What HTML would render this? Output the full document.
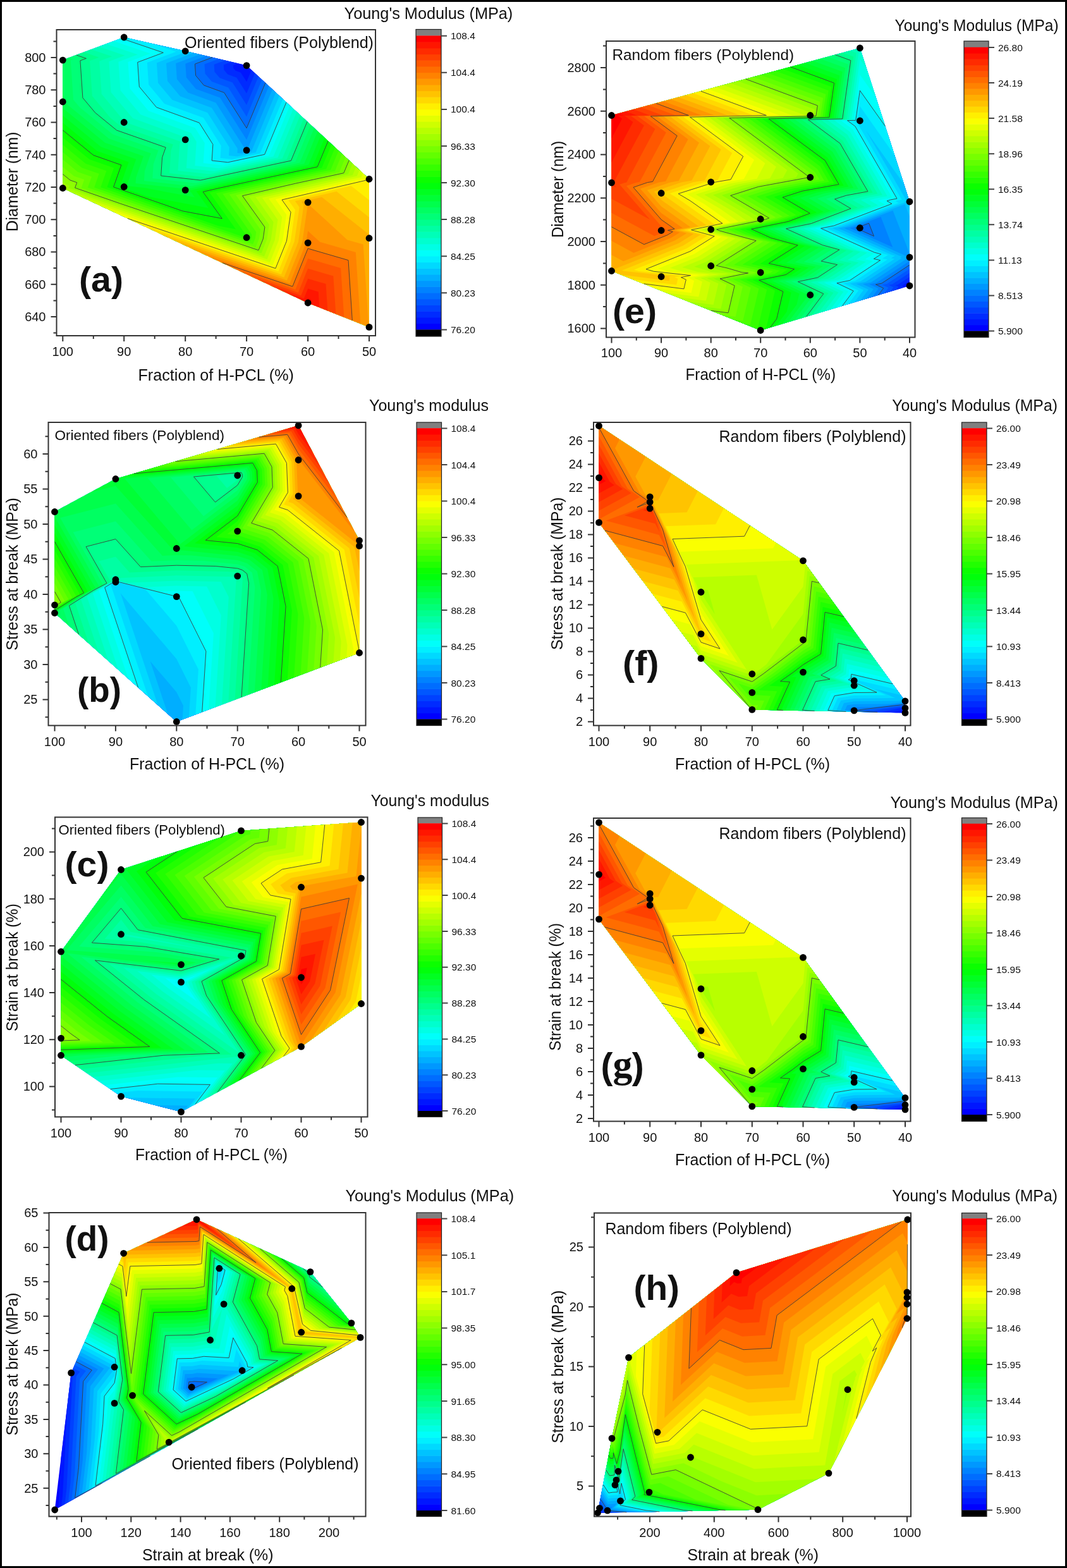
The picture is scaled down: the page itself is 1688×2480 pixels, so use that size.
<!DOCTYPE html>
<html><head><meta charset="utf-8"><title>Contour plots</title>
<style>
html,body{margin:0;padding:0;background:#fff;}
body{width:1688px;height:2480px;overflow:hidden;}
svg{display:block;}
svg text{font-family:'Liberation Sans', Arial, Helvetica, sans-serif;fill:#111;}
</style></head><body>
<svg xmlns="http://www.w3.org/2000/svg" width="1688" height="2480" viewBox="0 0 1688 2480">
<rect x="0" y="0" width="1688" height="2480" fill="#fff"/>
<g>
<path fill="#0000ff" d="M293.2,80.8L390.1,103.6L584,283.2L584,376.7L584,517.4L487.1,479L99.3,297.5L99.3,161L99.3,95.1L196.2,59L293.2,80.8Z"/>
<path fill="#0016ff" d="M386.1,102.6L384,103.4L384.1,104.7L385.1,105.9L387.5,106.8L390.1,111L392.3,105.6L584,283.2L584,376.7L584,517.4L487.1,479L99.3,297.5L99.3,161L99.3,95.1L196.2,59L293.2,80.8L386.1,102.6Z"/>
<path fill="#002bff" d="M376.1,100.3L368.9,102.9L369.2,107.7L372.6,111.7L380.9,114.7L390.1,129.3L397.9,110.7L584,283.2L584,376.7L584,517.4L487.1,479L99.3,297.5L99.3,161L99.3,95.1L196.2,59L293.2,80.8L376.1,100.3Z"/>
<path fill="#0041ff" d="M366.1,97.9L353.8,102.5L354.3,110.6L360.1,117.5L374.3,122.7L390.1,147.7L403.4,115.8L584,283.2L584,376.7L584,517.4L487.1,479L99.3,297.5L99.3,161L99.3,95.1L196.2,59L293.2,80.8L366.1,97.9Z"/>
<path fill="#0057ff" d="M356.1,95.5L338.6,102.1L339.4,113.6L347.6,123.3L367.8,130.6L390.1,166L408.9,120.9L584,283.2L584,376.7L584,517.4L487.1,479L99.3,297.5L99.3,161L99.3,95.1L196.2,59L293.2,80.8L356.1,95.5Z"/>
<path fill="#006dff" d="M346.1,93.2L323.5,101.6L324.5,116.5L335,129.1L361.2,138.6L390.1,184.4L414.4,126L584,283.2L584,376.7L584,517.4L487.1,479L99.3,297.5L99.3,161L99.3,95.1L196.2,59L293.2,80.8L346.1,93.2Z"/>
<path fill="#0082ff" d="M336.1,90.8L308.4,101.2L309.6,119.4L322.5,134.9L354.6,146.5L390.1,202.7L419.9,131.1L584,283.2L584,376.7L584,517.4L487.1,479L99.3,297.5L99.3,161L99.3,95.1L196.2,59L293.2,80.8L336.1,90.8Z"/>
<path fill="#0098ff" d="M326.1,88.5L293.3,100.7L294.8,122.4L310,140.7L348.1,154.5L390.1,221.1L425.4,136.3L584,283.2L584,376.7L584,517.4L487.1,479L99.3,297.5L99.3,161L99.3,95.1L196.2,59L293.2,80.8L326.1,88.5Z"/>
<path fill="#00aeff" d="M316,86.1L278.2,100.3L279.9,125.3L297.5,146.5L341.5,162.4L388.8,237.4L388.8,238L389.4,238L390.8,237.7L430.9,141.4L584,283.2L584,376.7L584,517.4L487.1,479L99.3,297.5L99.3,161L99.3,95.1L196.2,59L293.2,80.8L316,86.1Z"/>
<path fill="#00c3ff" d="M306,83.8L263,99.9L265,128.3L285,152.3L334.9,170.4L375.8,235.1L375.4,242L382.2,242.7L397.8,239.4L436.4,146.5L584,283.2L584,376.7L584,517.4L487.1,479L99.3,297.5L99.3,161L99.3,95.1L196.2,59L293.2,80.8L306,83.8Z"/>
<path fill="#00d9ff" d="M296,81.4L247.9,99.4L250.1,131.2L272.5,158.1L328.3,178.3L362.8,232.9L362,246L375,247.4L404.7,241L441.9,151.6L584,283.2L584,376.7L584,517.4L487.1,479L99.3,297.5L99.3,161L99.3,95.1L196.2,59L293.2,80.8L296,81.4Z"/>
<path fill="#00efff" d="M241.6,69.2L278.7,81.8L232.8,99L235.2,134.1L260,163.9L321.8,186.3L349.8,230.6L348.6,250L367.7,252.1L411.7,242.6L447.5,156.7L584,283.2L584,376.7L584,517.4L487.1,479L99.3,297.5L99.3,161L99.3,95.1L196.2,59L241.6,69.2Z"/>
<path fill="#00fffa" d="M191.8,60.6L258.3,83.3L217.7,98.5L220.3,137.1L247.5,169.7L315.2,194.2L336.8,228.4L335.2,254L360.5,256.8L418.6,244.3L453,161.8L584,283.2L584,376.7L584,517.4L487.1,479L99.3,297.5L99.3,161L99.3,95.1L191.8,60.6Z"/>
<path fill="#00ffe4" d="M180,65L238,84.8L202.5,98.1L205.4,140L235,175.5L308.6,202.2L323.8,226.2L321.7,258L353.3,261.5L425.6,245.9L458.5,166.9L584,283.2L584,376.7L584,517.4L487.1,479L99.3,297.5L99.3,161L99.3,95.1L180,65Z"/>
<path fill="#00ffce" d="M168.2,69.4L217.7,86.3L187.4,97.7L190.5,143L222.5,181.3L302.1,210.2L310.8,223.9L308.3,262L346,266.2L432.5,247.6L464,172L584,283.2L584,376.7L584,517.4L487.1,479L99.3,297.5L99.3,161L99.3,95.1L168.2,69.4Z"/>
<path fill="#00ffb8" d="M156.4,73.8L197.4,87.8L172.3,97.2L175.6,145.9L210,187.1L295.5,218.1L297.8,221.7L294.9,266L338.8,270.9L439.5,249.2L469.5,177.1L584,283.2L584,376.7L584,517.4L487.1,479L99.3,297.5L99.3,161L99.3,95.1L156.4,73.8Z"/>
<path fill="#00ffa3" d="M144.5,78.2L177.1,89.3L157.2,96.8L160.7,148.8L197.5,192.9L209.2,197.2L285.6,223.9L284.2,227.8L281.5,270L331.6,275.6L446.5,250.8L475,182.2L584,283.2L584,376.7L584,517.4L487.1,479L99.3,297.5L99.3,161L99.3,95.1L144.5,78.2Z"/>
<path fill="#00ff8d" d="M132.7,82.6L156.7,90.8L142,96.3L145.8,151.8L174.5,186.2L190.7,199.4L273.9,228.5L270.4,238.4L268.1,274L324.4,280.3L453.4,252.5L480.5,187.3L584,283.2L584,376.7L584,517.4L487.1,479L99.3,297.5L99.3,161L99.3,95.1L132.7,82.6Z"/>
<path fill="#00ff77" d="M120.9,87.1L136.4,92.4L126.9,95.9L130.9,154.7L150.5,178.1L184.6,206L262.2,233.2L256.6,249.1L254.7,278L317.1,285L460.4,254.1L486,192.4L584,283.2L584,376.7L584,517.4L487.1,479L99.3,297.5L99.3,161L99.3,95.1L120.9,87.1Z"/>
<path fill="#00ff62" d="M109.1,91.5L116.1,93.9L111.8,95.5L116,157.7L126.4,170L178.4,212.6L250.5,237.8L242.7,259.7L241.3,282L309.9,289.7L467.3,255.7L491.5,197.5L584,283.2L584,376.7L584,517.4L487.1,479L99.3,297.5L99.3,161L99.3,95.1L109.1,91.5Z"/>
<path fill="#00ff4c" d="M99.3,133.5L101.1,160.6L102.3,162L172.3,219.2L238.7,242.4L228.9,270.4L227.9,286L302.7,294.4L474.3,257.4L497.1,202.6L584,283.2L584,376.7L584,517.4L487.1,479L99.3,297.5L99.3,161L99.3,133.5Z"/>
<path fill="#00ff36" d="M99.3,171.1L166.2,225.8L227,247.1L215.1,281L214.5,290L295.5,299.1L481.2,259L502.6,207.7L584,283.2L584,376.7L584,517.4L487.1,479L99.3,297.5L99.3,171.1Z"/>
<path fill="#00ff21" d="M99.3,182.7L160,232.4L215.3,251.7L201.2,291.7L201.1,294L229.7,297.3L308,312.1L300.3,301.3L306.9,299.8L488.2,260.6L508.1,212.8L584,283.2L584,376.7L584,517.4L487.1,479L99.3,297.5L99.3,182.7Z"/>
<path fill="#00ff0b" d="M99.3,194.3L153.9,238.9L203.6,256.3L189.7,295.6L232.4,310.5L329.7,328.9L310.7,302.4L327,298.6L495.1,262.3L513.6,218L584,283.2L584,376.7L584,517.4L487.1,479L99.3,297.5L99.3,194.3Z"/>
<path fill="#0bff00" d="M99.3,205.9L147.8,245.5L191.9,261L179.6,295.8L289,333.8L351.3,345.7L321.1,303.4L347.1,297.4L502.1,263.9L519.1,223.1L584,283.2L584,376.7L584,517.4L487.1,479L99.3,297.5L99.3,205.9Z"/>
<path fill="#21ff00" d="M99.3,217.5L141.6,252.1L180.2,265.6L169.4,296.1L345.5,357.2L373,362.5L331.5,304.5L367.3,296.2L509,265.6L524.6,228.2L584,283.2L584,376.7L584,517.4L487.1,479L99.3,297.5L99.3,217.5Z"/>
<path fill="#36ff00" d="M99.3,229.1L135.5,258.7L168.4,270.2L159.3,296.3L380.1,373L391.1,376.7L391.4,375.8L391.6,374.9L341.9,305.5L387.4,295L516,267.2L530.1,233.3L584,283.2L584,376.7L584,517.4L487.1,479L99.3,297.5L99.3,229.1Z"/>
<path fill="#4cff00" d="M99.3,240.7L129.4,265.3L156.7,274.8L149.1,296.5L332.5,360.2L395.6,381.5L397.6,376.3L398.4,370.9L352.3,306.6L407.5,293.8L523,268.8L535.6,238.4L584,283.2L584,376.7L584,517.4L487.1,479L99.3,297.5L99.3,240.7Z"/>
<path fill="#62ff00" d="M99.3,252.3L123.2,271.9L145,279.5L138.9,296.7L284.9,347.4L400,386.3L403.8,376.9L405.3,367L362.7,307.6L427.6,292.6L529.9,270.5L541.1,243.5L584,283.2L584,376.7L584,517.4L487.1,479L99.3,297.5L99.3,252.3Z"/>
<path fill="#77ff00" d="M99.3,263.9L117.1,278.4L133.3,284.1L128.8,296.9L237.3,334.6L404.5,391L410,377.4L412.1,363.1L373.1,308.6L447.7,291.4L536.9,272.1L546.7,248.6L584,283.2L584,376.7L584,517.4L487.1,479L99.3,297.5L99.3,263.9Z"/>
<path fill="#8dff00" d="M99.3,275.5L111,285L121.6,288.7L118.6,297.1L189.7,321.8L409,395.8L416.2,378L418.9,359.2L383.5,309.7L467.8,290.1L543.8,273.7L552.2,253.7L584,283.2L584,376.7L584,517.4L487.1,479L99.3,297.5L99.3,275.5Z"/>
<path fill="#a3ff00" d="M99.3,287.1L104.8,291.6L109.9,293.4L108.5,297.3L142.2,309.1L413.5,400.6L422.4,378.5L425.8,355.2L393.9,310.7L487.9,288.9L550.8,275.4L557.7,258.8L584,283.2L584,376.7L584,517.4L487.1,479L99.3,297.5L99.3,287.1Z"/>
<path fill="#b8ff00" d="M101.8,298.7L418,405.4L428.6,379L432.6,351.3L404.3,311.8L508,287.7L557.7,277L563.2,263.9L584,283.2L584,376.7L584,517.4L487.1,479L101.8,298.7Z"/>
<path fill="#ceff00" d="M126.8,310.4L422.5,410.1L434.8,379.6L439.5,347.4L414.7,312.8L528.2,286.5L564.7,278.6L568.7,269L584,283.2L584,376.7L584,517.4L487.1,479L126.8,310.4Z"/>
<path fill="#e4ff00" d="M151.8,322.1L426.9,414.9L441,380.1L446.3,343.5L425.1,313.9L548.3,285.3L571.6,280.3L574.2,274.1L584,283.2L584,376.7L584,517.4L487.1,479L151.8,322.1Z"/>
<path fill="#faff00" d="M176.8,333.8L431.4,419.7L447.2,380.7L453.2,339.5L435.6,314.9L568.4,284.1L578.6,281.9L579.7,279.2L584,283.2L584,376.7L584,517.4L487.1,479L176.8,333.8Z"/>
<path fill="#ffef00" d="M201.8,345.5L435.9,424.5L453.4,381.2L460,335.6L446,316L578.8,285.2L584,289.3L584,376.7L584,517.4L487.1,479L201.8,345.5Z"/>
<path fill="#ffd900" d="M226.8,357.2L440.4,429.3L459.6,381.8L466.9,331.7L456.4,317L555.6,294L584,316.6L584,376.7L584,517.4L487.1,479L226.8,357.2Z"/>
<path fill="#ffc300" d="M251.9,368.9L444.9,434L465.7,382.3L473.7,327.7L466.8,318L532.4,302.8L584,343.8L584,376.7L584,517.4L487.1,479L251.9,368.9Z"/>
<path fill="#ffae00" d="M276.9,380.6L449.4,438.8L471.9,382.8L480.6,323.8L477.2,319.1L509.1,311.7L584,371.1L584,376.7L584,517.4L487.1,479L276.9,380.6Z"/>
<path fill="#ff9800" d="M301.9,392.3L453.9,443.6L478.1,383.4L487.1,322.2L549.5,379.4L574.6,386.6L583.4,517.1L487.1,479L301.9,392.3Z"/>
<path fill="#ff8200" d="M326.9,404L458.3,448.4L484.3,383.9L487.1,365.2L506.2,382.7L562.8,399.1L570.3,512L487.1,479L326.9,404Z"/>
<path fill="#ff6d00" d="M351.9,415.7L462.8,453.1L487.1,393L551,411.6L557.3,506.8L487.1,479L351.9,415.7Z"/>
<path fill="#ff5700" d="M376.9,427.4L467.3,457.9L487.1,408.9L539.1,424L544.3,501.7L487.1,479L376.9,427.4Z"/>
<path fill="#ff4100" d="M401.9,439.1L471.8,462.7L487.1,424.8L527.3,436.5L531.3,496.5L487.1,479L401.9,439.1Z"/>
<path fill="#ff2b00" d="M426.9,450.8L476.3,467.5L487.1,440.7L515.5,449L518.3,491.4L487.1,479L426.9,450.8Z"/>
<path fill="#ff1600" d="M452,462.5L480.8,472.3L487.1,456.6L503.7,461.5L505.3,486.2L487.1,479L452,462.5Z"/>
<path fill="#ff0000" d="M477,474.2L485.2,477L487.1,472.5L491.8,473.9L492.3,481L487.1,479L477,474.2Z"/>
<path fill="none" stroke="#3a3a3a" stroke-width="1" stroke-opacity="0.85" d="M336.1,90.8L308.4,101.2L309.6,119.4L322.5,134.9L354.6,146.5L390.1,202.7L419.9,131.1M191.8,60.6L258.3,83.3L217.7,98.5L220.3,137.1L247.5,169.7L315.2,194.2L336.8,228.4L335.2,254L360.5,256.8L418.6,244.3L453,161.8M120.9,87.1L136.4,92.4L126.9,95.9L130.9,154.7L150.5,178.1L184.6,206L262.2,233.2L256.6,249.1L254.7,278L317.1,285L460.4,254.1L486,192.4M99.3,205.9L147.8,245.5L191.9,261L179.6,295.8L289,333.8L351.3,345.7L321.1,303.4L347.1,297.4L502.1,263.9L519.1,223.1M99.3,275.5L111,285L121.6,288.7L118.6,297.1L189.7,321.8L409,395.8L416.2,378L418.9,359.2L383.5,309.7L467.8,290.1L543.8,273.7L552.2,253.7M201.8,345.5L435.9,424.5L453.4,381.2L460,335.6L446,316L578.8,285.2L584,289.3M351.9,415.7L462.8,453.1L487.1,393L551,411.6L557.3,506.8"/>
<circle cx="99.3" cy="95.1" r="5.4"/>
<circle cx="99.3" cy="161" r="5.4"/>
<circle cx="99.3" cy="297.5" r="5.4"/>
<circle cx="196.2" cy="59" r="5.4"/>
<circle cx="196.2" cy="193.5" r="5.4"/>
<circle cx="196.2" cy="295.5" r="5.4"/>
<circle cx="293.2" cy="80.8" r="5.4"/>
<circle cx="293.2" cy="220.9" r="5.4"/>
<circle cx="293.2" cy="300.6" r="5.4"/>
<circle cx="390.1" cy="103.6" r="5.4"/>
<circle cx="390.1" cy="237.6" r="5.4"/>
<circle cx="390.1" cy="375.7" r="5.4"/>
<circle cx="487.1" cy="320.1" r="5.4"/>
<circle cx="487.1" cy="384.1" r="5.4"/>
<circle cx="487.1" cy="479" r="5.4"/>
<circle cx="584" cy="283.2" r="5.4"/>
<circle cx="584" cy="376.7" r="5.4"/>
<circle cx="584" cy="517.4" r="5.4"/>
<text x="584" y="563" text-anchor="middle" font-size="20">50</text>
<text x="487.1" y="563" text-anchor="middle" font-size="20">60</text>
<text x="390.1" y="563" text-anchor="middle" font-size="20">70</text>
<text x="293.2" y="563" text-anchor="middle" font-size="20">80</text>
<text x="196.2" y="563" text-anchor="middle" font-size="20">90</text>
<text x="99.3" y="563" text-anchor="middle" font-size="20">100</text>
<text x="72.5" y="507.8" text-anchor="end" font-size="20">640</text>
<text x="72.5" y="456.6" text-anchor="end" font-size="20">660</text>
<text x="72.5" y="405.3" text-anchor="end" font-size="20">680</text>
<text x="72.5" y="354.1" text-anchor="end" font-size="20">700</text>
<text x="72.5" y="302.8" text-anchor="end" font-size="20">720</text>
<text x="72.5" y="251.6" text-anchor="end" font-size="20">740</text>
<text x="72.5" y="200.3" text-anchor="end" font-size="20">760</text>
<text x="72.5" y="149.1" text-anchor="end" font-size="20">780</text>
<text x="72.5" y="97.8" text-anchor="end" font-size="20">800</text>
<path fill="none" stroke="#333" stroke-width="2" d="M584,531V540M487.1,531V540M390.1,531V540M293.2,531V540M196.2,531V540M99.3,531V540M535.5,531V536M438.6,531V536M341.6,531V536M244.7,531V536M147.8,531V536M89.5,501H80.5M89.5,449.8H80.5M89.5,398.5H80.5M89.5,347.2H80.5M89.5,296H80.5M89.5,244.8H80.5M89.5,193.5H80.5M89.5,142.2H80.5M89.5,91H80.5M89.5,526.6H84.5M89.5,475.4H84.5M89.5,424.1H84.5M89.5,372.9H84.5M89.5,321.6H84.5M89.5,270.4H84.5M89.5,219.1H84.5M89.5,167.9H84.5M89.5,116.6H84.5M89.5,65.4H84.5"/>
<rect x="89.5" y="47" width="504.5" height="484" fill="none" stroke="#333" stroke-width="2"/>
<rect x="658" y="46.5" width="40" height="10.200000000000003" fill="#808080"/>
<rect x="658" y="511.4" width="40" height="10.3" fill="#0000ff"/>
<rect x="658" y="501.7" width="40" height="10.3" fill="#0016ff"/>
<rect x="658" y="492.1" width="40" height="10.3" fill="#002bff"/>
<rect x="658" y="482.4" width="40" height="10.3" fill="#0041ff"/>
<rect x="658" y="472.7" width="40" height="10.3" fill="#0057ff"/>
<rect x="658" y="463" width="40" height="10.3" fill="#006dff"/>
<rect x="658" y="453.3" width="40" height="10.3" fill="#0082ff"/>
<rect x="658" y="443.6" width="40" height="10.3" fill="#0098ff"/>
<rect x="658" y="434" width="40" height="10.3" fill="#00aeff"/>
<rect x="658" y="424.3" width="40" height="10.3" fill="#00c3ff"/>
<rect x="658" y="414.6" width="40" height="10.3" fill="#00d9ff"/>
<rect x="658" y="404.9" width="40" height="10.3" fill="#00efff"/>
<rect x="658" y="395.2" width="40" height="10.3" fill="#00fffa"/>
<rect x="658" y="385.6" width="40" height="10.3" fill="#00ffe4"/>
<rect x="658" y="375.9" width="40" height="10.3" fill="#00ffce"/>
<rect x="658" y="366.2" width="40" height="10.3" fill="#00ffb8"/>
<rect x="658" y="356.5" width="40" height="10.3" fill="#00ffa3"/>
<rect x="658" y="346.8" width="40" height="10.3" fill="#00ff8d"/>
<rect x="658" y="337.2" width="40" height="10.3" fill="#00ff77"/>
<rect x="658" y="327.5" width="40" height="10.3" fill="#00ff62"/>
<rect x="658" y="317.8" width="40" height="10.3" fill="#00ff4c"/>
<rect x="658" y="308.1" width="40" height="10.3" fill="#00ff36"/>
<rect x="658" y="298.4" width="40" height="10.3" fill="#00ff21"/>
<rect x="658" y="288.7" width="40" height="10.3" fill="#00ff0b"/>
<rect x="658" y="279.1" width="40" height="10.3" fill="#0bff00"/>
<rect x="658" y="269.4" width="40" height="10.3" fill="#21ff00"/>
<rect x="658" y="259.7" width="40" height="10.3" fill="#36ff00"/>
<rect x="658" y="250" width="40" height="10.3" fill="#4cff00"/>
<rect x="658" y="240.3" width="40" height="10.3" fill="#62ff00"/>
<rect x="658" y="230.7" width="40" height="10.3" fill="#77ff00"/>
<rect x="658" y="221" width="40" height="10.3" fill="#8dff00"/>
<rect x="658" y="211.3" width="40" height="10.3" fill="#a3ff00"/>
<rect x="658" y="201.6" width="40" height="10.3" fill="#b8ff00"/>
<rect x="658" y="191.9" width="40" height="10.3" fill="#ceff00"/>
<rect x="658" y="182.3" width="40" height="10.3" fill="#e4ff00"/>
<rect x="658" y="172.6" width="40" height="10.3" fill="#faff00"/>
<rect x="658" y="162.9" width="40" height="10.3" fill="#ffef00"/>
<rect x="658" y="153.2" width="40" height="10.3" fill="#ffd900"/>
<rect x="658" y="143.5" width="40" height="10.3" fill="#ffc300"/>
<rect x="658" y="133.8" width="40" height="10.3" fill="#ffae00"/>
<rect x="658" y="124.2" width="40" height="10.3" fill="#ff9800"/>
<rect x="658" y="114.5" width="40" height="10.3" fill="#ff8200"/>
<rect x="658" y="104.8" width="40" height="10.3" fill="#ff6d00"/>
<rect x="658" y="95.1" width="40" height="10.3" fill="#ff5700"/>
<rect x="658" y="85.4" width="40" height="10.3" fill="#ff4100"/>
<rect x="658" y="75.8" width="40" height="10.3" fill="#ff2b00"/>
<rect x="658" y="66.1" width="40" height="10.3" fill="#ff1600"/>
<rect x="658" y="56.4" width="40" height="10.3" fill="#ff0000"/>
<rect x="658" y="521.4" width="40" height="10.6" fill="#000"/>
<rect x="658" y="46.5" width="40" height="485.5" fill="none" stroke="#222" stroke-width="1.2"/>
<text x="713" y="62.2" font-size="15.5">108.4</text>
<text x="713" y="120.3" font-size="15.5">104.4</text>
<text x="713" y="178.4" font-size="15.5">100.4</text>
<text x="713" y="236.5" font-size="15.5">96.33</text>
<text x="713" y="294.6" font-size="15.5">92.30</text>
<text x="713" y="352.7" font-size="15.5">88.28</text>
<text x="713" y="410.8" font-size="15.5">84.25</text>
<text x="713" y="468.9" font-size="15.5">80.23</text>
<text x="713" y="526.9" font-size="15.5">76.20</text>
<path stroke="#444" stroke-width="2" d="M698,56.7H707M698,114.8H707M698,172.9H707M698,231H707M698,289.1H707M698,347.1H707M698,405.2H707M698,463.3H707M698,521.4H707"/>
<text x="544.6" y="29.5" font-size="25" textLength="266.7" lengthAdjust="spacingAndGlyphs">Young's Modulus (MPa)</text>
<text x="292" y="76" font-size="25" textLength="299" lengthAdjust="spacingAndGlyphs">Oriented fibers (Polyblend)</text>
<text x="341.75" y="601.5" font-size="25" text-anchor="middle" textLength="246.5" lengthAdjust="spacingAndGlyphs">Fraction of H-PCL (%)</text>
<text x="28.2" y="287.4" font-size="25" text-anchor="middle" transform="rotate(-90 28.2 287.4)" textLength="157.8" lengthAdjust="spacingAndGlyphs">Diameter (nm)</text>
<text x="125" y="461" font-size="56" font-weight="bold" textLength="70" lengthAdjust="spacingAndGlyphs">(a)</text>
</g>
<g>
<path fill="#0000ff" d="M568.5,1032.5L279.3,1141.5L86.5,969.5L86.5,957L86.5,809.5L182.9,757.5L472.1,673L568.5,855L568.5,863.4L568.5,1032.5Z"/>
<path fill="#0016ff" d="M568.5,1032.5L279.3,1141.5L86.5,969.5L86.5,957L86.5,809.5L182.9,757.5L472.1,673L568.5,855L568.5,863.4L568.5,1032.5Z"/>
<path fill="#002bff" d="M568.5,1032.5L279.3,1141.5L86.5,969.5L86.5,957L86.5,809.5L182.9,757.5L472.1,673L568.5,855L568.5,863.4L568.5,1032.5Z"/>
<path fill="#0041ff" d="M568.5,1032.5L279.3,1141.5L86.5,969.5L86.5,957L86.5,809.5L182.9,757.5L472.1,673L568.5,855L568.5,863.4L568.5,1032.5Z"/>
<path fill="#0057ff" d="M568.5,1032.5L279.3,1141.5L86.5,969.5L86.5,957L86.5,809.5L182.9,757.5L472.1,673L568.5,855L568.5,863.4L568.5,1032.5Z"/>
<path fill="#006dff" d="M568.5,1032.5L279.3,1141.5L86.5,969.5L86.5,957L86.5,809.5L182.9,757.5L472.1,673L568.5,855L568.5,863.4L568.5,1032.5Z"/>
<path fill="#0082ff" d="M568.5,1032.5L279.3,1141.5L86.5,969.5L86.5,957L86.5,809.5L182.9,757.5L472.1,673L568.5,855L568.5,863.4L568.5,1032.5Z"/>
<path fill="#0098ff" d="M568.5,1032.5L279.3,1141.5L86.5,969.5L86.5,957L86.5,809.5L182.9,757.5L472.1,673L568.5,855L568.5,863.4L568.5,1032.5Z"/>
<path fill="#00aeff" d="M568.5,1032.5L279.3,1141.5L86.5,969.5L86.5,957L86.5,809.5L182.9,757.5L472.1,673L568.5,855L568.5,863.4L568.5,1032.5Z"/>
<path fill="#00c3ff" d="M288.6,1138L290,1116L279.3,1094.7L237.6,1045.8L265.4,1129L86.5,969.5L86.5,957L86.5,809.5L182.9,757.5L472.1,673L568.5,855L568.5,863.4L568.5,1032.5L288.6,1138Z"/>
<path fill="#00d9ff" d="M298.9,1134.1L301.9,1087.4L279.3,1042.2L190.7,938.3L249.7,1115.1L86.5,969.5L86.5,957L86.5,809.5L182.9,757.5L472.1,673L568.5,855L568.5,863.4L568.5,1032.5L298.9,1134.1Z"/>
<path fill="#00efff" d="M309.3,1130.1L313.9,1058.8L279.3,989.8L229.8,931.7L182.9,919.9L179.2,921.9L175.1,924.4L234.1,1101.1L86.5,969.5L86.5,957L86.5,809.5L182.9,757.5L472.1,673L568.5,855L568.5,863.4L568.5,1032.5L309.3,1130.1Z"/>
<path fill="#00fffa" d="M319.7,1126.2L325.9,1030.1L282,942.6L279.3,942.6L276.3,942.7L182.9,919.2L174.7,923.6L165.7,929.2L218.5,1087.2L86.5,969.5L86.5,957L86.5,809.5L182.9,757.5L472.1,673L568.5,855L568.5,863.4L568.5,1032.5L319.7,1126.2Z"/>
<path fill="#00ffe4" d="M330.1,1122.3L337.9,1001.5L304.5,935.1L279.3,934.5L251.1,935.7L182.9,918.5L170.2,925.3L156.3,934L202.8,1073.3L86.5,969.5L86.5,957L86.5,809.5L182.9,757.5L472.1,673L568.5,855L568.5,863.4L568.5,1032.5L330.1,1122.3Z"/>
<path fill="#00ffce" d="M340.5,1118.4L349.8,972.9L327.1,927.5L279.3,926.4L226,928.7L182.9,917.9L165.7,927L146.9,938.8L187.2,1059.3L86.5,969.5L86.5,957L86.5,809.5L182.9,757.5L472.1,673L568.5,855L568.5,863.4L568.5,1032.5L340.5,1118.4Z"/>
<path fill="#00ffb8" d="M350.9,1114.5L361.8,944.3L349.6,919.9L279.3,918.4L200.8,921.7L182.9,917.2L161.2,928.7L137.5,943.6L171.5,1045.4L86.5,969.5L86.5,957L86.5,809.5L182.9,757.5L472.1,673L568.5,855L568.5,863.4L568.5,1032.5L350.9,1114.5Z"/>
<path fill="#00ffa3" d="M361.3,1110.6L373.8,915.7L372.1,912.3L279.3,910.3L187.9,914.2L182.9,908.6L177,910.1L181.2,917.4L156.7,930.4L128.1,948.3L155.9,1031.4L86.5,969.5L86.5,957L86.5,809.5L182.9,757.5L472.1,673L568.5,855L568.5,863.4L568.5,1032.5L361.3,1110.6Z"/>
<path fill="#00ff8d" d="M371.6,1106.7L383.9,916.3L382.5,909.5L379.1,906.7L375.7,905.6L359.9,904L279.3,902.2L205.1,905.4L182.9,880.6L156.5,887.4L175.1,920L152.2,932.1L118.8,953.1L140.3,1017.5L86.5,969.5L86.5,957L86.5,809.5L182.9,757.5L472.1,673L568.5,855L568.5,863.4L568.5,1032.5L371.6,1106.7ZM342.9,752.9L359,772L375.7,759.3L379.3,753.2L379.2,751.1L378.4,749.7L342.9,752.9Z"/>
<path fill="#00ff77" d="M382,1102.7L393.6,922.4L390.6,907.4L383.1,901.4L375.7,899L341.2,895.5L279.3,894.2L222.4,896.6L182.9,852.6L136.1,864.6L169,922.5L147.7,933.8L109.4,957.9L124.6,1003.5L86.5,969.5L86.5,957L86.5,809.5L182.9,757.5L472.1,673L568.5,855L568.5,863.4L568.5,1032.5L382,1102.7ZM306.5,754L340.5,794.2L375.7,767.4L383.3,754.5L383.1,750.1L381.5,747.2L306.5,754Z"/>
<path fill="#00ff62" d="M392.4,1098.8L403.4,928.6L398.7,905.4L387.1,896.2L375.7,892.5L322.4,887L279.3,886.1L239.6,887.8L182.9,824.5L115.6,841.8L163,925L143.2,935.5L100,962.7L109,989.6L86.5,969.5L86.5,957L86.5,809.5L182.9,757.5L472.1,673L568.5,855L568.5,863.4L568.5,1032.5L392.4,1098.8ZM270,755L322,816.4L375.7,775.5L387.3,755.9L387,749.1L384.6,744.7L270,755Z"/>
<path fill="#00ff4c" d="M402.8,1094.9L413.1,934.7L406.8,903.4L391.1,890.9L375.7,885.9L303.7,878.6L279.3,878L256.8,879L182.9,796.5L95.1,819.1L156.9,927.6L138.7,937.2L90.6,967.4L93.3,975.6L86.5,969.5L86.5,957L86.5,809.5L182.9,757.5L472.1,673L568.5,855L568.5,863.4L568.5,1032.5L402.8,1094.9ZM233.6,756.1L303.4,838.6L375.7,783.6L391.3,757.3L390.9,748.1L387.6,742.2L233.6,756.1Z"/>
<path fill="#00ff36" d="M413.2,1091L422.8,940.8L414.9,901.4L395.1,885.6L375.7,879.3L285,870.1L279.3,870L274.1,870.2L182.9,768.5L144,778.5L182.9,757.5L472.1,673L568.5,855L568.5,863.4L568.5,1032.5L413.2,1091ZM86.5,817.1L150.8,930.1L134.2,938.9L86.5,968.9L86.5,957L86.5,817.1ZM197.2,757.1L284.9,860.8L375.7,791.7L395.3,758.6L394.8,747.1L390.7,739.7L197.2,757.1Z"/>
<path fill="#00ff21" d="M423.6,1087.1L432.6,946.9L423,899.4L399.1,880.4L375.7,872.7L291.2,864.1L375.7,799.8L399.3,760L398.7,746.1L393.7,737.2L189.6,755.6L472.1,673L568.5,855L568.5,863.4L568.5,1032.5L423.6,1087.1ZM86.5,830.3L144.8,932.6L129.7,940.6L86.5,967.8L86.5,957L86.5,830.3Z"/>
<path fill="#00ff0b" d="M434,1083.2L442.3,953.1L431.1,897.4L403.1,875.1L375.7,866.2L308.2,859.3L375.7,807.9L403.3,761.3L402.6,745.1L396.8,734.7L200.6,752.3L472.1,673L568.5,855L568.5,863.4L568.5,1032.5L434,1083.2ZM86.5,843.5L138.7,935.2L125.2,942.3L86.5,966.6L86.5,957L86.5,843.5Z"/>
<path fill="#0bff00" d="M444.3,1079.3L452.1,959.2L439.2,895.4L407.2,869.8L375.7,859.6L325.2,854.5L375.7,816L407.3,762.7L406.5,744.2L399.8,732.2L211.6,749.1L472.1,673L568.5,855L568.5,863.4L568.5,1032.5L444.3,1079.3ZM86.5,856.7L132.6,937.7L120.7,944L86.5,965.5L86.5,957L86.5,856.7Z"/>
<path fill="#21ff00" d="M454.7,1075.3L461.8,965.3L447.3,893.4L411.2,864.6L375.7,853L342.2,849.6L375.7,824.2L411.3,764L410.4,743.2L402.9,729.7L222.6,745.9L472.1,673L568.5,855L568.5,863.4L568.5,1032.5L454.7,1075.3ZM86.5,869.9L126.6,940.2L116.2,945.7L86.5,964.4L86.5,957L86.5,869.9Z"/>
<path fill="#36ff00" d="M465.1,1071.4L471.5,971.5L455.4,891.4L415.2,859.3L375.7,846.5L359.3,844.8L375.7,832.3L415.3,765.4L414.3,742.2L405.9,727.2L233.6,742.7L472.1,673L568.5,855L568.5,863.4L568.5,1032.5L465.1,1071.4ZM86.5,883.1L120.5,942.8L111.7,947.4L86.5,963.3L86.5,957L86.5,883.1Z"/>
<path fill="#4cff00" d="M475.5,1067.5L481.3,977.6L463.6,889.4L419.2,854.1L375.9,840L419.3,766.7L418.2,741.2L409,724.7L244.6,739.5L472.1,673L568.5,855L568.5,863.4L568.5,1032.5L475.5,1067.5ZM86.5,896.3L114.4,945.3L107.2,949.1L86.5,962.2L86.5,957L86.5,896.3Z"/>
<path fill="#62ff00" d="M485.9,1063.6L491,983.7L471.7,887.4L423.2,848.8L383.2,835.8L423.3,768.1L422.1,740.2L412,722.2L255.6,736.3L472.1,673L568.5,855L568.5,863.4L568.5,1032.5L485.9,1063.6ZM86.5,909.4L108.4,947.8L102.7,950.8L86.5,961L86.5,957L86.5,909.4Z"/>
<path fill="#77ff00" d="M496.3,1059.7L500.8,989.8L479.8,885.4L427.2,843.5L390.5,831.6L427.3,769.4L426,739.2L415.1,719.7L266.6,733.1L472.1,673L568.5,855L568.5,863.4L568.5,1032.5L496.3,1059.7ZM86.5,922.6L102.3,950.4L98.2,952.5L86.5,959.9L86.5,957L86.5,922.6Z"/>
<path fill="#8dff00" d="M506.7,1055.8L510.5,996L487.9,883.4L431.2,838.3L397.8,827.4L431.3,770.8L430,738.2L418.1,717.2L277.6,729.9L472.1,673L568.5,855L568.5,863.4L568.5,1032.5L506.7,1055.8ZM86.5,935.8L96.2,952.9L93.7,954.3L86.5,958.8L86.5,957L86.5,935.8Z"/>
<path fill="#a3ff00" d="M517,1051.9L520.2,1002.1L496,881.4L435.2,833L405.1,823.2L435.3,772.2L433.9,737.2L421.2,714.7L288.6,726.6L472.1,673L568.5,855L568.5,863.4L568.5,1032.5L517,1051.9ZM86.5,949L90.2,955.5L89.2,956L86.5,957.7L86.5,957L86.5,949Z"/>
<path fill="#b8ff00" d="M527.4,1047.9L530,1008.2L504.1,879.4L439.2,827.7L412.4,819L439.3,773.5L437.8,736.2L424.2,712.2L299.6,723.4L472.1,673L568.5,855L568.5,863.4L568.5,1032.5L527.4,1047.9Z"/>
<path fill="#ceff00" d="M537.8,1044L539.7,1014.4L512.2,877.4L443.3,822.5L419.7,814.8L443.3,774.9L441.7,735.3L427.3,709.7L310.6,720.2L472.1,673L568.5,855L568.5,863.4L568.5,1032.5L537.8,1044Z"/>
<path fill="#e4ff00" d="M548.2,1040.1L549.5,1020.5L520.3,875.3L447.3,817.2L427,810.6L447.3,776.2L445.6,734.3L430.3,707.2L321.6,717L472.1,673L568.5,855L568.5,863.4L568.5,1032.5L548.2,1040.1Z"/>
<path fill="#faff00" d="M558.6,1036.2L559.2,1026.6L528.4,873.3L451.3,811.9L434.3,806.4L451.3,777.6L449.5,733.3L433.4,704.7L332.6,713.8L472.1,673L568.5,855L568.5,863.4L568.5,1032.5L558.6,1036.2Z"/>
<path fill="#ffef00" d="M568.5,1030.6L536.5,871.3L455.3,806.7L441.6,802.2L455.3,778.9L453.4,732.3L436.4,702.2L343.6,710.6L472.1,673L568.5,855L568.5,863.4L568.5,1030.6Z"/>
<path fill="#ffd900" d="M568.5,988.3L544.6,869.3L459.3,801.4L448.9,798L459.3,780.3L457.3,731.3L439.5,699.7L354.6,707.4L472.1,673L568.5,855L568.5,863.4L568.5,988.3Z"/>
<path fill="#ffc300" d="M568.5,945.9L552.7,867.3L463.3,796.1L456.1,793.8L463.3,781.6L461.2,730.3L442.5,697.2L365.6,704.2L472.1,673L568.5,855L568.5,863.4L568.5,945.9Z"/>
<path fill="#ffae00" d="M568.5,903.6L560.8,865.3L467.3,790.9L463.4,789.6L467.3,783L465.1,729.3L445.6,694.7L376.6,701L472.1,673L568.5,855L568.5,863.4L568.5,903.6Z"/>
<path fill="#ff9800" d="M568.5,862.7L548.4,847L471.3,785.6L470.7,785.4L471.3,784.3L469,728.3L448.6,692.3L387.6,697.7L472.1,673L568.5,855L568.5,862.7Z"/>
<path fill="#ff8200" d="M562.8,844.1L472.1,726L451.7,689.8L398.6,694.5L472.1,673L562.8,844.1Z"/>
<path fill="#ff6d00" d="M549.2,818.6L472.1,718L454.7,687.3L409.6,691.3L472.1,673L549.2,818.6Z"/>
<path fill="#ff5700" d="M535.6,793L472.1,710.1L457.8,684.8L420.6,688.1L472.1,673L535.6,793Z"/>
<path fill="#ff4100" d="M522.1,767.4L472.1,702.2L460.8,682.3L431.6,684.9L472.1,673L522.1,767.4Z"/>
<path fill="#ff2b00" d="M508.5,741.8L472.1,694.3L463.9,679.8L442.5,681.7L472.1,673L508.5,741.8Z"/>
<path fill="#ff1600" d="M495,716.2L472.1,686.4L467,677.3L453.5,678.5L472.1,673L495,716.2Z"/>
<path fill="#ff0000" d="M481.4,690.6L472.1,678.5L470,674.8L464.5,675.3L472.1,673L481.4,690.6Z"/>
<path fill="none" stroke="#3a3a3a" stroke-width="1" stroke-opacity="0.85" d="M319.7,1126.2L325.9,1030.1L282,942.6L279.3,942.6L276.3,942.7L182.9,919.2L174.7,923.6L165.7,929.2L218.5,1087.2M382,1102.7L393.6,922.4L390.6,907.4L383.1,901.4L375.7,899L341.2,895.5L279.3,894.2L222.4,896.6L182.9,852.6L136.1,864.6L169,922.5L147.7,933.8L109.4,957.9L124.6,1003.5M306.5,754L340.5,794.2L375.7,767.4L383.3,754.5L383.1,750.1L381.5,747.2L306.5,754M444.3,1079.3L452.1,959.2L439.2,895.4L407.2,869.8L375.7,859.6L325.2,854.5L375.7,816L407.3,762.7L406.5,744.2L399.8,732.2L211.6,749.1M86.5,856.7L132.6,937.7L120.7,944L86.5,965.5M506.7,1055.8L510.5,996L487.9,883.4L431.2,838.3L397.8,827.4L431.3,770.8L430,738.2L418.1,717.2L277.6,729.9M86.5,935.8L96.2,952.9L93.7,954.3L86.5,958.8M568.5,1030.6L536.5,871.3L455.3,806.7L441.6,802.2L455.3,778.9L453.4,732.3L436.4,702.2L343.6,710.6M549.2,818.6L472.1,718L454.7,687.3L409.6,691.3"/>
<circle cx="472.1" cy="673" r="5.4"/>
<circle cx="472.1" cy="727.5" r="5.4"/>
<circle cx="472.1" cy="784.6" r="5.4"/>
<circle cx="182.9" cy="757.5" r="5.4"/>
<circle cx="86.5" cy="809.5" r="5.4"/>
<circle cx="375.7" cy="752" r="5.4"/>
<circle cx="375.7" cy="840.1" r="5.4"/>
<circle cx="279.3" cy="867.5" r="5.4"/>
<circle cx="375.7" cy="911.1" r="5.4"/>
<circle cx="182.9" cy="916.7" r="5.4"/>
<circle cx="182.9" cy="920.5" r="5.4"/>
<circle cx="279.3" cy="943.6" r="5.4"/>
<circle cx="86.5" cy="957" r="5.4"/>
<circle cx="86.5" cy="969.5" r="5.4"/>
<circle cx="279.3" cy="1141.5" r="5.4"/>
<circle cx="568.5" cy="855" r="5.4"/>
<circle cx="568.5" cy="863.4" r="5.4"/>
<circle cx="568.5" cy="1032.5" r="5.4"/>
<text x="568.5" y="1179.5" text-anchor="middle" font-size="20">50</text>
<text x="472.1" y="1179.5" text-anchor="middle" font-size="20">60</text>
<text x="375.7" y="1179.5" text-anchor="middle" font-size="20">70</text>
<text x="279.3" y="1179.5" text-anchor="middle" font-size="20">80</text>
<text x="182.9" y="1179.5" text-anchor="middle" font-size="20">90</text>
<text x="86.5" y="1179.5" text-anchor="middle" font-size="20">100</text>
<text x="59.5" y="1113.3" text-anchor="end" font-size="20">25</text>
<text x="59.5" y="1057.8" text-anchor="end" font-size="20">30</text>
<text x="59.5" y="1002.3" text-anchor="end" font-size="20">35</text>
<text x="59.5" y="946.8" text-anchor="end" font-size="20">40</text>
<text x="59.5" y="891.3" text-anchor="end" font-size="20">45</text>
<text x="59.5" y="835.8" text-anchor="end" font-size="20">50</text>
<text x="59.5" y="780.3" text-anchor="end" font-size="20">55</text>
<text x="59.5" y="724.8" text-anchor="end" font-size="20">60</text>
<path fill="none" stroke="#333" stroke-width="2" d="M568.5,1147.5V1156.5M472.1,1147.5V1156.5M375.7,1147.5V1156.5M279.3,1147.5V1156.5M182.9,1147.5V1156.5M86.5,1147.5V1156.5M520.3,1147.5V1152.5M423.9,1147.5V1152.5M327.5,1147.5V1152.5M231.1,1147.5V1152.5M134.7,1147.5V1152.5M76.5,1106.5H67.5M76.5,1051H67.5M76.5,995.5H67.5M76.5,940H67.5M76.5,884.5H67.5M76.5,829H67.5M76.5,773.5H67.5M76.5,718H67.5M76.5,1134.2H71.5M76.5,1078.8H71.5M76.5,1023.2H71.5M76.5,967.8H71.5M76.5,912.2H71.5M76.5,856.8H71.5M76.5,801.2H71.5M76.5,745.8H71.5M76.5,690.2H71.5"/>
<rect x="76.5" y="668" width="502.0" height="479.5" fill="none" stroke="#333" stroke-width="2"/>
<rect x="659" y="668" width="39.5" height="9.5" fill="#808080"/>
<rect x="659" y="1127.6" width="39.5" height="10.2" fill="#0000ff"/>
<rect x="659" y="1118" width="39.5" height="10.2" fill="#0016ff"/>
<rect x="659" y="1108.5" width="39.5" height="10.2" fill="#002bff"/>
<rect x="659" y="1098.9" width="39.5" height="10.2" fill="#0041ff"/>
<rect x="659" y="1089.3" width="39.5" height="10.2" fill="#0057ff"/>
<rect x="659" y="1079.7" width="39.5" height="10.2" fill="#006dff"/>
<rect x="659" y="1070.1" width="39.5" height="10.2" fill="#0082ff"/>
<rect x="659" y="1060.5" width="39.5" height="10.2" fill="#0098ff"/>
<rect x="659" y="1051" width="39.5" height="10.2" fill="#00aeff"/>
<rect x="659" y="1041.4" width="39.5" height="10.2" fill="#00c3ff"/>
<rect x="659" y="1031.8" width="39.5" height="10.2" fill="#00d9ff"/>
<rect x="659" y="1022.2" width="39.5" height="10.2" fill="#00efff"/>
<rect x="659" y="1012.6" width="39.5" height="10.2" fill="#00fffa"/>
<rect x="659" y="1003" width="39.5" height="10.2" fill="#00ffe4"/>
<rect x="659" y="993.4" width="39.5" height="10.2" fill="#00ffce"/>
<rect x="659" y="983.9" width="39.5" height="10.2" fill="#00ffb8"/>
<rect x="659" y="974.3" width="39.5" height="10.2" fill="#00ffa3"/>
<rect x="659" y="964.7" width="39.5" height="10.2" fill="#00ff8d"/>
<rect x="659" y="955.1" width="39.5" height="10.2" fill="#00ff77"/>
<rect x="659" y="945.5" width="39.5" height="10.2" fill="#00ff62"/>
<rect x="659" y="935.9" width="39.5" height="10.2" fill="#00ff4c"/>
<rect x="659" y="926.4" width="39.5" height="10.2" fill="#00ff36"/>
<rect x="659" y="916.8" width="39.5" height="10.2" fill="#00ff21"/>
<rect x="659" y="907.2" width="39.5" height="10.2" fill="#00ff0b"/>
<rect x="659" y="897.6" width="39.5" height="10.2" fill="#0bff00"/>
<rect x="659" y="888" width="39.5" height="10.2" fill="#21ff00"/>
<rect x="659" y="878.4" width="39.5" height="10.2" fill="#36ff00"/>
<rect x="659" y="868.9" width="39.5" height="10.2" fill="#4cff00"/>
<rect x="659" y="859.3" width="39.5" height="10.2" fill="#62ff00"/>
<rect x="659" y="849.7" width="39.5" height="10.2" fill="#77ff00"/>
<rect x="659" y="840.1" width="39.5" height="10.2" fill="#8dff00"/>
<rect x="659" y="830.5" width="39.5" height="10.2" fill="#a3ff00"/>
<rect x="659" y="820.9" width="39.5" height="10.2" fill="#b8ff00"/>
<rect x="659" y="811.4" width="39.5" height="10.2" fill="#ceff00"/>
<rect x="659" y="801.8" width="39.5" height="10.2" fill="#e4ff00"/>
<rect x="659" y="792.2" width="39.5" height="10.2" fill="#faff00"/>
<rect x="659" y="782.6" width="39.5" height="10.2" fill="#ffef00"/>
<rect x="659" y="773" width="39.5" height="10.2" fill="#ffd900"/>
<rect x="659" y="763.4" width="39.5" height="10.2" fill="#ffc300"/>
<rect x="659" y="753.9" width="39.5" height="10.2" fill="#ffae00"/>
<rect x="659" y="744.3" width="39.5" height="10.2" fill="#ff9800"/>
<rect x="659" y="734.7" width="39.5" height="10.2" fill="#ff8200"/>
<rect x="659" y="725.1" width="39.5" height="10.2" fill="#ff6d00"/>
<rect x="659" y="715.5" width="39.5" height="10.2" fill="#ff5700"/>
<rect x="659" y="705.9" width="39.5" height="10.2" fill="#ff4100"/>
<rect x="659" y="696.4" width="39.5" height="10.2" fill="#ff2b00"/>
<rect x="659" y="686.8" width="39.5" height="10.2" fill="#ff1600"/>
<rect x="659" y="677.2" width="39.5" height="10.2" fill="#ff0000"/>
<rect x="659" y="1137.5" width="39.5" height="10" fill="#000"/>
<rect x="659" y="668" width="39.5" height="479.5" fill="none" stroke="#222" stroke-width="1.2"/>
<text x="713.5" y="683" font-size="15.5">108.4</text>
<text x="713.5" y="740.5" font-size="15.5">104.4</text>
<text x="713.5" y="798" font-size="15.5">100.4</text>
<text x="713.5" y="855.5" font-size="15.5">96.33</text>
<text x="713.5" y="913" font-size="15.5">92.30</text>
<text x="713.5" y="970.5" font-size="15.5">88.28</text>
<text x="713.5" y="1028" font-size="15.5">84.25</text>
<text x="713.5" y="1085.5" font-size="15.5">80.23</text>
<text x="713.5" y="1143" font-size="15.5">76.20</text>
<path stroke="#444" stroke-width="2" d="M698.5,677.5H707.5M698.5,735H707.5M698.5,792.5H707.5M698.5,850H707.5M698.5,907.5H707.5M698.5,965H707.5M698.5,1022.5H707.5M698.5,1080H707.5M698.5,1137.5H707.5"/>
<text x="584" y="650.4" font-size="25" textLength="189" lengthAdjust="spacingAndGlyphs">Young's modulus</text>
<text x="86.5" y="695.5" font-size="22.6" textLength="268.5" lengthAdjust="spacingAndGlyphs">Oriented fibers (Polyblend)</text>
<text x="327.5" y="1217" font-size="25" text-anchor="middle" textLength="245" lengthAdjust="spacingAndGlyphs">Fraction of H-PCL (%)</text>
<text x="27.8" y="907.9" font-size="25" text-anchor="middle" transform="rotate(-90 27.8 907.9)" textLength="241.5" lengthAdjust="spacingAndGlyphs">Stress at break (MPa)</text>
<text x="122" y="1110" font-size="56" font-weight="bold" textLength="70" lengthAdjust="spacingAndGlyphs">(b)</text>
</g>
<g>
<path fill="#0000ff" d="M381.5,1313.9L571.5,1300.5L571.5,1389.1L571.5,1587.5L476.5,1655.4L286.5,1758.6L191.5,1734.1L96.5,1669.2L96.5,1642.1L96.5,1505.2L191.5,1375.5L381.5,1313.9Z"/>
<path fill="#0016ff" d="M381.5,1313.9L571.5,1300.5L571.5,1389.1L571.5,1587.5L476.5,1655.4L286.5,1758.6L191.5,1734.1L96.5,1669.2L96.5,1642.1L96.5,1505.2L191.5,1375.5L381.5,1313.9Z"/>
<path fill="#002bff" d="M381.5,1313.9L571.5,1300.5L571.5,1389.1L571.5,1587.5L476.5,1655.4L286.5,1758.6L191.5,1734.1L96.5,1669.2L96.5,1642.1L96.5,1505.2L191.5,1375.5L381.5,1313.9Z"/>
<path fill="#0041ff" d="M381.5,1313.9L571.5,1300.5L571.5,1389.1L571.5,1587.5L476.5,1655.4L286.5,1758.6L191.5,1734.1L96.5,1669.2L96.5,1642.1L96.5,1505.2L191.5,1375.5L381.5,1313.9Z"/>
<path fill="#0057ff" d="M381.5,1313.9L571.5,1300.5L571.5,1389.1L571.5,1587.5L476.5,1655.4L286.5,1758.6L191.5,1734.1L96.5,1669.2L96.5,1642.1L96.5,1505.2L191.5,1375.5L381.5,1313.9Z"/>
<path fill="#006dff" d="M381.5,1313.9L571.5,1300.5L571.5,1389.1L571.5,1587.5L476.5,1655.4L286.5,1758.6L191.5,1734.1L96.5,1669.2L96.5,1642.1L96.5,1505.2L191.5,1375.5L381.5,1313.9Z"/>
<path fill="#0082ff" d="M381.5,1313.9L571.5,1300.5L571.5,1389.1L571.5,1587.5L476.5,1655.4L286.5,1758.6L191.5,1734.1L96.5,1669.2L96.5,1642.1L96.5,1505.2L191.5,1375.5L381.5,1313.9Z"/>
<path fill="#0098ff" d="M381.5,1313.9L571.5,1300.5L571.5,1389.1L571.5,1587.5L476.5,1655.4L286.5,1758.6L191.5,1734.1L96.5,1669.2L96.5,1642.1L96.5,1505.2L191.5,1375.5L381.5,1313.9Z"/>
<path fill="#00aeff" d="M381.5,1313.9L571.5,1300.5L571.5,1389.1L571.5,1587.5L476.5,1655.4L286.5,1758.6L191.5,1734.1L96.5,1669.2L96.5,1642.1L96.5,1505.2L191.5,1375.5L381.5,1313.9Z"/>
<path fill="#00c3ff" d="M291.7,1755.8L297,1748.7L245.4,1748L191.5,1734.1L96.5,1669.2L96.5,1642.1L96.5,1505.2L191.5,1375.5L381.5,1313.9L571.5,1300.5L571.5,1389.1L571.5,1587.5L476.5,1655.4L291.7,1755.8Z"/>
<path fill="#00d9ff" d="M297.5,1752.6L308.8,1737.6L199.2,1736.1L191.5,1734.1L96.5,1669.2L96.5,1642.1L96.5,1505.2L191.5,1375.5L381.5,1313.9L571.5,1300.5L571.5,1389.1L571.5,1587.5L476.5,1655.4L297.5,1752.6Z"/>
<path fill="#00efff" d="M303.3,1749.4L320.6,1726.5L217.9,1725.1L183.8,1728.8L96.5,1669.2L96.5,1642.1L96.5,1505.2L191.5,1375.5L381.5,1313.9L571.5,1300.5L571.5,1389.1L571.5,1587.5L476.5,1655.4L303.3,1749.4Z"/>
<path fill="#00fffa" d="M309.1,1746.3L332.4,1715.4L249.6,1714.2L174.5,1722.5L96.5,1669.2L96.5,1642.1L96.5,1505.2L191.5,1375.5L381.5,1313.9L571.5,1300.5L571.5,1389.1L571.5,1587.5L476.5,1655.4L309.1,1746.3ZM285.4,1553.9L289.1,1556.6L287.3,1553.8L287.1,1553.4L289.2,1552.2L286.5,1553.1L283.8,1552.7L285.4,1553.9Z"/>
<path fill="#00ffe4" d="M314.9,1743.1L344.2,1704.2L281.3,1703.4L165.3,1716.2L96.5,1669.2L96.5,1642.1L96.5,1505.2L191.5,1375.5L381.5,1313.9L571.5,1300.5L571.5,1389.1L571.5,1587.5L476.5,1655.4L314.9,1743.1ZM275.7,1558.4L311.4,1583.7L293.9,1557.4L292.4,1553.2L311.7,1542.4L286.5,1550.1L261.6,1547.1L275.7,1558.4Z"/>
<path fill="#00ffce" d="M320.7,1740L356,1693.1L313,1692.5L156,1709.8L96.5,1669.2L96.5,1642.1L96.5,1505.2L191.5,1375.5L381.5,1313.9L571.5,1300.5L571.5,1389.1L571.5,1587.5L476.5,1655.4L320.7,1740ZM266.1,1562.9L333.6,1610.7L300.4,1560.9L297.7,1553L334.2,1532.6L286.5,1547.1L239.4,1541.4L266.1,1562.9Z"/>
<path fill="#00ffb8" d="M326.5,1736.8L367.8,1682L344.8,1681.7L146.8,1703.5L96.5,1669.2L96.5,1642.1L96.5,1505.2L191.5,1375.5L381.5,1313.9L571.5,1300.5L571.5,1389.1L571.5,1587.5L476.5,1655.4L326.5,1736.8ZM256.4,1567.4L355.8,1637.8L307,1564.4L303.1,1552.8L356.7,1522.8L286.5,1544.2L217.1,1535.8L256.4,1567.4Z"/>
<path fill="#00ffa3" d="M332.4,1733.7L379.6,1670.9L376.5,1670.9L137.5,1697.2L96.5,1669.2L96.5,1642.1L96.5,1505.2L191.5,1375.5L381.5,1313.9L571.5,1300.5L571.5,1389.1L571.5,1587.5L476.5,1655.4L332.4,1733.7ZM185.7,1479.4L196.4,1480.2L332.8,1503.2L194.9,1476.8L191.5,1472.5L185.7,1479.4ZM246.8,1571.9L378,1664.9L313.6,1567.9L308.4,1552.6L379.3,1513L286.5,1541.2L194.9,1530.1L246.8,1571.9Z"/>
<path fill="#00ff8d" d="M338.2,1730.5L384.7,1668.7L320.1,1571.5L313.7,1552.3L384.2,1513L385.1,1507.9L206.5,1473.8L191.5,1454.5L165.5,1485.2L213.4,1488.7L365.1,1514.4L286.5,1538.3L172.6,1524.5L237.2,1576.4L366,1667.7L325.5,1669.2L128.3,1690.9L96.5,1669.2L96.5,1642.1L96.5,1505.2L191.5,1375.5L381.5,1313.9L571.5,1300.5L571.5,1389.1L571.5,1587.5L476.5,1655.4L338.2,1730.5Z"/>
<path fill="#00ff77" d="M344,1727.4L388.6,1668.1L326.7,1575L319,1552.1L387.2,1514L389,1503.4L218.1,1470.7L191.5,1436.5L145.4,1491.1L230.4,1497.3L346.8,1517L286.5,1535.3L150.4,1518.9L227.5,1580.9L347.5,1665.9L258.9,1669.2L119,1684.6L96.5,1669.2L96.5,1642.1L96.5,1505.2L191.5,1375.5L381.5,1313.9L571.5,1300.5L571.5,1389.1L571.5,1587.5L476.5,1655.4L344,1727.4Z"/>
<path fill="#00ff62" d="M349.8,1724.2L392.5,1667.6L333.3,1578.5L324.3,1551.9L390.2,1515.1L392.9,1498.9L229.8,1467.7L191.5,1418.5L125.2,1496.9L247.4,1505.9L328.5,1519.6L286.5,1532.4L128.1,1513.2L217.9,1585.4L329.1,1664.2L192.2,1669.2L109.8,1678.2L96.5,1669.2L96.5,1642.1L96.5,1505.2L191.5,1375.5L381.5,1313.9L571.5,1300.5L571.5,1389.1L571.5,1587.5L476.5,1655.4L349.8,1724.2Z"/>
<path fill="#00ff4c" d="M355.6,1721.1L396.3,1667L339.8,1582L329.6,1551.7L393.2,1516.2L396.9,1494.4L241.4,1464.7L191.5,1400.5L105,1502.7L264.4,1514.4L310.3,1522.2L286.5,1529.4L105.9,1507.6L208.3,1589.9L310.6,1662.4L125.6,1669.2L100.5,1671.9L96.5,1669.2L96.5,1642.1L96.5,1505.2L191.5,1375.5L381.5,1313.9L571.5,1300.5L571.5,1389.1L571.5,1587.5L476.5,1655.4L355.6,1721.1Z"/>
<path fill="#00ff36" d="M361.4,1717.9L400.2,1666.5L346.4,1585.6L334.9,1551.5L396.2,1517.3L400.8,1489.9L253.1,1461.6L191.5,1382.6L153.1,1427.9L191.5,1375.5L381.5,1313.9L571.5,1300.5L571.5,1389.1L571.5,1587.5L476.5,1655.4L361.4,1717.9ZM96.5,1512.2L198.6,1594.4L292.2,1660.7L96.5,1667.8L96.5,1642.1L96.5,1512.2ZM292,1524.8L286.5,1526.5L221.3,1518.6L281.4,1523L292,1524.8Z"/>
<path fill="#00ff21" d="M367.2,1714.7L404,1665.9L353,1589.1L340.2,1551.3L399.2,1518.3L404.8,1485.3L264.7,1458.6L200.7,1376.4L212.2,1368.8L381.5,1313.9L571.5,1300.5L571.5,1389.1L571.5,1587.5L476.5,1655.4L367.2,1714.7ZM96.5,1524.5L189,1598.9L273.7,1658.9L96.5,1665.4L96.5,1642.1L96.5,1524.5Z"/>
<path fill="#00ff0b" d="M373,1711.6L407.9,1665.3L359.6,1592.6L345.5,1551.1L402.3,1519.4L408.7,1480.8L276.4,1455.5L215.9,1377.9L246.3,1357.7L381.5,1313.9L571.5,1300.5L571.5,1389.1L571.5,1587.5L476.5,1655.4L373,1711.6ZM96.5,1536.7L179.4,1603.4L255.3,1657.2L96.5,1662.9L96.5,1642.1L96.5,1536.7Z"/>
<path fill="#0bff00" d="M378.9,1708.4L411.7,1664.8L366.1,1596.2L350.8,1550.9L405.3,1520.5L412.7,1476.3L288,1452.5L231.1,1379.3L280.4,1346.7L381.5,1313.9L571.5,1300.5L571.5,1389.1L571.5,1587.5L476.5,1655.4L378.9,1708.4ZM96.5,1549L169.7,1607.9L236.8,1655.4L96.5,1660.5L96.5,1642.1L96.5,1549Z"/>
<path fill="#21ff00" d="M384.7,1705.3L415.6,1664.2L372.7,1599.7L356.1,1550.7L408.3,1521.6L416.6,1471.8L299.6,1449.4L246.2,1380.8L314.5,1335.6L381.5,1313.9L571.5,1300.5L571.5,1389.1L571.5,1587.5L476.5,1655.4L384.7,1705.3ZM96.5,1561.2L160.1,1612.4L218.3,1653.7L96.5,1658.1L96.5,1642.1L96.5,1561.2Z"/>
<path fill="#36ff00" d="M390.5,1702.1L419.4,1663.7L379.3,1603.2L361.4,1550.5L411.3,1522.7L420.5,1467.3L311.3,1446.4L261.4,1382.3L348.6,1324.6L381.5,1313.9L571.5,1300.5L571.5,1389.1L571.5,1587.5L476.5,1655.4L390.5,1702.1ZM96.5,1573.5L150.5,1616.9L199.9,1651.9L96.5,1655.7L96.5,1642.1L96.5,1573.5Z"/>
<path fill="#4cff00" d="M396.3,1699L423.3,1663.1L385.8,1606.7L366.7,1550.3L414.3,1523.7L424.5,1462.7L322.9,1443.3L276.5,1383.8L381.7,1314.2L382,1314.1L382,1313.9L571.5,1300.5L571.5,1389.1L571.5,1587.5L476.5,1655.4L396.3,1699ZM96.5,1585.7L140.8,1621.4L181.4,1650.1L96.5,1653.2L96.5,1642.1L96.5,1585.7Z"/>
<path fill="#62ff00" d="M402.1,1695.8L427.2,1662.6L392.4,1610.3L372,1550.1L417.3,1524.8L428.4,1458.2L334.6,1440.3L291.7,1385.2L388.9,1320.9L395.9,1319.6L396.6,1312.9L571.5,1300.5L571.5,1389.1L571.5,1587.5L476.5,1655.4L402.1,1695.8ZM96.5,1598L131.2,1625.9L163,1648.4L96.5,1650.8L96.5,1642.1L96.5,1598Z"/>
<path fill="#77ff00" d="M407.9,1692.7L431,1662L399,1613.8L377.3,1549.9L420.3,1525.9L432.4,1453.7L346.2,1437.2L306.9,1386.7L396.1,1327.6L409.9,1325.1L411.3,1311.8L571.5,1300.5L571.5,1389.1L571.5,1587.5L476.5,1655.4L407.9,1692.7ZM96.5,1610.2L121.6,1630.4L144.5,1646.6L96.5,1648.4L96.5,1642.1L96.5,1610.2Z"/>
<path fill="#8dff00" d="M413.7,1689.5L434.9,1661.4L405.5,1617.3L382.6,1549.7L423.3,1527L436.3,1449.2L357.9,1434.2L322,1388.2L403.3,1334.4L423.8,1330.7L425.9,1310.8L571.5,1300.5L571.5,1389.1L571.5,1587.5L476.5,1655.4L413.7,1689.5ZM96.5,1622.5L111.9,1634.9L126.1,1644.9L96.5,1646L96.5,1642.1L96.5,1622.5Z"/>
<path fill="#a3ff00" d="M419.5,1686.3L438.7,1660.9L412.1,1620.9L388,1549.4L426.3,1528L440.3,1444.7L369.5,1431.1L337.2,1389.6L410.5,1341.1L437.8,1336.2L440.5,1309.8L571.5,1300.5L571.5,1389.1L571.5,1587.5L476.5,1655.4L419.5,1686.3ZM96.5,1634.7L102.3,1639.4L107.6,1643.1L96.5,1643.5L96.5,1642.1L96.5,1634.7Z"/>
<path fill="#b8ff00" d="M425.4,1683.2L442.6,1660.3L418.7,1624.4L393.3,1549.2L429.3,1529.1L444.2,1440.2L381.2,1428.1L352.3,1391.1L417.7,1347.9L451.8,1341.7L455.2,1308.7L571.5,1300.5L571.5,1389.1L571.5,1587.5L476.5,1655.4L425.4,1683.2Z"/>
<path fill="#ceff00" d="M431.2,1680L446.4,1659.8L425.3,1627.9L398.6,1549L432.3,1530.2L448.1,1435.6L392.8,1425.1L367.5,1392.6L424.8,1354.6L465.7,1347.2L469.8,1307.7L571.5,1300.5L571.5,1389.1L571.5,1587.5L476.5,1655.4L431.2,1680Z"/>
<path fill="#e4ff00" d="M437,1676.9L450.3,1659.2L431.8,1631.4L403.9,1548.8L435.3,1531.3L452.1,1431.1L404.4,1422L382.7,1394.1L432,1361.4L479.7,1352.7L484.4,1306.6L571.5,1300.5L571.5,1389.1L571.5,1587.5L476.5,1655.4L437,1676.9Z"/>
<path fill="#faff00" d="M442.8,1673.7L454.1,1658.7L438.4,1635L409.2,1548.6L438.3,1532.3L456,1426.6L416.1,1419L397.8,1395.5L439.2,1368.1L493.7,1358.3L499.1,1305.6L571.5,1300.5L571.5,1389.1L571.5,1587.5L476.5,1655.4L442.8,1673.7Z"/>
<path fill="#ffef00" d="M571.5,1585.6L571.1,1587.4L570.6,1588.2L476.5,1655.4L448.6,1670.6L458,1658.1L445,1638.5L414.5,1548.4L441.4,1533.4L460,1422.1L427.7,1415.9L413,1397L446.4,1374.9L507.6,1363.8L513.7,1304.6L571.5,1300.5L571.5,1389.1L571.5,1585.6Z"/>
<path fill="#ffd900" d="M571.5,1542.7L563,1583.8L551,1602.2L476.5,1655.4L454.4,1667.4L461.8,1657.5L451.5,1642L419.8,1548.2L444.4,1534.5L463.9,1417.6L439.4,1412.9L428.2,1398.5L453.6,1381.6L521.6,1369.3L528.3,1303.5L571.5,1300.5L571.5,1389.1L571.5,1542.7Z"/>
<path fill="#ffc300" d="M571.5,1499.7L554.9,1580.3L531.4,1616.2L476.5,1655.4L460.2,1664.3L465.7,1657L458.1,1645.6L425.1,1548L447.4,1535.6L467.9,1413L451,1409.8L443.3,1399.9L460.8,1388.4L535.5,1374.8L543,1302.5L571.5,1300.5L571.5,1389.1L571.5,1499.7Z"/>
<path fill="#ffae00" d="M571.5,1456.8L546.8,1576.8L511.8,1630.2L476.5,1655.4L466,1661.1L469.6,1656.4L464.7,1649.1L430.4,1547.8L450.4,1536.6L471.8,1408.5L462.7,1406.8L458.5,1401.4L468,1395.1L549.5,1380.4L557.6,1301.5L571.5,1300.5L571.5,1389.1L571.5,1456.8Z"/>
<path fill="#ff9800" d="M571.5,1413.8L538.7,1573.2L492.2,1644.2L476.5,1655.4L471.9,1658L473.4,1655.9L471.2,1652.6L435.7,1547.6L453.4,1537.7L475.8,1404L474.3,1403.7L473.6,1402.9L475.1,1401.9L563.5,1385.9L571.5,1307.5L571.5,1389.1L571.5,1413.8Z"/>
<path fill="#ff8200" d="M456.4,1538.8L476.5,1418.6L565.8,1398.4L530.6,1569.7L476.5,1652.3L441,1547.4L456.4,1538.8Z"/>
<path fill="#ff6d00" d="M459.4,1539.9L476.5,1437.7L552.5,1420.5L522.6,1566.1L476.5,1636.4L446.3,1547.2L459.4,1539.9Z"/>
<path fill="#ff5700" d="M462.4,1540.9L476.5,1456.7L539.1,1442.5L514.5,1562.6L476.5,1620.5L451.6,1547L462.4,1540.9Z"/>
<path fill="#ff4100" d="M465.4,1542L476.5,1475.8L525.8,1464.6L506.4,1559L476.5,1604.6L456.9,1546.7L465.4,1542Z"/>
<path fill="#ff2b00" d="M468.4,1543.1L476.5,1494.8L512.4,1486.7L498.3,1555.5L476.5,1588.7L462.2,1546.5L468.4,1543.1Z"/>
<path fill="#ff1600" d="M471.4,1544.2L476.5,1513.8L499,1508.8L490.2,1552L476.5,1572.8L467.5,1546.3L471.4,1544.2Z"/>
<path fill="#ff0000" d="M474.4,1545.2L476.5,1532.9L485.7,1530.8L482.1,1548.4L476.5,1556.9L472.9,1546.1L474.4,1545.2Z"/>
<path fill="none" stroke="#3a3a3a" stroke-width="1" stroke-opacity="0.85" d="M309.1,1746.3L332.4,1715.4L249.6,1714.2L174.5,1722.5M285.4,1553.9L289.1,1556.6L287.3,1553.8L287.1,1553.4L289.2,1552.2L286.5,1553.1L283.8,1552.7L285.4,1553.9M344,1727.4L388.6,1668.1L326.7,1575L319,1552.1L387.2,1514L389,1503.4L218.1,1470.7L191.5,1436.5L145.4,1491.1L230.4,1497.3L346.8,1517L286.5,1535.3L150.4,1518.9L227.5,1580.9L347.5,1665.9L258.9,1669.2L119,1684.6M378.9,1708.4L411.7,1664.8L366.1,1596.2L350.8,1550.9L405.3,1520.5L412.7,1476.3L288,1452.5L231.1,1379.3L280.4,1346.7M96.5,1549L169.7,1607.9L236.8,1655.4L96.5,1660.5M413.7,1689.5L434.9,1661.4L405.5,1617.3L382.6,1549.7L423.3,1527L436.3,1449.2L357.9,1434.2L322,1388.2L403.3,1334.4L423.8,1330.7L425.9,1310.8M96.5,1622.5L111.9,1634.9L126.1,1644.9L96.5,1646M571.5,1585.6L571.1,1587.4L570.6,1588.2M448.6,1670.6L458,1658.1L445,1638.5L414.5,1548.4L441.4,1533.4L460,1422.1L427.7,1415.9L413,1397L446.4,1374.9L507.6,1363.8L513.7,1304.6M459.4,1539.9L476.5,1437.7L552.5,1420.5L522.6,1566.1L476.5,1636.4L446.3,1547.2L459.4,1539.9"/>
<circle cx="476.5" cy="1546" r="5.4"/>
<circle cx="476.5" cy="1655.4" r="5.4"/>
<circle cx="476.5" cy="1403.2" r="5.4"/>
<circle cx="191.5" cy="1375.5" r="5.4"/>
<circle cx="96.5" cy="1505.2" r="5.4"/>
<circle cx="381.5" cy="1512" r="5.4"/>
<circle cx="381.5" cy="1313.9" r="5.4"/>
<circle cx="286.5" cy="1525.6" r="5.4"/>
<circle cx="381.5" cy="1669.2" r="5.4"/>
<circle cx="191.5" cy="1477.7" r="5.4"/>
<circle cx="191.5" cy="1734.1" r="5.4"/>
<circle cx="286.5" cy="1553.4" r="5.4"/>
<circle cx="96.5" cy="1642.1" r="5.4"/>
<circle cx="96.5" cy="1669.2" r="5.4"/>
<circle cx="286.5" cy="1758.6" r="5.4"/>
<circle cx="571.5" cy="1389.1" r="5.4"/>
<circle cx="571.5" cy="1300.5" r="5.4"/>
<circle cx="571.5" cy="1587.5" r="5.4"/>
<text x="571.5" y="1798.5" text-anchor="middle" font-size="20">50</text>
<text x="476.5" y="1798.5" text-anchor="middle" font-size="20">60</text>
<text x="381.5" y="1798.5" text-anchor="middle" font-size="20">70</text>
<text x="286.5" y="1798.5" text-anchor="middle" font-size="20">80</text>
<text x="191.5" y="1798.5" text-anchor="middle" font-size="20">90</text>
<text x="96.5" y="1798.5" text-anchor="middle" font-size="20">100</text>
<text x="70" y="1725.3" text-anchor="end" font-size="20">100</text>
<text x="70" y="1651.1" text-anchor="end" font-size="20">120</text>
<text x="70" y="1576.9" text-anchor="end" font-size="20">140</text>
<text x="70" y="1502.7" text-anchor="end" font-size="20">160</text>
<text x="70" y="1428.5" text-anchor="end" font-size="20">180</text>
<text x="70" y="1354.3" text-anchor="end" font-size="20">200</text>
<path fill="none" stroke="#333" stroke-width="2" d="M571.5,1766.5V1775.5M476.5,1766.5V1775.5M381.5,1766.5V1775.5M286.5,1766.5V1775.5M191.5,1766.5V1775.5M96.5,1766.5V1775.5M524,1766.5V1771.5M429,1766.5V1771.5M334,1766.5V1771.5M239,1766.5V1771.5M144,1766.5V1771.5M87,1718.5H78M87,1644.3H78M87,1570.1H78M87,1495.9H78M87,1421.7H78M87,1347.5H78M87,1755.6H82M87,1681.4H82M87,1607.2H82M87,1533H82M87,1458.8H82M87,1384.6H82M87,1310.4H82"/>
<rect x="87" y="1292.5" width="494.5" height="474.0" fill="none" stroke="#333" stroke-width="2"/>
<rect x="661" y="1293" width="38.5" height="9.5" fill="#808080"/>
<rect x="661" y="1747.2" width="38.5" height="10.1" fill="#0000ff"/>
<rect x="661" y="1737.8" width="38.5" height="10.1" fill="#0016ff"/>
<rect x="661" y="1728.3" width="38.5" height="10.1" fill="#002bff"/>
<rect x="661" y="1718.8" width="38.5" height="10.1" fill="#0041ff"/>
<rect x="661" y="1709.4" width="38.5" height="10.1" fill="#0057ff"/>
<rect x="661" y="1699.9" width="38.5" height="10.1" fill="#006dff"/>
<rect x="661" y="1690.4" width="38.5" height="10.1" fill="#0082ff"/>
<rect x="661" y="1681" width="38.5" height="10.1" fill="#0098ff"/>
<rect x="661" y="1671.5" width="38.5" height="10.1" fill="#00aeff"/>
<rect x="661" y="1662" width="38.5" height="10.1" fill="#00c3ff"/>
<rect x="661" y="1652.5" width="38.5" height="10.1" fill="#00d9ff"/>
<rect x="661" y="1643.1" width="38.5" height="10.1" fill="#00efff"/>
<rect x="661" y="1633.6" width="38.5" height="10.1" fill="#00fffa"/>
<rect x="661" y="1624.1" width="38.5" height="10.1" fill="#00ffe4"/>
<rect x="661" y="1614.7" width="38.5" height="10.1" fill="#00ffce"/>
<rect x="661" y="1605.2" width="38.5" height="10.1" fill="#00ffb8"/>
<rect x="661" y="1595.7" width="38.5" height="10.1" fill="#00ffa3"/>
<rect x="661" y="1586.3" width="38.5" height="10.1" fill="#00ff8d"/>
<rect x="661" y="1576.8" width="38.5" height="10.1" fill="#00ff77"/>
<rect x="661" y="1567.3" width="38.5" height="10.1" fill="#00ff62"/>
<rect x="661" y="1557.9" width="38.5" height="10.1" fill="#00ff4c"/>
<rect x="661" y="1548.4" width="38.5" height="10.1" fill="#00ff36"/>
<rect x="661" y="1538.9" width="38.5" height="10.1" fill="#00ff21"/>
<rect x="661" y="1529.5" width="38.5" height="10.1" fill="#00ff0b"/>
<rect x="661" y="1520" width="38.5" height="10.1" fill="#0bff00"/>
<rect x="661" y="1510.5" width="38.5" height="10.1" fill="#21ff00"/>
<rect x="661" y="1501" width="38.5" height="10.1" fill="#36ff00"/>
<rect x="661" y="1491.6" width="38.5" height="10.1" fill="#4cff00"/>
<rect x="661" y="1482.1" width="38.5" height="10.1" fill="#62ff00"/>
<rect x="661" y="1472.6" width="38.5" height="10.1" fill="#77ff00"/>
<rect x="661" y="1463.2" width="38.5" height="10.1" fill="#8dff00"/>
<rect x="661" y="1453.7" width="38.5" height="10.1" fill="#a3ff00"/>
<rect x="661" y="1444.2" width="38.5" height="10.1" fill="#b8ff00"/>
<rect x="661" y="1434.8" width="38.5" height="10.1" fill="#ceff00"/>
<rect x="661" y="1425.3" width="38.5" height="10.1" fill="#e4ff00"/>
<rect x="661" y="1415.8" width="38.5" height="10.1" fill="#faff00"/>
<rect x="661" y="1406.4" width="38.5" height="10.1" fill="#ffef00"/>
<rect x="661" y="1396.9" width="38.5" height="10.1" fill="#ffd900"/>
<rect x="661" y="1387.4" width="38.5" height="10.1" fill="#ffc300"/>
<rect x="661" y="1378" width="38.5" height="10.1" fill="#ffae00"/>
<rect x="661" y="1368.5" width="38.5" height="10.1" fill="#ff9800"/>
<rect x="661" y="1359" width="38.5" height="10.1" fill="#ff8200"/>
<rect x="661" y="1349.5" width="38.5" height="10.1" fill="#ff6d00"/>
<rect x="661" y="1340.1" width="38.5" height="10.1" fill="#ff5700"/>
<rect x="661" y="1330.6" width="38.5" height="10.1" fill="#ff4100"/>
<rect x="661" y="1321.1" width="38.5" height="10.1" fill="#ff2b00"/>
<rect x="661" y="1311.7" width="38.5" height="10.1" fill="#ff1600"/>
<rect x="661" y="1302.2" width="38.5" height="10.1" fill="#ff0000"/>
<rect x="661" y="1757" width="38.5" height="9.5" fill="#000"/>
<rect x="661" y="1293" width="38.5" height="473.5" fill="none" stroke="#222" stroke-width="1.2"/>
<text x="714.5" y="1308" font-size="15.5">108.4</text>
<text x="714.5" y="1364.9" font-size="15.5">104.4</text>
<text x="714.5" y="1421.7" font-size="15.5">100.4</text>
<text x="714.5" y="1478.5" font-size="15.5">96.33</text>
<text x="714.5" y="1535.3" font-size="15.5">92.30</text>
<text x="714.5" y="1592.1" font-size="15.5">88.28</text>
<text x="714.5" y="1648.9" font-size="15.5">84.25</text>
<text x="714.5" y="1705.7" font-size="15.5">80.23</text>
<text x="714.5" y="1762.5" font-size="15.5">76.20</text>
<path stroke="#444" stroke-width="2" d="M699.5,1302.5H708.5M699.5,1359.3H708.5M699.5,1416.1H708.5M699.5,1472.9H708.5M699.5,1529.8H708.5M699.5,1586.6H708.5M699.5,1643.4H708.5M699.5,1700.2H708.5M699.5,1757H708.5"/>
<text x="586.5" y="1275.4" font-size="25" textLength="187.5" lengthAdjust="spacingAndGlyphs">Young's modulus</text>
<text x="92.5" y="1320" font-size="22.2" textLength="263.5" lengthAdjust="spacingAndGlyphs">Oriented fibers (Polyblend)</text>
<text x="334.5" y="1835.4" font-size="25" text-anchor="middle" textLength="241" lengthAdjust="spacingAndGlyphs">Fraction of H-PCL (%)</text>
<text x="27.9" y="1530.3" font-size="25" text-anchor="middle" transform="rotate(-90 27.9 1530.3)" textLength="202" lengthAdjust="spacingAndGlyphs">Strain at break (%)</text>
<text x="102.5" y="1385.7" font-size="56" font-weight="bold" textLength="70" lengthAdjust="spacingAndGlyphs">(c)</text>
</g>
<g>
<path fill="#0000ff" d="M570.1,2115.4L86.7,2388L112.6,2171.4L195.6,1982.3L311,1928.8L490.9,2011.6L555.9,2092.6L570.1,2115.4Z"/>
<path fill="#0016ff" d="M98.4,2381.4L91.7,2385L92.6,2377.4L96.4,2306.6L112.6,2171.4L195.6,1982.3L311,1928.8L490.9,2011.6L555.9,2092.6L570.1,2115.4L98.4,2381.4Z"/>
<path fill="#002bff" d="M111.1,2374.2L97.1,2381.8L99,2366L106.9,2219L112.6,2171.4L195.6,1982.3L311,1928.8L490.9,2011.6L555.9,2092.6L570.1,2115.4L111.1,2374.2Z"/>
<path fill="#0041ff" d="M123.7,2367.1L102.5,2378.6L105.4,2354.7L115.1,2173.1L116.9,2170.8L113.6,2169L195.6,1982.3L311,1928.8L490.9,2011.6L555.9,2092.6L570.1,2115.4L123.7,2367.1Z"/>
<path fill="#0057ff" d="M136.4,2360L107.9,2375.4L111.7,2343.3L120.6,2177L126.4,2169.5L115.8,2163.9L195.6,1982.3L311,1928.8L490.9,2011.6L555.9,2092.6L570.1,2115.4L136.4,2360Z"/>
<path fill="#006dff" d="M149,2352.9L113.3,2372.2L118.1,2331.9L126.2,2180.9L135.9,2168.2L118.1,2158.7L195.6,1982.3L311,1928.8L490.9,2011.6L555.9,2092.6L570.1,2115.4L149,2352.9ZM310.1,2191.7L304.2,2191.4L303.3,2191.5L302,2191.6L301.6,2194.2L302.7,2195.2L310.1,2191.7Z"/>
<path fill="#0082ff" d="M161.6,2345.7L118.7,2369L124.5,2320.5L131.7,2184.8L145.4,2167L120.4,2153.6L195.6,1982.3L311,1928.8L490.9,2011.6L555.9,2092.6L570.1,2115.4L161.6,2345.7ZM327.5,2186L306.8,2184.8L303.5,2185.4L298.9,2185.5L297.7,2194.8L301.5,2198.2L327.5,2186Z"/>
<path fill="#0098ff" d="M174.3,2338.6L124.1,2365.8L130.9,2309.1L137.3,2188.7L155,2165.7L122.6,2148.5L195.6,1982.3L311,1928.8L490.9,2011.6L555.9,2092.6L570.1,2115.4L174.3,2338.6ZM344.8,2180.3L309.4,2178.2L303.7,2179.2L295.8,2179.4L293.8,2195.3L300.2,2201.2L344.8,2180.3Z"/>
<path fill="#00aeff" d="M186.9,2331.5L129.5,2362.7L137.2,2297.8L142.9,2192.6L164.5,2164.4L124.9,2143.3L195.6,1982.3L311,1928.8L490.9,2011.6L555.9,2092.6L570.1,2115.4L186.9,2331.5ZM362.2,2174.6L312,2171.6L303.8,2173L292.7,2173.3L289.8,2195.9L299,2204.2L362.2,2174.6Z"/>
<path fill="#00c3ff" d="M199.5,2324.4L134.9,2359.5L143.6,2286.4L148.4,2196.5L174,2163.2L127.1,2138.2L195.6,1982.3L311,1928.8L490.9,2011.6L555.9,2092.6L570.1,2115.4L199.5,2324.4ZM379.5,2168.8L314.6,2165L304,2166.9L289.6,2167.2L285.9,2196.4L297.7,2207.2L379.5,2168.8Z"/>
<path fill="#00d9ff" d="M212.2,2317.2L140.3,2356.3L150,2275L154,2200.4L181.1,2165.1L181.5,2162.8L181.2,2160.7L129.4,2133L195.6,1982.3L311,1928.8L490.9,2011.6L555.9,2092.6L570.1,2115.4L212.2,2317.2ZM388.2,2166.2L385.6,2166L385.2,2164.2L379,2152.9L377.1,2162L317.2,2158.4L304.2,2160.7L286.5,2161.1L281.9,2197L296.5,2210.2L379.3,2171.4L388.2,2166.2ZM346.2,2012.1L347.4,2009.8L348.2,2006.6L346.6,2005.5L346.2,2012.1Z"/>
<path fill="#00efff" d="M224.8,2310.1L145.7,2353.1L156.3,2263.6L159.5,2204.3L181.1,2176.2L183,2165.3L181.7,2154.6L131.6,2127.9L195.6,1982.3L311,1928.8L490.9,2011.6L555.9,2092.6L570.1,2115.4L224.8,2310.1ZM394.6,2164.4L388.7,2164L387.9,2159.8L373.9,2134.3L369.6,2154.8L319.8,2151.9L304.4,2154.6L283.4,2155L278,2197.5L295.3,2213.3L374.5,2176L394.6,2164.4ZM343.9,2030.3L348.8,2020.6L352.2,2007.7L345.7,2003.5L343.9,2030.3Z"/>
<path fill="#00fffa" d="M237.4,2303L151.1,2349.9L162.7,2252.3L165.1,2208.2L181.1,2187.3L184.5,2167.7L182.2,2148.5L133.9,2122.8L195.6,1982.3L311,1928.8L490.9,2011.6L555.9,2092.6L570.1,2115.4L237.4,2303ZM401,2162.6L391.8,2162L390.6,2155.4L368.8,2115.8L362.1,2147.6L322.4,2145.3L304.6,2148.4L280.3,2148.9L274,2198.1L294,2216.3L369.8,2180.7L401,2162.6ZM341.6,2048.4L350.1,2031.5L356.1,2008.8L344.7,2001.4L341.6,2048.4Z"/>
<path fill="#00ffe4" d="M250.1,2295.9L156.5,2346.7L169.1,2240.9L170.6,2212.1L181.1,2198.5L186.1,2170.1L182.7,2142.4L136.1,2117.6L195.6,1982.3L311,1928.8L490.9,2011.6L555.9,2092.6L570.1,2115.4L250.1,2295.9ZM407.4,2160.8L395,2160L393.2,2150.9L363.7,2097.2L354.6,2140.4L325,2138.7L304.7,2142.2L277.2,2142.8L270.1,2198.6L292.8,2219.3L365,2185.4L407.4,2160.8ZM339.3,2066.5L351.5,2042.3L360.1,2009.9L343.8,1999.4L339.3,2066.5Z"/>
<path fill="#00ffce" d="M262.7,2288.7L161.9,2343.5L175.4,2229.5L176.2,2216L181.1,2209.6L187.6,2172.5L183.2,2136.3L138.4,2112.5L195.6,1982.3L311,1928.8L490.9,2011.6L555.9,2092.6L570.1,2115.4L262.7,2288.7ZM413.9,2159.1L398.1,2157.9L395.9,2146.5L358.5,2078.6L347,2133.2L327.6,2132.1L304.9,2136.1L274.1,2136.7L266.1,2199.2L291.5,2222.3L360.2,2190L413.9,2159.1ZM337,2084.6L352.9,2053.2L364.1,2011L342.8,1997.4L337,2084.6Z"/>
<path fill="#00ffb8" d="M275.3,2281.6L167.2,2340.3L181.6,2219.8L181.3,2219.3L189.2,2174.9L183.6,2130.3L140.6,2107.4L195.6,1982.3L311,1928.8L490.9,2011.6L555.9,2092.6L570.1,2115.4L275.3,2281.6ZM420.3,2157.3L401.2,2155.9L398.6,2142.1L354.7,2062.4L368.1,2012.1L341.9,1995.3L334.7,2102.7L351.4,2069.8L339.5,2126.1L330.2,2125.5L305.1,2129.9L271,2130.6L262.2,2199.8L290.3,2225.3L355.5,2194.7L420.3,2157.3Z"/>
<path fill="#00ffa3" d="M288,2274.5L172.6,2337.1L186.2,2223.1L183.4,2218.4L190.7,2177.4L184.1,2124.2L142.9,2102.2L195.6,1982.3L311,1928.8L490.9,2011.6L555.9,2092.6L570.1,2115.4L288,2274.5ZM426.7,2155.5L404.4,2153.9L401.3,2137.7L359.3,2061.4L372,2013.2L340.9,1993.3L332.5,2119L305.3,2123.7L267.9,2124.5L258.2,2200.3L289,2228.3L350.7,2199.4L426.7,2155.5Z"/>
<path fill="#00ff8d" d="M300.6,2267.4L178,2333.9L190.8,2226.4L185.6,2217.5L192.2,2179.8L184.6,2118.1L145.2,2097.1L195.6,1982.3L311,1928.8L485.4,2009.1L489.7,2012.8L490.3,2015.7L500.4,2023.4L555.9,2092.6L570.1,2115.4L300.6,2267.4ZM433.1,2153.7L407.5,2151.9L403.9,2133.3L363.8,2060.4L376,2014.3L340,1991.3L331.8,2113L305.5,2117.6L264.8,2118.4L254.3,2200.9L287.8,2231.3L345.9,2204L433.1,2153.7Z"/>
<path fill="#00ff77" d="M313.2,2260.2L183.4,2330.7L195.5,2229.8L187.7,2216.6L193.8,2182.2L185.1,2112L147.4,2091.9L195.6,1982.3L311,1928.8L479.7,2006.5L488.4,2013.9L489.7,2019.8L510.1,2035.4L555.9,2092.6L570.1,2115.4L313.2,2260.2ZM439.6,2151.9L410.6,2149.8L406.6,2128.9L368.3,2059.3L380,2015.4L339,1989.2L331.2,2107L305.7,2111.4L261.7,2112.3L250.3,2201.4L286.5,2234.3L341.2,2208.7L439.6,2151.9Z"/>
<path fill="#00ff62" d="M325.9,2253.1L188.8,2327.5L200.1,2233.1L189.8,2215.7L195.3,2184.6L185.6,2105.9L149.7,2086.8L195.6,1982.3L311,1928.8L474,2003.8L487.1,2015.1L489.1,2023.9L519.8,2047.5L555.9,2092.6L570.1,2115.4L325.9,2253.1ZM446,2150.1L413.8,2147.8L409.3,2124.5L372.9,2058.3L383.9,2016.5L338.1,1987.2L330.5,2100.9L305.8,2105.3L258.6,2106.3L246.4,2202L285.3,2237.4L336.4,2213.3L446,2150.1Z"/>
<path fill="#00ff4c" d="M338.5,2246L194.2,2324.3L204.7,2236.4L192,2214.8L196.9,2187.1L186.1,2099.9L151.9,2081.7L195.6,1982.3L311,1928.8L468.3,2001.2L485.8,2016.3L488.5,2028.1L529.5,2059.6L555.9,2092.6L570.1,2115.4L338.5,2246ZM452.4,2148.3L416.9,2145.8L412,2120.1L377.4,2057.3L387.9,2017.6L337.1,1985.1L329.8,2094.9L306,2099.1L255.5,2100.2L242.4,2202.5L284,2240.4L331.7,2218L452.4,2148.3Z"/>
<path fill="#00ff36" d="M351.2,2238.9L199.6,2321.1L209.3,2239.7L194.1,2213.8L198.4,2189.5L186.6,2093.8L154.2,2076.5L195.6,1982.3L311,1928.8L462.6,1998.6L484.5,2017.5L487.9,2032.2L539.2,2071.7L555.9,2092.6L570.1,2115.4L351.2,2238.9ZM458.8,2146.5L420,2143.8L414.6,2115.7L381.9,2056.3L391.9,2018.7L336.2,1983.1L329.1,2088.9L306.2,2092.9L252.4,2094.1L238.5,2203.1L282.8,2243.4L326.9,2222.7L458.8,2146.5Z"/>
<path fill="#00ff21" d="M363.8,2231.8L205,2317.9L213.9,2243L196.2,2212.9L199.9,2191.9L187.1,2087.7L156.4,2071.4L195.6,1982.3L311,1928.8L456.9,1996L483.2,2018.7L487.2,2036.4L548.9,2083.8L555.9,2092.6L570.1,2115.4L363.8,2231.8ZM465.2,2144.7L423.2,2141.7L417.3,2111.3L386.5,2055.2L395.8,2019.8L335.3,1981.1L328.5,2082.9L306.4,2086.8L249.3,2088L234.5,2203.6L281.6,2246.4L322.1,2227.3L465.2,2144.7Z"/>
<path fill="#00ff0b" d="M376.4,2224.6L210.4,2314.8L218.6,2246.3L198.4,2212L201.5,2194.3L187.6,2081.6L158.7,2066.3L195.6,1982.3L311,1928.8L451.3,1993.4L481.9,2019.8L486.6,2040.5L554.6,2092.8L556.2,2093L570.1,2115.4L376.4,2224.6ZM471.7,2142.9L426.3,2139.7L420,2106.9L391,2054.2L399.8,2020.9L334.3,1979L327.8,2076.9L306.6,2080.6L246.2,2081.9L230.6,2204.2L280.3,2249.4L317.4,2232L471.7,2142.9Z"/>
<path fill="#0bff00" d="M389.1,2217.5L215.8,2311.6L223.2,2249.6L200.5,2211.1L203,2196.7L188,2075.6L160.9,2061.1L195.6,1982.3L311,1928.8L445.6,1990.7L480.6,2021L486,2044.7L549.8,2093.7L557.1,2094.4L570.1,2115.4L389.1,2217.5ZM478.1,2141.1L429.4,2137.7L422.7,2102.5L395.5,2053.2L403.8,2022L333.4,1977L327.1,2070.9L306.7,2074.4L243.1,2075.8L226.6,2204.8L279.1,2252.4L312.6,2236.7L478.1,2141.1Z"/>
<path fill="#21ff00" d="M401.7,2210.4L221.2,2308.4L227.8,2252.9L202.6,2210.2L204.6,2199.2L188.5,2069.5L163.2,2056L195.6,1982.3L311,1928.8L439.9,1988.1L479.4,2022.2L485.4,2048.8L544.9,2094.6L558,2095.9L570.1,2115.4L401.7,2210.4ZM484.5,2139.3L432.6,2135.7L425.3,2098.1L400.1,2052.2L407.7,2023.1L332.4,1974.9L326.4,2064.9L306.9,2068.3L240,2069.7L222.7,2205.3L277.8,2255.4L307.8,2241.3L484.5,2139.3Z"/>
<path fill="#36ff00" d="M414.3,2203.3L226.6,2305.2L232.4,2256.2L204.8,2209.3L206.1,2201.6L189,2063.4L165.5,2050.8L195.6,1982.3L311,1928.8L434.2,1985.5L478.1,2023.4L484.8,2053L540.1,2095.5L558.9,2097.4L570.1,2115.4L414.3,2203.3ZM490.9,2137.5L435.7,2133.6L428,2093.7L404.6,2051.1L411.7,2024.2L331.5,1972.9L325.7,2058.9L307.1,2062.1L236.9,2063.6L218.7,2205.9L276.6,2258.4L303.1,2246L490.9,2137.5Z"/>
<path fill="#4cff00" d="M427,2196.1L232,2302L237,2259.5L206.9,2208.3L207.6,2204L189.5,2057.3L167.7,2045.7L195.6,1982.3L311,1928.8L428.5,1982.9L476.8,2024.5L484.1,2057.1L535.2,2096.4L559.8,2098.8L570.1,2115.4L427,2196.1ZM497.4,2135.7L438.8,2131.6L430.7,2089.3L409.1,2050.1L415.7,2025.3L330.5,1970.9L325.1,2052.8L307.3,2055.9L233.8,2057.5L214.8,2206.4L275.3,2261.5L298.3,2250.7L497.4,2135.7Z"/>
<path fill="#62ff00" d="M439.6,2189L237.4,2298.8L241.7,2262.8L209,2207.4L209.2,2206.4L190,2051.2L170,2040.6L195.6,1982.3L311,1928.8L422.8,1980.3L475.5,2025.7L483.5,2061.2L530.4,2097.3L560.7,2100.3L570.1,2115.4L439.6,2189ZM503.8,2133.9L441.9,2129.6L433.4,2084.9L413.7,2049.1L419.6,2026.4L329.6,1968.8L324.4,2046.8L307.5,2049.8L230.7,2051.4L210.8,2207L274.1,2264.5L293.5,2255.3L503.8,2133.9Z"/>
<path fill="#77ff00" d="M452.2,2181.9L242.8,2295.6L246.3,2266.1L217.4,2217.1L272.8,2267.5L288.8,2260L510.2,2132.2L445.1,2127.6L436,2080.5L418.2,2048L423.6,2027.6L328.6,1966.8L323.7,2040.8L307.7,2043.6L227.6,2045.3L208.8,2192.9L190.5,2045.2L172.2,2035.4L195.6,1982.3L311,1928.8L417.1,1977.6L474.2,2026.9L482.9,2065.4L525.5,2098.2L561.6,2101.8L570.1,2115.4L452.2,2181.9Z"/>
<path fill="#8dff00" d="M464.9,2174.8L248.2,2292.4L250.9,2269.5L228.4,2231.2L271.6,2270.5L284,2264.7L516.6,2130.4L448.2,2125.5L438.7,2076.1L422.7,2047L427.6,2028.7L327.7,1964.8L323,2034.8L307.8,2037.5L224.5,2039.2L207.5,2172.5L191,2039.1L174.5,2030.3L195.6,1982.3L311,1928.8L411.4,1975L472.9,2028.1L482.3,2069.5L520.7,2099.1L562.5,2103.2L570.1,2115.4L464.9,2174.8Z"/>
<path fill="#a3ff00" d="M477.5,2167.6L253.6,2289.2L255.5,2272.8L239.4,2245.4L270.3,2273.5L279.2,2269.3L523,2128.6L451.3,2123.5L441.4,2071.7L427.3,2046L431.6,2029.8L326.8,1962.7L322.3,2028.8L308,2031.3L221.4,2033.1L206.2,2152.2L191.5,2033L176.7,2025.2L195.6,1982.3L311,1928.8L405.7,1972.4L471.6,2029.2L481.7,2073.7L515.8,2100L563.4,2104.7L570.1,2115.4L477.5,2167.6Z"/>
<path fill="#b8ff00" d="M490.1,2160.5L259,2286L260.1,2276.1L250.4,2259.5L269.1,2276.5L274.5,2274L529.5,2126.8L454.5,2121.5L444.1,2067.3L431.8,2045L435.5,2030.9L325.8,1960.7L321.7,2022.8L308.2,2025.1L218.3,2027L204.9,2131.8L192,2026.9L179,2020L195.6,1982.3L311,1928.8L400,1969.8L470.3,2030.4L481,2077.8L511,2100.8L564.4,2106.2L570.1,2115.4L490.1,2160.5Z"/>
<path fill="#ceff00" d="M502.8,2153.4L264.3,2282.8L264.8,2279.4L261.4,2273.7L267.9,2279.5L269.7,2278.7L535.9,2125L457.6,2119.5L446.8,2062.9L436.3,2043.9L439.5,2032L324.9,1958.6L321,2016.8L308.4,2019L215.2,2020.9L203.7,2111.5L192.4,2020.8L181.2,2014.9L195.6,1982.3L311,1928.8L394.3,1967.2L469,2031.6L480.4,2082L506.1,2101.7L565.3,2107.6L570.1,2115.4L502.8,2153.4Z"/>
<path fill="#e4ff00" d="M515.4,2146.3L297,2264.8L542.3,2123.2L460.7,2117.4L449.4,2058.5L440.9,2042.9L443.5,2033.1L323.9,1956.6L320.3,2010.8L308.6,2012.8L212.1,2014.9L202.4,2091.1L192.9,2014.8L183.5,2009.7L195.6,1982.3L311,1928.8L388.6,1964.5L467.7,2032.8L479.8,2086.1L501.3,2102.6L566.2,2109.1L570.1,2115.4L515.4,2146.3Z"/>
<path fill="#faff00" d="M528,2139.1L360.1,2230.3L548.7,2121.4L463.9,2115.4L452.1,2054.1L445.4,2041.9L447.4,2034.2L323,1954.6L319.6,2004.7L308.7,2006.6L209,2008.8L201.1,2070.8L193.4,2008.7L185.7,2004.6L195.6,1982.3L311,1928.8L382.9,1961.9L466.4,2033.9L479.2,2090.2L496.4,2103.5L567.1,2110.6L570.1,2115.4L528,2139.1Z"/>
<path fill="#ffef00" d="M540.7,2132L423.2,2195.8L555.2,2119.6L467,2113.4L454.8,2049.7L449.9,2040.9L451.4,2035.3L322,1952.5L318.9,1998.7L308.9,2000.5L205.9,2002.7L199.8,2050.4L193.9,2002.6L188,1999.5L195.6,1982.3L311,1928.8L377.2,1959.3L465.2,2035.1L478.6,2094.4L491.6,2104.4L568,2112L570.1,2115.4L540.7,2132Z"/>
<path fill="#ffd900" d="M553.3,2124.9L486.3,2161.3L561.6,2117.8L470.1,2111.4L457.5,2045.3L454.5,2039.8L455.4,2036.4L321.1,1950.5L318.3,1992.7L309.1,1994.3L202.8,1996.6L198.6,2030.1L194.4,1996.5L190.3,1994.3L195.6,1982.3L311,1928.8L371.5,1956.7L463.9,2036.3L477.9,2098.5L486.7,2105.3L568.9,2113.5L570.1,2115.4L553.3,2124.9Z"/>
<path fill="#ffc300" d="M566,2117.8L549.4,2126.8L568,2116L473.3,2109.3L460.1,2040.9L459,2038.8L459.3,2037.5L320.1,1948.5L317.6,1986.7L309.3,1988.1L199.7,1990.5L197.3,2009.7L194.9,1990.5L192.5,1989.2L195.6,1982.3L311,1928.8L365.8,1954.1L462.6,2037.5L477.3,2102.7L481.9,2106.2L569.8,2114.9L570.1,2115.4L566,2117.8Z"/>
<path fill="#ffae00" d="M360.2,1951.4L455.3,2033.5L319.2,1946.4L316.9,1980.7L309.5,1982L196.6,1984.4L196,1989.4L195.4,1984.4L194.8,1984.1L195.6,1982.3L311,1928.8L360.2,1951.4ZM476.4,2107.3L474.1,2095.2L476.7,2106.8L477,2107.1L486.7,2108L476.4,2107.3Z"/>
<path fill="#ff9800" d="M354.5,1948.8L438.6,2021.4L318.3,1944.4L316.2,1974.7L309.7,1975.8L204.6,1978.1L311,1928.8L354.5,1948.8Z"/>
<path fill="#ff8200" d="M348.8,1946.2L421.9,2009.2L317.3,1942.3L315.5,1968.7L309.8,1969.7L218.6,1971.6L311,1928.8L348.8,1946.2Z"/>
<path fill="#ff6d00" d="M343.1,1943.6L405.1,1997.1L316.4,1940.3L314.9,1962.7L310,1963.5L232.6,1965.1L311,1928.8L343.1,1943.6Z"/>
<path fill="#ff5700" d="M337.4,1941L388.4,1985L315.4,1938.3L314.2,1956.6L310.2,1957.3L246.5,1958.7L311,1928.8L337.4,1941Z"/>
<path fill="#ff4100" d="M331.7,1938.3L371.7,1972.8L314.5,1936.2L313.5,1950.6L310.4,1951.2L260.5,1952.2L311,1928.8L331.7,1938.3Z"/>
<path fill="#ff2b00" d="M326,1935.7L354.9,1960.7L313.5,1934.2L312.8,1944.6L310.6,1945L274.4,1945.8L311,1928.8L326,1935.7Z"/>
<path fill="#ff1600" d="M320.3,1933.1L338.2,1948.5L312.6,1932.1L312.2,1938.6L310.8,1938.8L288.4,1939.3L311,1928.8L320.3,1933.1Z"/>
<path fill="#ff0000" d="M314.6,1930.5L321.5,1936.4L311.6,1930.1L311.5,1932.6L310.9,1932.7L302.3,1932.9L311,1928.8L314.6,1930.5Z"/>
<path fill="none" stroke="#3a3a3a" stroke-width="1" stroke-opacity="0.85" d="M161.6,2345.7L118.7,2369L124.5,2320.5L131.7,2184.8L145.4,2167L120.4,2153.6M327.5,2186L306.8,2184.8L303.5,2185.4L298.9,2185.5L297.7,2194.8L301.5,2198.2L327.5,2186M237.4,2303L151.1,2349.9L162.7,2252.3L165.1,2208.2L181.1,2187.3L184.5,2167.7L182.2,2148.5L133.9,2122.8M401,2162.6L391.8,2162L390.6,2155.4L368.8,2115.8L362.1,2147.6L322.4,2145.3L304.6,2148.4L280.3,2148.9L274,2198.1L294,2216.3L369.8,2180.7L401,2162.6M341.6,2048.4L350.1,2031.5L356.1,2008.8L344.7,2001.4L341.6,2048.4M313.2,2260.2L183.4,2330.7L195.5,2229.8L187.7,2216.6L193.8,2182.2L185.1,2112L147.4,2091.9M479.7,2006.5L488.4,2013.9L489.7,2019.8L510.1,2035.4M439.6,2151.9L410.6,2149.8L406.6,2128.9L368.3,2059.3L380,2015.4L339,1989.2L331.2,2107L305.7,2111.4L261.7,2112.3L250.3,2201.4L286.5,2234.3L341.2,2208.7L439.6,2151.9M389.1,2217.5L215.8,2311.6L223.2,2249.6L200.5,2211.1L203,2196.7L188,2075.6L160.9,2061.1M445.6,1990.7L480.6,2021L486,2044.7L549.8,2093.7L557.1,2094.4M478.1,2141.1L429.4,2137.7L422.7,2102.5L395.5,2053.2L403.8,2022L333.4,1977L327.1,2070.9L306.7,2074.4L243.1,2075.8L226.6,2204.8L279.1,2252.4L312.6,2236.7L478.1,2141.1M464.9,2174.8L248.2,2292.4L250.9,2269.5L228.4,2231.2L271.6,2270.5L284,2264.7L516.6,2130.4L448.2,2125.5L438.7,2076.1L422.7,2047L427.6,2028.7L327.7,1964.8L323,2034.8L307.8,2037.5L224.5,2039.2L207.5,2172.5L191,2039.1L174.5,2030.3M411.4,1975L472.9,2028.1L482.3,2069.5L520.7,2099.1L562.5,2103.2M540.7,2132L423.2,2195.8L555.2,2119.6L467,2113.4L454.8,2049.7L449.9,2040.9L451.4,2035.3L322,1952.5L318.9,1998.7L308.9,2000.5L205.9,2002.7L199.8,2050.4L193.9,2002.6L188,1999.5M377.2,1959.3L465.2,2035.1L478.6,2094.4L491.6,2104.4L568,2112M343.1,1943.6L405.1,1997.1L316.4,1940.3L314.9,1962.7L310,1963.5L232.6,1965.1"/>
<circle cx="311" cy="1928.8" r="5.4"/>
<circle cx="195.6" cy="1982.3" r="5.4"/>
<circle cx="461.8" cy="2038.2" r="5.4"/>
<circle cx="490.9" cy="2011.6" r="5.4"/>
<circle cx="354.1" cy="2062.6" r="5.4"/>
<circle cx="346.9" cy="2006.2" r="5.4"/>
<circle cx="555.9" cy="2092.6" r="5.4"/>
<circle cx="332.6" cy="2119.5" r="5.4"/>
<circle cx="181.1" cy="2162.2" r="5.4"/>
<circle cx="383.1" cy="2167.7" r="5.4"/>
<circle cx="112.6" cy="2171.4" r="5.4"/>
<circle cx="303.2" cy="2194" r="5.4"/>
<circle cx="209.6" cy="2207.1" r="5.4"/>
<circle cx="181.1" cy="2219.4" r="5.4"/>
<circle cx="86.7" cy="2388" r="5.4"/>
<circle cx="476.7" cy="2107.2" r="5.4"/>
<circle cx="570.1" cy="2115.4" r="5.4"/>
<circle cx="267.2" cy="2281.1" r="5.4"/>
<text x="129" y="2430.5" text-anchor="middle" font-size="20">100</text>
<text x="207.3" y="2430.5" text-anchor="middle" font-size="20">120</text>
<text x="285.6" y="2430.5" text-anchor="middle" font-size="20">140</text>
<text x="363.9" y="2430.5" text-anchor="middle" font-size="20">160</text>
<text x="442.2" y="2430.5" text-anchor="middle" font-size="20">180</text>
<text x="520.5" y="2430.5" text-anchor="middle" font-size="20">200</text>
<text x="60.5" y="2360.5" text-anchor="end" font-size="20">25</text>
<text x="60.5" y="2306.1" text-anchor="end" font-size="20">30</text>
<text x="60.5" y="2251.7" text-anchor="end" font-size="20">35</text>
<text x="60.5" y="2197.3" text-anchor="end" font-size="20">40</text>
<text x="60.5" y="2142.9" text-anchor="end" font-size="20">45</text>
<text x="60.5" y="2088.5" text-anchor="end" font-size="20">50</text>
<text x="60.5" y="2034.1" text-anchor="end" font-size="20">55</text>
<text x="60.5" y="1979.7" text-anchor="end" font-size="20">60</text>
<text x="60.5" y="1925.3" text-anchor="end" font-size="20">65</text>
<path fill="none" stroke="#333" stroke-width="2" d="M129,2398.5V2407.5M207.3,2398.5V2407.5M285.6,2398.5V2407.5M363.9,2398.5V2407.5M442.2,2398.5V2407.5M520.5,2398.5V2407.5M89.8,2398.5V2403.5M168.2,2398.5V2403.5M246.4,2398.5V2403.5M324.8,2398.5V2403.5M403.1,2398.5V2403.5M481.4,2398.5V2403.5M559.6,2398.5V2403.5M77.5,2353.7H68.5M77.5,2299.3H68.5M77.5,2244.9H68.5M77.5,2190.5H68.5M77.5,2136.1H68.5M77.5,2081.7H68.5M77.5,2027.3H68.5M77.5,1972.9H68.5M77.5,1918.5H68.5M77.5,2380.9H72.5M77.5,2326.5H72.5M77.5,2272.1H72.5M77.5,2217.7H72.5M77.5,2163.3H72.5M77.5,2108.9H72.5M77.5,2054.5H72.5M77.5,2000.1H72.5M77.5,1945.7H72.5"/>
<rect x="77.5" y="1918" width="501.0" height="480.5" fill="none" stroke="#333" stroke-width="2"/>
<rect x="659" y="1918" width="39.5" height="9.5" fill="#808080"/>
<rect x="659" y="2379.1" width="39.5" height="10.2" fill="#0000ff"/>
<rect x="659" y="2369.5" width="39.5" height="10.2" fill="#0016ff"/>
<rect x="659" y="2359.9" width="39.5" height="10.2" fill="#002bff"/>
<rect x="659" y="2350.2" width="39.5" height="10.2" fill="#0041ff"/>
<rect x="659" y="2340.6" width="39.5" height="10.2" fill="#0057ff"/>
<rect x="659" y="2331" width="39.5" height="10.2" fill="#006dff"/>
<rect x="659" y="2321.4" width="39.5" height="10.2" fill="#0082ff"/>
<rect x="659" y="2311.8" width="39.5" height="10.2" fill="#0098ff"/>
<rect x="659" y="2302.2" width="39.5" height="10.2" fill="#00aeff"/>
<rect x="659" y="2292.6" width="39.5" height="10.2" fill="#00c3ff"/>
<rect x="659" y="2282.9" width="39.5" height="10.2" fill="#00d9ff"/>
<rect x="659" y="2273.3" width="39.5" height="10.2" fill="#00efff"/>
<rect x="659" y="2263.7" width="39.5" height="10.2" fill="#00fffa"/>
<rect x="659" y="2254.1" width="39.5" height="10.2" fill="#00ffe4"/>
<rect x="659" y="2244.5" width="39.5" height="10.2" fill="#00ffce"/>
<rect x="659" y="2234.9" width="39.5" height="10.2" fill="#00ffb8"/>
<rect x="659" y="2225.3" width="39.5" height="10.2" fill="#00ffa3"/>
<rect x="659" y="2215.6" width="39.5" height="10.2" fill="#00ff8d"/>
<rect x="659" y="2206" width="39.5" height="10.2" fill="#00ff77"/>
<rect x="659" y="2196.4" width="39.5" height="10.2" fill="#00ff62"/>
<rect x="659" y="2186.8" width="39.5" height="10.2" fill="#00ff4c"/>
<rect x="659" y="2177.2" width="39.5" height="10.2" fill="#00ff36"/>
<rect x="659" y="2167.6" width="39.5" height="10.2" fill="#00ff21"/>
<rect x="659" y="2157.9" width="39.5" height="10.2" fill="#00ff0b"/>
<rect x="659" y="2148.3" width="39.5" height="10.2" fill="#0bff00"/>
<rect x="659" y="2138.7" width="39.5" height="10.2" fill="#21ff00"/>
<rect x="659" y="2129.1" width="39.5" height="10.2" fill="#36ff00"/>
<rect x="659" y="2119.5" width="39.5" height="10.2" fill="#4cff00"/>
<rect x="659" y="2109.9" width="39.5" height="10.2" fill="#62ff00"/>
<rect x="659" y="2100.3" width="39.5" height="10.2" fill="#77ff00"/>
<rect x="659" y="2090.6" width="39.5" height="10.2" fill="#8dff00"/>
<rect x="659" y="2081" width="39.5" height="10.2" fill="#a3ff00"/>
<rect x="659" y="2071.4" width="39.5" height="10.2" fill="#b8ff00"/>
<rect x="659" y="2061.8" width="39.5" height="10.2" fill="#ceff00"/>
<rect x="659" y="2052.2" width="39.5" height="10.2" fill="#e4ff00"/>
<rect x="659" y="2042.6" width="39.5" height="10.2" fill="#faff00"/>
<rect x="659" y="2033" width="39.5" height="10.2" fill="#ffef00"/>
<rect x="659" y="2023.3" width="39.5" height="10.2" fill="#ffd900"/>
<rect x="659" y="2013.7" width="39.5" height="10.2" fill="#ffc300"/>
<rect x="659" y="2004.1" width="39.5" height="10.2" fill="#ffae00"/>
<rect x="659" y="1994.5" width="39.5" height="10.2" fill="#ff9800"/>
<rect x="659" y="1984.9" width="39.5" height="10.2" fill="#ff8200"/>
<rect x="659" y="1975.3" width="39.5" height="10.2" fill="#ff6d00"/>
<rect x="659" y="1965.7" width="39.5" height="10.2" fill="#ff5700"/>
<rect x="659" y="1956" width="39.5" height="10.2" fill="#ff4100"/>
<rect x="659" y="1946.4" width="39.5" height="10.2" fill="#ff2b00"/>
<rect x="659" y="1936.8" width="39.5" height="10.2" fill="#ff1600"/>
<rect x="659" y="1927.2" width="39.5" height="10.2" fill="#ff0000"/>
<rect x="659" y="2389" width="39.5" height="9.5" fill="#000"/>
<rect x="659" y="1918" width="39.5" height="480.5" fill="none" stroke="#222" stroke-width="1.2"/>
<text x="713.5" y="1933" font-size="15.5">108.4</text>
<text x="713.5" y="1990.7" font-size="15.5">105.1</text>
<text x="713.5" y="2048.4" font-size="15.5">101.7</text>
<text x="713.5" y="2106.1" font-size="15.5">98.35</text>
<text x="713.5" y="2163.8" font-size="15.5">95.00</text>
<text x="713.5" y="2221.5" font-size="15.5">91.65</text>
<text x="713.5" y="2279.2" font-size="15.5">88.30</text>
<text x="713.5" y="2336.9" font-size="15.5">84.95</text>
<text x="713.5" y="2394.5" font-size="15.5">81.60</text>
<path stroke="#444" stroke-width="2" d="M698.5,1927.5H707.5M698.5,1985.2H707.5M698.5,2042.9H707.5M698.5,2100.6H707.5M698.5,2158.2H707.5M698.5,2215.9H707.5M698.5,2273.6H707.5M698.5,2331.3H707.5M698.5,2389H707.5"/>
<text x="546.5" y="1900.4" font-size="25" textLength="266.7" lengthAdjust="spacingAndGlyphs">Young's Modulus (MPa)</text>
<text x="271.5" y="2324.4" font-size="25" textLength="296" lengthAdjust="spacingAndGlyphs">Oriented fibers (Polyblend)</text>
<text x="328.75" y="2467.9" font-size="25" text-anchor="middle" textLength="207.5" lengthAdjust="spacingAndGlyphs">Strain at break (%)</text>
<text x="28.3" y="2157.5" font-size="25" text-anchor="middle" transform="rotate(-90 28.3 2157.5)" textLength="226" lengthAdjust="spacingAndGlyphs">Stress at brek (MPa)</text>
<text x="102.5" y="1978.2" font-size="56" font-weight="bold" textLength="70" lengthAdjust="spacingAndGlyphs">(d)</text>
</g>
<g>
<path fill="#0000ff" d="M1360.4,76L1439,319L1439,407L1439,452L1203.2,522.5L967.5,428.5L967.5,289L967.5,182.5L1360.4,76Z"/>
<path fill="#0016ff" d="M1439,450.6L1437.2,451.8L1436.8,451.9L1437.3,452.1L1436.9,452.6L1203.2,522.5L967.5,428.5L967.5,289L967.5,182.5L1360.4,76L1439,319L1439,407L1439,450.6Z"/>
<path fill="#002bff" d="M1439,444.3L1428.7,451.1L1426.5,451.5L1429.4,452.9L1427.4,455.4L1203.2,522.5L967.5,428.5L967.5,289L967.5,182.5L1360.4,76L1439,319L1439,407L1439,444.3Z"/>
<path fill="#0041ff" d="M1439,438L1420.3,450.3L1416.2,451.1L1421.4,453.6L1417.9,458.3L1203.2,522.5L967.5,428.5L967.5,289L967.5,182.5L1360.4,76L1439,319L1439,407L1439,438Z"/>
<path fill="#0057ff" d="M1439,431.6L1411.8,449.6L1406,450.8L1413.5,454.3L1408.4,461.1L1203.2,522.5L967.5,428.5L967.5,289L967.5,182.5L1360.4,76L1439,319L1439,407L1439,431.6Z"/>
<path fill="#006dff" d="M1439,425.3L1403.4,448.8L1395.7,450.4L1405.6,455.1L1398.9,464L1203.2,522.5L967.5,428.5L967.5,289L967.5,182.5L1360.4,76L1439,319L1439,407L1439,425.3Z"/>
<path fill="#0082ff" d="M1439,419L1394.9,448.1L1385.4,450L1397.7,455.8L1389.4,466.8L1203.2,522.5L967.5,428.5L967.5,289L967.5,182.5L1360.4,76L1439,319L1439,407L1439,419ZM1374.5,353.1L1355.9,360.1L1353.6,360.6L1382.5,373.5L1374.5,353.1Z"/>
<path fill="#0098ff" d="M1439,412.7L1386.5,447.3L1375.2,449.6L1389.8,456.5L1379.9,469.6L1203.2,522.5L967.5,428.5L967.5,289L967.5,182.5L1360.4,76L1439,319L1439,407L1439,412.7ZM1393.5,343L1349.9,359.6L1344.5,360.7L1412.2,391.1L1393.5,343Z"/>
<path fill="#00aeff" d="M1439,401.1L1412.5,333L1343.8,359L1335.3,360.8L1437.6,406.8L1437.9,406.9L1437.6,407L1437.9,407.1L1378.1,446.6L1364.9,449.3L1381.9,457.3L1370.4,472.5L1203.2,522.5L967.5,428.5L967.5,289L967.5,182.5L1360.4,76L1439,319L1439,401.1Z"/>
<path fill="#00c3ff" d="M1439,342.2L1431.5,322.9L1337.8,358.5L1326.1,360.9L1424,404.9L1426.9,405.7L1423.8,407.6L1426.5,408.3L1369.6,445.8L1354.6,448.9L1374,458L1361,475.3L1203.2,522.5L967.5,428.5L967.5,289L967.5,182.5L1360.4,76L1439,319L1439,342.2Z"/>
<path fill="#00d9ff" d="M1430,291.2L1369.8,206.3L1434.4,317.9L1431.9,318.3L1430.7,318.7L1432.5,319.8L1331.7,358L1317,361L1410.4,403L1415.9,404.5L1409.9,408.2L1415.2,409.4L1361.2,445.1L1344.4,448.5L1366.1,458.7L1351.5,478.2L1203.2,522.5L967.5,428.5L967.5,289L967.5,182.5L1360.4,76L1430,291.2Z"/>
<path fill="#00efff" d="M1415.2,245.4L1360.4,168.1L1357.2,190.7L1350.9,190.8L1356.8,195.2L1426.7,316L1420.3,317.1L1416.9,318.2L1421.7,321L1325.7,357.4L1307.8,361.1L1396.8,401.1L1404.9,403.3L1396.1,408.8L1403.9,410.6L1352.7,444.3L1334.1,448.1L1358.2,459.4L1342,481L1203.2,522.5L967.5,428.5L967.5,289L967.5,182.5L1360.4,76L1415.2,245.4Z"/>
<path fill="#00fffa" d="M1400.4,199.6L1360.4,143.2L1353.7,190.3L1340.5,190.6L1352.8,199.7L1419,314.1L1408.7,316L1403.2,317.8L1410.9,322.3L1319.6,356.9L1298.6,361.2L1383.2,399.2L1394,402.1L1382.3,409.4L1392.6,411.7L1344.3,443.5L1323.9,447.7L1350.2,460.2L1332.5,483.8L1203.2,522.5L967.5,428.5L967.5,289L967.5,182.5L1360.4,76L1400.4,199.6Z"/>
<path fill="#00ffe4" d="M1385.6,153.8L1360.4,118.3L1350.2,189.9L1330.1,190.4L1348.8,204.2L1411.4,312.2L1397.1,314.9L1389.4,317.3L1400.1,323.5L1313.6,356.3L1289.5,361.3L1369.6,397.3L1383,400.9L1368.4,410L1381.2,412.9L1335.9,442.8L1313.6,447.4L1342.3,460.9L1323,486.7L1203.2,522.5L967.5,428.5L967.5,289L967.5,182.5L1360.4,76L1385.6,153.8Z"/>
<path fill="#00ffce" d="M1370.8,108L1360.4,93.4L1346.8,189.5L1319.8,190.1L1344.9,208.7L1403.7,310.3L1385.4,313.7L1375.6,316.8L1389.3,324.8L1307.5,355.8L1280.3,361.4L1355.9,395.4L1372,399.7L1354.6,410.6L1369.9,414L1327.4,442L1303.3,447L1334.4,461.6L1313.5,489.5L1203.2,522.5L967.5,428.5L967.5,289L967.5,182.5L1360.4,76L1370.8,108Z"/>
<path fill="#00ffb8" d="M1356.9,77L1359.1,77.8L1343.3,189.2L1309.4,189.9L1340.9,213.2L1396,308.5L1373.8,312.6L1361.9,316.3L1378.5,326L1301.5,355.3L1271.1,361.5L1342.3,393.5L1361,398.6L1340.8,411.2L1358.6,415.2L1319,441.3L1293.1,446.6L1326.5,462.4L1304,492.4L1203.2,522.5L967.5,428.5L967.5,289L967.5,182.5L1356.9,77Z"/>
<path fill="#00ffa3" d="M1345,80.2L1354.7,83.7L1339.8,188.8L1299,189.7L1337,217.7L1388.4,306.6L1362.2,311.4L1348.1,315.9L1367.7,327.3L1295.4,354.7L1262,361.5L1328.7,391.6L1350,397.4L1326.9,411.8L1347.2,416.3L1310.5,440.5L1282.8,446.2L1318.6,463.1L1294.5,495.2L1203.2,522.5L967.5,428.5L967.5,289L967.5,182.5L1345,80.2Z"/>
<path fill="#00ff8d" d="M1333.2,83.4L1350.3,89.7L1336.3,188.4L1288.6,189.5L1333,222.2L1380.7,304.7L1350.5,310.3L1334.4,315.4L1356.9,328.6L1289.4,354.2L1252.8,361.6L1315.1,389.6L1339,396.2L1313.1,412.4L1335.9,417.5L1302.1,439.8L1272.5,445.9L1310.7,463.8L1285,498L1203.2,522.5L967.5,428.5L967.5,289L967.5,182.5L1333.2,83.4Z"/>
<path fill="#00ff77" d="M1321.4,86.6L1345.9,95.6L1332.8,188L1278.3,189.2L1329,226.8L1373,302.8L1338.9,309.1L1320.6,314.9L1346.1,329.8L1283.3,353.6L1243.6,361.7L1301.5,387.7L1328,395L1299.2,413L1324.6,418.6L1293.6,439L1262.3,445.5L1302.8,464.6L1275.5,500.9L1203.2,522.5L967.5,428.5L967.5,289L967.5,182.5L1321.4,86.6Z"/>
<path fill="#00ff62" d="M1309.6,89.8L1341.5,101.6L1329.3,187.6L1267.9,189L1325.1,231.3L1365.4,301L1327.3,308L1306.9,314.5L1335.3,331.1L1277.3,353.1L1234.5,361.8L1287.8,385.8L1317,393.8L1285.4,413.6L1313.2,419.8L1285.2,438.3L1252,445.1L1294.9,465.3L1266,503.7L1203.2,522.5L967.5,428.5L967.5,289L967.5,182.5L1309.6,89.8Z"/>
<path fill="#00ff4c" d="M1297.8,93L1337.2,107.5L1325.8,187.3L1257.5,188.8L1321.1,235.8L1357.7,299.1L1315.7,306.8L1293.1,314L1324.5,332.3L1271.2,352.6L1225.3,361.9L1274.2,383.9L1306.1,392.6L1271.6,414.2L1301.9,420.9L1276.8,437.5L1241.8,444.7L1287,466L1256.5,506.6L1203.2,522.5L967.5,428.5L967.5,289L967.5,182.5L1297.8,93Z"/>
<path fill="#00ff36" d="M1286,96.2L1332.8,113.5L1322.3,186.9L1247.1,188.6L1317.1,240.3L1350.1,297.2L1304,305.7L1279.4,313.5L1313.7,333.6L1265.2,352L1216.2,362L1260.6,382L1295.1,391.4L1257.7,414.8L1290.6,422.1L1268.3,436.8L1231.5,444.3L1277.3,465.9L1276.2,470.5L1247,509.4L1203.2,522.5L967.5,428.5L967.5,289L967.5,182.5L1286,96.2Z"/>
<path fill="#00ff21" d="M1274.1,99.4L1328.4,119.4L1318.8,186.5L1236.8,188.3L1313.2,244.8L1342.4,295.3L1292.4,304.5L1265.6,313L1302.9,334.9L1259.1,351.5L1207,362.1L1247,380.1L1284.1,390.2L1243.9,415.4L1279.3,423.2L1259.9,436L1221.2,444L1264.5,464.4L1260.4,481.8L1237.5,512.2L1203.2,522.5L967.5,428.5L967.5,289L967.5,182.5L1274.1,99.4Z"/>
<path fill="#00ff0b" d="M1262.3,102.6L1324,125.3L1315.4,186.1L1226.4,188.1L1309.2,249.3L1334.7,293.4L1280.8,303.4L1251.9,312.6L1292.1,336.1L1253.1,350.9L1197.8,362.2L1233.4,378.2L1273.1,389L1230,416L1267.9,424.4L1251.4,435.3L1211,443.6L1251.7,462.8L1244.6,493.1L1228,515.1L1203.2,522.5L967.5,428.5L967.5,289L967.5,182.5L1262.3,102.6Z"/>
<path fill="#0bff00" d="M1250.5,105.8L1319.6,131.3L1311.9,185.7L1216,187.9L1305.2,253.8L1327.1,291.6L1269.1,302.2L1238.1,312.1L1281.3,337.4L1247,350.4L1188.7,362.3L1219.7,376.3L1262.1,387.9L1216.2,416.6L1256.6,425.6L1243,434.5L1200.7,443.2L1238.9,461.2L1228.7,504.3L1218.5,517.9L1203.2,522.5L967.5,428.5L967.5,289L967.5,182.5L1250.5,105.8Z"/>
<path fill="#21ff00" d="M1238.7,109L1315.2,137.2L1308.4,185.4L1205.6,187.7L1301.3,258.4L1319.4,289.7L1257.5,301.1L1224.4,311.6L1270.5,338.6L1241,349.9L1179.5,362.4L1206.1,374.4L1251.1,386.7L1202.4,417.2L1245.3,426.7L1234.6,433.8L1190.4,442.8L1226.1,459.6L1212.9,515.6L1209,520.8L1203.2,522.5L967.5,428.5L967.5,289L967.5,182.5L1238.7,109Z"/>
<path fill="#36ff00" d="M1226.9,112.2L1310.8,143.2L1304.9,185L1195.3,187.4L1297.3,262.9L1311.7,287.8L1245.9,299.9L1210.6,311.2L1259.7,339.9L1234.9,349.3L1170.3,362.5L1192.5,372.5L1240.1,385.5L1188.5,417.8L1233.9,427.9L1226.1,433L1180.2,442.5L1213.3,458.1L1198.7,520L1196.3,519.7L967.5,428.5L967.5,289L967.5,182.5L1226.9,112.2Z"/>
<path fill="#4cff00" d="M1215.1,115.4L1306.5,149.1L1301.4,184.6L1184.9,187.2L1293.3,267.4L1304.1,285.9L1234.3,298.8L1196.9,310.7L1249,341.2L1228.9,348.8L1161.2,362.6L1178.9,370.6L1229.1,384.3L1174.7,418.4L1222.6,429L1217.7,432.3L1169.9,442.1L1200.5,456.5L1187,513.7L1178.5,512.6L967.5,428.5L967.5,289L967.5,182.5L1215.1,115.4Z"/>
<path fill="#62ff00" d="M1203.3,118.6L1302.1,155.1L1297.9,184.2L1174.5,187L1289.4,271.9L1296.4,284.1L1222.6,297.6L1183.1,310.2L1238.2,342.4L1222.8,348.2L1152,362.7L1165.3,368.7L1218.1,383.1L1160.8,418.9L1211.3,430.2L1209.2,431.5L1159.7,441.7L1187.7,454.9L1175.3,507.4L1160.7,505.5L967.5,428.5L967.5,289L967.5,182.5L1203.3,118.6Z"/>
<path fill="#77ff00" d="M1191.4,121.8L1297.7,161L1294.4,183.9L1164.1,186.8L1285.4,276.4L1288.7,282.2L1211,296.5L1169.4,309.7L1227.4,343.7L1216.8,347.7L1142.8,362.8L1151.7,366.8L1207.2,381.9L1147,419.5L1191.2,429.4L1196.5,430.9L1198.8,431.2L1149.4,441.3L1174.9,453.4L1163.6,501.1L1142.9,498.4L967.5,428.5L967.5,289L967.5,182.5L1191.4,121.8Z"/>
<path fill="#8dff00" d="M1179.6,125L1293.3,167L1290.9,183.5L1153.8,186.5L1280.1,280L1279.8,280.5L1279.5,280.6L1199.4,295.4L1155.6,309.3L1216.6,344.9L1210.7,347.2L1133.7,362.9L1138,364.9L1196.2,380.7L1133.2,420.1L1150,423.9L1173.2,430.7L1183.6,431.8L1139.1,440.9L1162.1,451.8L1152,494.8L1125.1,491.3L967.5,428.5L967.5,289L967.5,182.5L1179.6,125Z"/>
<path fill="#a3ff00" d="M1167.8,128.2L1288.9,172.9L1287.5,183.1L1143.4,186.3L1262.7,274.5L1259.2,281.1L1255.4,281.8L1187.7,294.2L1141.9,308.8L1205.8,346.2L1204.7,346.6L1130.3,361.8L1124.6,363L1185.2,379.5L1122.3,418.8L1117.3,420.9L1150,430.4L1168.5,432.4L1128.9,440.6L1149.3,450.2L1140.3,488.4L1107.3,484.2L967.5,428.5L967.5,289L967.5,182.5L1167.8,128.2Z"/>
<path fill="#b8ff00" d="M1156,131.4L1284.5,178.8L1284,182.7L1133,186.1L1245.3,269.1L1238.6,281.7L1231.3,282.9L1176.1,293.1L1128.1,308.3L1185.4,341.8L1193.6,347.6L1118.4,363.1L1174.2,378.4L1116.3,414.6L1098.3,421.8L1126.8,430.2L1153.3,433.1L1118.6,440.2L1136.5,448.6L1128.6,482.1L1089.5,477.2L967.5,428.5L967.5,289L967.5,182.5L1156,131.4Z"/>
<path fill="#ceff00" d="M1144.2,134.6L1273.9,182.5L1122.6,185.9L1227.9,263.7L1218,282.2L1207.2,284L1164.5,291.9L1114.3,307.9L1162,335.7L1180.9,349.1L1112.2,363.2L1163.2,377.2L1110.3,410.3L1079.2,422.8L1103.6,429.9L1138.1,433.7L1108.3,439.8L1123.7,447.1L1116.9,475.8L1071.7,470.1L967.5,428.5L967.5,289L967.5,182.5L1144.2,134.6Z"/>
<path fill="#e4ff00" d="M1132.4,137.8L1253.4,182.5L1112.3,185.6L1210.5,258.2L1197.4,282.8L1183.1,285.2L1152.9,290.8L1100.6,307.4L1138.7,329.7L1168.3,350.5L1106,363.4L1152.2,376L1104.3,406L1060.1,423.8L1080.4,429.7L1123,434.3L1098.1,439.4L1110.9,445.5L1105.2,469.5L1053.9,463L967.5,428.5L967.5,289L967.5,182.5L1132.4,137.8Z"/>
<path fill="#faff00" d="M1120.6,141L1232.9,182.5L1101.9,185.4L1193.1,252.8L1176.8,283.3L1159,286.3L1141.2,289.6L1086.8,306.9L1115.3,323.6L1155.6,351.9L1099.8,363.5L1141.2,374.8L1098.2,401.7L1041.1,424.8L1057.1,429.5L1107.8,435L1087.8,439.1L1098.1,443.9L1093.6,463.2L1036.2,455.9L967.5,428.5L967.5,289L967.5,182.5L1120.6,141Z"/>
<path fill="#ffef00" d="M1108.7,144.2L1212.4,182.5L1091.5,185.2L1175.7,247.4L1156.1,283.9L1134.9,287.5L1129.6,288.5L1073.1,306.4L1091.9,317.5L1143,353.4L1093.6,363.6L1130.2,373.6L1092.2,397.4L1022,425.7L1033.9,429.2L1092.6,435.6L1077.5,438.7L1085.3,442.3L1081.9,456.9L1018.4,448.8L967.5,428.5L967.5,289L967.5,182.5L1108.7,144.2Z"/>
<path fill="#ffd900" d="M1096.9,147.4L1191.9,182.5L1081.1,185L1158.2,242L1135.5,284.5L1114.3,288.1L1095.3,294.5L1059.3,306L1068.6,311.4L1130.3,354.8L1087.4,363.7L1119.3,372.4L1086.2,393.1L1002.9,426.7L1010.7,429L1077.4,436.2L1067.3,438.3L1072.5,440.8L1070.2,450.6L1000.6,441.7L967.5,428.5L967.5,289L967.5,182.5L1096.9,147.4Z"/>
<path fill="#ffc300" d="M1085.1,150.6L1171.4,182.5L1070.8,184.7L1140.8,236.5L1114.9,285L1096.3,288.2L1045.7,305.4L1046.1,305.9L1117.7,356.3L1081.2,363.8L1108.3,371.2L1080.2,388.8L983.9,427.7L987.5,428.7L1062.3,436.8L1057,437.9L1059.7,439.2L1058.5,444.2L982.8,434.6L967.5,428.5L967.5,289L967.5,182.5L1085.1,150.6Z"/>
<path fill="#ffae00" d="M1073.3,153.8L1151,182.5L1060.4,184.5L1123.4,231.1L1094.3,285.6L1078.3,288.3L1034.8,303.1L1046.1,316.2L1105,357.7L1075,363.9L1097.3,370L1074.2,384.5L969.8,426.6L967.5,425.4L967.5,289L967.5,182.5L1073.3,153.8ZM1046.9,437.6L1046.9,437.9L1021,434.6L1047.1,437.5L1046.8,437.5L1046.9,437.6Z"/>
<path fill="#ff9800" d="M1061.5,157L1130.5,182.5L1050,184.3L1106,225.7L1073.7,286.1L1060.3,288.4L1023.8,300.8L1046.1,326.6L1092.4,359.2L1068.8,364.1L1086.3,368.9L1068.1,380.2L986.2,413.3L967.5,403.2L967.5,289L967.5,182.5L1061.5,157Z"/>
<path fill="#ff8200" d="M1049.7,160.2L1110,182.5L1039.6,184.1L1088.6,220.2L1053.1,286.7L1042.3,288.5L1012.9,298.5L1046.1,337L1079.7,360.6L1062.6,364.2L1075.3,367.7L1062.1,375.9L1002.5,400L967.5,381.1L967.5,289L967.5,182.5L1049.7,160.2Z"/>
<path fill="#ff6d00" d="M1037.8,163.4L1089.5,182.5L1029.3,183.8L1071.2,214.8L1032.5,287.3L1024.3,288.6L1002,296.3L1046.1,347.3L1067.1,362.1L1056.4,364.3L1064.3,366.5L1056.1,371.6L1018.9,386.6L967.5,358.9L967.5,289L967.5,182.5L1037.8,163.4Z"/>
<path fill="#ff5700" d="M1026,166.6L1069,182.5L1018.9,183.6L1053.8,209.4L1011.9,287.8L1006.3,288.8L991,294L1046.1,357.7L1054.4,363.5L1050.2,364.4L1053.3,365.3L1050.1,367.3L1035.3,373.3L967.5,336.7L967.5,289L967.5,182.5L1026,166.6Z"/>
<path fill="#ff4100" d="M1014.2,169.8L1048.5,182.5L1008.5,183.4L1036.4,204L991.2,288.4L988.2,288.9L980.1,291.7L1028.2,347.3L967.5,314.6L967.5,289L967.5,182.5L1014.2,169.8Z"/>
<path fill="#ff2b00" d="M1002.4,173L1028,182.5L998.1,183.2L1018.9,198.5L970.6,288.9L970.2,289L969.2,289.4L975.5,296.7L967.5,292.4L967.5,289L967.5,182.5L1002.4,173Z"/>
<path fill="#ff1600" d="M990.6,176.2L1007.5,182.5L987.8,182.9L1001.5,193.1L967.5,256.8L967.5,182.5L990.6,176.2Z"/>
<path fill="#ff0000" d="M978.8,179.4L987,182.5L977.4,182.7L984.1,187.7L967.5,218.8L967.5,182.5L978.8,179.4Z"/>
<path fill="none" stroke="#3a3a3a" stroke-width="1" stroke-opacity="0.85" d="M1439,419L1394.9,448.1L1385.4,450L1397.7,455.8L1389.4,466.8M1374.5,353.1L1355.9,360.1L1353.6,360.6L1382.5,373.5L1374.5,353.1M1400.4,199.6L1360.4,143.2L1353.7,190.3L1340.5,190.6L1352.8,199.7L1419,314.1L1408.7,316L1403.2,317.8L1410.9,322.3L1319.6,356.9L1298.6,361.2L1383.2,399.2L1394,402.1L1382.3,409.4L1392.6,411.7L1344.3,443.5L1323.9,447.7L1350.2,460.2L1332.5,483.8M1321.4,86.6L1345.9,95.6L1332.8,188L1278.3,189.2L1329,226.8L1373,302.8L1338.9,309.1L1320.6,314.9L1346.1,329.8L1283.3,353.6L1243.6,361.7L1301.5,387.7L1328,395L1299.2,413L1324.6,418.6L1293.6,439L1262.3,445.5L1302.8,464.6L1275.5,500.9M1250.5,105.8L1319.6,131.3L1311.9,185.7L1216,187.9L1305.2,253.8L1327.1,291.6L1269.1,302.2L1238.1,312.1L1281.3,337.4L1247,350.4L1188.7,362.3L1219.7,376.3L1262.1,387.9L1216.2,416.6L1256.6,425.6L1243,434.5L1200.7,443.2L1238.9,461.2L1228.7,504.3L1218.5,517.9M1179.6,125L1293.3,167L1290.9,183.5L1153.8,186.5L1280.1,280L1279.8,280.5L1279.5,280.6L1199.4,295.4L1155.6,309.3L1216.6,344.9L1210.7,347.2L1133.7,362.9L1138,364.9L1196.2,380.7L1133.2,420.1L1150,423.9L1173.2,430.7L1183.6,431.8L1139.1,440.9L1162.1,451.8L1152,494.8L1125.1,491.3M1108.7,144.2L1212.4,182.5L1091.5,185.2L1175.7,247.4L1156.1,283.9L1134.9,287.5L1129.6,288.5L1073.1,306.4L1091.9,317.5L1143,353.4L1093.6,363.6L1130.2,373.6L1092.2,397.4L1022,425.7L1033.9,429.2L1092.6,435.6L1077.5,438.7L1085.3,442.3L1081.9,456.9L1018.4,448.8M1037.8,163.4L1089.5,182.5L1029.3,183.8L1071.2,214.8L1032.5,287.3L1024.3,288.6L1002,296.3L1046.1,347.3L1067.1,362.1L1056.4,364.3L1064.3,366.5L1056.1,371.6L1018.9,386.6L967.5,358.9"/>
<circle cx="967.5" cy="182.5" r="5.4"/>
<circle cx="967.5" cy="289" r="5.4"/>
<circle cx="1046.1" cy="305.5" r="5.4"/>
<circle cx="1124.7" cy="288" r="5.4"/>
<circle cx="1281.8" cy="182.5" r="5.4"/>
<circle cx="1281.8" cy="280.5" r="5.4"/>
<circle cx="1360.4" cy="76" r="5.4"/>
<circle cx="1360.4" cy="191" r="5.4"/>
<circle cx="1439" cy="319" r="5.4"/>
<circle cx="1046.1" cy="364.5" r="5.4"/>
<circle cx="1124.7" cy="363" r="5.4"/>
<circle cx="1203.2" cy="346.5" r="5.4"/>
<circle cx="1360.4" cy="360.5" r="5.4"/>
<circle cx="1439" cy="407" r="5.4"/>
<circle cx="967.5" cy="428.5" r="5.4"/>
<circle cx="1046.1" cy="437.5" r="5.4"/>
<circle cx="1124.7" cy="420.5" r="5.4"/>
<circle cx="1203.2" cy="431" r="5.4"/>
<circle cx="1439" cy="452" r="5.4"/>
<circle cx="1281.8" cy="466.5" r="5.4"/>
<circle cx="1203.2" cy="522.5" r="5.4"/>
<text x="1439" y="564.5" text-anchor="middle" font-size="20">40</text>
<text x="1360.4" y="564.5" text-anchor="middle" font-size="20">50</text>
<text x="1281.8" y="564.5" text-anchor="middle" font-size="20">60</text>
<text x="1203.2" y="564.5" text-anchor="middle" font-size="20">70</text>
<text x="1124.7" y="564.5" text-anchor="middle" font-size="20">80</text>
<text x="1046.1" y="564.5" text-anchor="middle" font-size="20">90</text>
<text x="967.5" y="564.5" text-anchor="middle" font-size="20">100</text>
<text x="942" y="526.3" text-anchor="end" font-size="20">1600</text>
<text x="942" y="457.6" text-anchor="end" font-size="20">1800</text>
<text x="942" y="388.8" text-anchor="end" font-size="20">2000</text>
<text x="942" y="320.1" text-anchor="end" font-size="20">2200</text>
<text x="942" y="251.3" text-anchor="end" font-size="20">2400</text>
<text x="942" y="182.6" text-anchor="end" font-size="20">2600</text>
<text x="942" y="113.8" text-anchor="end" font-size="20">2800</text>
<path fill="none" stroke="#333" stroke-width="2" d="M1439,533.5V542.5M1360.4,533.5V542.5M1281.8,533.5V542.5M1203.2,533.5V542.5M1124.7,533.5V542.5M1046.1,533.5V542.5M967.5,533.5V542.5M1399.7,533.5V538.5M1321.1,533.5V538.5M1242.5,533.5V538.5M1164,533.5V538.5M1085.4,533.5V538.5M1006.8,533.5V538.5M959,519.5H950M959,450.8H950M959,382H950M959,313.2H950M959,244.5H950M959,175.8H950M959,107H950M959,485.1H954M959,416.4H954M959,347.6H954M959,278.9H954M959,210.1H954M959,141.4H954M959,72.6H954"/>
<rect x="959" y="65" width="488.5" height="468.5" fill="none" stroke="#333" stroke-width="2"/>
<rect x="1525" y="65" width="39" height="10" fill="#808080"/>
<rect x="1525" y="513.9" width="39" height="9.9" fill="#0000ff"/>
<rect x="1525" y="504.5" width="39" height="9.9" fill="#0016ff"/>
<rect x="1525" y="495.2" width="39" height="9.9" fill="#002bff"/>
<rect x="1525" y="485.8" width="39" height="9.9" fill="#0041ff"/>
<rect x="1525" y="476.5" width="39" height="9.9" fill="#0057ff"/>
<rect x="1525" y="467.1" width="39" height="9.9" fill="#006dff"/>
<rect x="1525" y="457.8" width="39" height="9.9" fill="#0082ff"/>
<rect x="1525" y="448.4" width="39" height="9.9" fill="#0098ff"/>
<rect x="1525" y="439.1" width="39" height="9.9" fill="#00aeff"/>
<rect x="1525" y="429.8" width="39" height="9.9" fill="#00c3ff"/>
<rect x="1525" y="420.4" width="39" height="9.9" fill="#00d9ff"/>
<rect x="1525" y="411.1" width="39" height="9.9" fill="#00efff"/>
<rect x="1525" y="401.7" width="39" height="9.9" fill="#00fffa"/>
<rect x="1525" y="392.4" width="39" height="9.9" fill="#00ffe4"/>
<rect x="1525" y="383" width="39" height="9.9" fill="#00ffce"/>
<rect x="1525" y="373.7" width="39" height="9.9" fill="#00ffb8"/>
<rect x="1525" y="364.4" width="39" height="9.9" fill="#00ffa3"/>
<rect x="1525" y="355" width="39" height="9.9" fill="#00ff8d"/>
<rect x="1525" y="345.7" width="39" height="9.9" fill="#00ff77"/>
<rect x="1525" y="336.3" width="39" height="9.9" fill="#00ff62"/>
<rect x="1525" y="327" width="39" height="9.9" fill="#00ff4c"/>
<rect x="1525" y="317.6" width="39" height="9.9" fill="#00ff36"/>
<rect x="1525" y="308.3" width="39" height="9.9" fill="#00ff21"/>
<rect x="1525" y="298.9" width="39" height="9.9" fill="#00ff0b"/>
<rect x="1525" y="289.6" width="39" height="9.9" fill="#0bff00"/>
<rect x="1525" y="280.3" width="39" height="9.9" fill="#21ff00"/>
<rect x="1525" y="270.9" width="39" height="9.9" fill="#36ff00"/>
<rect x="1525" y="261.6" width="39" height="9.9" fill="#4cff00"/>
<rect x="1525" y="252.2" width="39" height="9.9" fill="#62ff00"/>
<rect x="1525" y="242.9" width="39" height="9.9" fill="#77ff00"/>
<rect x="1525" y="233.5" width="39" height="9.9" fill="#8dff00"/>
<rect x="1525" y="224.2" width="39" height="9.9" fill="#a3ff00"/>
<rect x="1525" y="214.9" width="39" height="9.9" fill="#b8ff00"/>
<rect x="1525" y="205.5" width="39" height="9.9" fill="#ceff00"/>
<rect x="1525" y="196.2" width="39" height="9.9" fill="#e4ff00"/>
<rect x="1525" y="186.8" width="39" height="9.9" fill="#faff00"/>
<rect x="1525" y="177.5" width="39" height="9.9" fill="#ffef00"/>
<rect x="1525" y="168.1" width="39" height="9.9" fill="#ffd900"/>
<rect x="1525" y="158.8" width="39" height="9.9" fill="#ffc300"/>
<rect x="1525" y="149.4" width="39" height="9.9" fill="#ffae00"/>
<rect x="1525" y="140.1" width="39" height="9.9" fill="#ff9800"/>
<rect x="1525" y="130.8" width="39" height="9.9" fill="#ff8200"/>
<rect x="1525" y="121.4" width="39" height="9.9" fill="#ff6d00"/>
<rect x="1525" y="112.1" width="39" height="9.9" fill="#ff5700"/>
<rect x="1525" y="102.7" width="39" height="9.9" fill="#ff4100"/>
<rect x="1525" y="93.4" width="39" height="9.9" fill="#ff2b00"/>
<rect x="1525" y="84" width="39" height="9.9" fill="#ff1600"/>
<rect x="1525" y="74.7" width="39" height="9.9" fill="#ff0000"/>
<rect x="1525" y="523.5" width="39" height="10" fill="#000"/>
<rect x="1525" y="65" width="39" height="468.5" fill="none" stroke="#222" stroke-width="1.2"/>
<text x="1579" y="80.5" font-size="15.5">26.80</text>
<text x="1579" y="136.6" font-size="15.5">24.19</text>
<text x="1579" y="192.7" font-size="15.5">21.58</text>
<text x="1579" y="248.7" font-size="15.5">18.96</text>
<text x="1579" y="304.8" font-size="15.5">16.35</text>
<text x="1579" y="360.9" font-size="15.5">13.74</text>
<text x="1579" y="416.9" font-size="15.5">11.13</text>
<text x="1579" y="473" font-size="15.5">8.513</text>
<text x="1579" y="529" font-size="15.5">5.900</text>
<path stroke="#444" stroke-width="2" d="M1564,75H1573M1564,131.1H1573M1564,187.1H1573M1564,243.2H1573M1564,299.2H1573M1564,355.3H1573M1564,411.4H1573M1564,467.4H1573M1564,523.5H1573"/>
<text x="1415.6" y="48.9" font-size="25" textLength="259" lengthAdjust="spacingAndGlyphs">Young's Modulus (MPa)</text>
<text x="968.5" y="94.9" font-size="24.3" textLength="287.5" lengthAdjust="spacingAndGlyphs">Random fibers (Polyblend)</text>
<text x="1203.25" y="600.5" font-size="25" text-anchor="middle" textLength="237.5" lengthAdjust="spacingAndGlyphs">Fraction of H-PCL (%)</text>
<text x="891" y="299.4" font-size="25" text-anchor="middle" transform="rotate(-90 891 299.4)" textLength="153.3" lengthAdjust="spacingAndGlyphs">Diameter (nm)</text>
<text x="969" y="510.7" font-size="56" font-weight="bold" textLength="70" lengthAdjust="spacingAndGlyphs">(e)</text>
</g>
<g>
<path fill="#0000ff" d="M1432,1127.4L1189.8,1122.4L1109,1041.4L947.5,826.4L947.5,755.6L947.5,673.5L1270.5,886.9L1432,1108.9L1432,1120L1432,1127.4Z"/>
<path fill="#0016ff" d="M1432,1126.3L1427.5,1127.2L1429.6,1127.4L1189.8,1122.4L1109,1041.4L947.5,826.4L947.5,755.6L947.5,673.5L1270.5,886.9L1432,1108.9L1432,1120L1432,1126.3Z"/>
<path fill="#002bff" d="M1432,1122.5L1411.6,1126.6L1421.4,1127.2L1189.8,1122.4L1109,1041.4L947.5,826.4L947.5,755.6L947.5,673.5L1270.5,886.9L1432,1108.9L1432,1120L1432,1122.5Z"/>
<path fill="#0041ff" d="M1432,1119.4L1422.5,1120.5L1395.7,1125.9L1413.1,1127L1189.8,1122.4L1109,1041.4L947.5,826.4L947.5,755.6L947.5,673.5L1270.5,886.9L1432,1108.9L1432,1119.4Z"/>
<path fill="#0057ff" d="M1432,1117.6L1397.1,1121.7L1379.9,1125.2L1404.8,1126.9L1189.8,1122.4L1109,1041.4L947.5,826.4L947.5,755.6L947.5,673.5L1270.5,886.9L1432,1108.9L1432,1117.6Z"/>
<path fill="#006dff" d="M1432,1115.8L1371.7,1122.9L1364,1124.5L1396.5,1126.7L1189.8,1122.4L1109,1041.4L947.5,826.4L947.5,755.6L947.5,673.5L1270.5,886.9L1432,1108.9L1432,1115.8Z"/>
<path fill="#0082ff" d="M1432,1114.1L1356.4,1123L1351.2,1123L1350.3,1123.2L1349.9,1123.9L1388.2,1126.5L1189.8,1122.4L1109,1041.4L947.5,826.4L947.5,755.6L947.5,673.5L1270.5,886.9L1432,1108.9L1432,1114.1Z"/>
<path fill="#0098ff" d="M1432,1112.3L1382.4,1118.1L1351.2,1118.4L1345.3,1119.4L1343.2,1123.9L1379.9,1126.4L1189.8,1122.4L1109,1041.4L947.5,826.4L947.5,755.6L947.5,673.5L1270.5,886.9L1432,1108.9L1432,1112.3Z"/>
<path fill="#00aeff" d="M1432,1110.5L1408.4,1113.3L1351.2,1113.8L1340.2,1115.6L1336.5,1123.8L1371.6,1126.2L1189.8,1122.4L1109,1041.4L947.5,826.4L947.5,755.6L947.5,673.5L1270.5,886.9L1432,1108.9L1432,1110.5Z"/>
<path fill="#00c3ff" d="M1431.4,1108.1L1427.9,1107.3L1430.7,1108.5L1351.2,1109.3L1335.2,1111.9L1329.8,1123.7L1363.3,1126L1189.8,1122.4L1109,1041.4L947.5,826.4L947.5,755.6L947.5,673.5L1270.5,886.9L1431.4,1108.1Z"/>
<path fill="#00d9ff" d="M1425,1099.3L1384,1089.7L1416.1,1104.1L1351.2,1104.7L1330.2,1108.1L1323.1,1123.7L1355,1125.9L1189.8,1122.4L1109,1041.4L947.5,826.4L947.5,755.6L947.5,673.5L1270.5,886.9L1425,1099.3Z"/>
<path fill="#00efff" d="M1418.5,1090.4L1350.4,1074.5L1350.2,1075.8L1349.4,1076.3L1351.2,1077.1L1401.6,1099.6L1351.2,1100.1L1325.2,1104.3L1316.5,1123.6L1346.7,1125.7L1189.8,1122.4L1109,1041.4L947.5,826.4L947.5,755.6L947.5,673.5L1270.5,886.9L1418.5,1090.4Z"/>
<path fill="#00fffa" d="M1412.1,1081.5L1346.9,1066.3L1346.3,1072.6L1342.2,1075.1L1351.2,1079.1L1387.1,1095.2L1351.2,1095.5L1320.2,1100.5L1309.8,1123.5L1338.4,1125.5L1189.8,1122.4L1109,1041.4L947.5,826.4L947.5,755.6L947.5,673.5L1270.5,886.9L1412.1,1081.5Z"/>
<path fill="#00ffe4" d="M1405.6,1072.7L1343.4,1058.2L1342.3,1069.4L1335,1073.8L1351.2,1081.2L1372.6,1090.7L1351.2,1090.9L1315.2,1096.7L1303.1,1123.5L1330.1,1125.3L1189.8,1122.4L1109,1041.4L947.5,826.4L947.5,755.6L947.5,673.5L1270.5,886.9L1405.6,1072.7Z"/>
<path fill="#00ffce" d="M1399.2,1063.8L1339.9,1050L1338.3,1066.2L1327.7,1072.6L1351.3,1083.2L1358.1,1086.3L1351.2,1086.3L1310.2,1093L1296.4,1123.4L1321.8,1125.2L1189.8,1122.4L1109,1041.4L947.5,826.4L947.5,755.6L947.5,673.5L1270.5,886.9L1399.2,1063.8Z"/>
<path fill="#00ffb8" d="M1392.7,1054.9L1336.5,1041.8L1334.3,1063L1320.5,1071.4L1345.5,1082.7L1305.2,1089.2L1289.7,1123.4L1313.5,1125L1189.8,1122.4L1109,1041.4L947.5,826.4L947.5,755.6L947.5,673.5L1270.5,886.9L1392.7,1054.9Z"/>
<path fill="#00ffa3" d="M1386.3,1046.1L1333,1033.6L1330.3,1059.9L1313.3,1070.2L1334.7,1079.8L1300.2,1085.4L1283,1123.3L1305.2,1124.8L1189.8,1122.4L1109,1041.4L947.5,826.4L947.5,755.6L947.5,673.5L1270.5,886.9L1386.3,1046.1Z"/>
<path fill="#00ff8d" d="M1379.8,1037.2L1329.5,1025.5L1326.4,1056.7L1306.1,1069L1323.8,1077L1295.2,1081.6L1276.3,1123.2L1296.9,1124.7L1189.8,1122.4L1109,1041.4L947.5,826.4L947.5,755.6L947.5,673.5L1270.5,886.9L1379.8,1037.2Z"/>
<path fill="#00ff77" d="M1373.4,1028.4L1326,1017.3L1322.4,1053.5L1298.8,1067.8L1313,1074.2L1290.1,1077.9L1269.6,1123.2L1288.6,1124.5L1189.8,1122.4L1109,1041.4L947.5,826.4L947.5,755.6L947.5,673.5L1270.5,886.9L1373.4,1028.4Z"/>
<path fill="#00ff62" d="M1366.9,1019.5L1322.5,1009.1L1318.4,1050.3L1291.6,1066.6L1302.2,1071.3L1285.1,1074.1L1262.9,1123.1L1280.3,1124.3L1189.8,1122.4L1109,1041.4L947.5,826.4L947.5,755.6L947.5,673.5L1270.5,886.9L1366.9,1019.5Z"/>
<path fill="#00ff4c" d="M1360.5,1010.6L1319.1,1001L1314.4,1047.1L1284.4,1065.4L1291.3,1068.5L1280.1,1070.3L1256.2,1123.1L1272.1,1124.1L1189.8,1122.4L1109,1041.4L947.5,826.4L947.5,755.6L947.5,673.5L1270.5,886.9L1360.5,1010.6Z"/>
<path fill="#00ff36" d="M1354,1001.8L1315.6,992.8L1310.5,1044L1277.2,1064.2L1280.5,1065.7L1275.1,1066.5L1249.5,1123L1263.8,1124L1189.8,1122.4L1109,1041.4L947.5,826.4L947.5,755.6L947.5,673.5L1270.5,886.9L1354,1001.8Z"/>
<path fill="#00ff21" d="M1347.6,992.9L1312.1,984.6L1306.5,1040.8L1270.5,1062.6L1269.9,1063.1L1269.2,1063.6L1269.7,1063.6L1242.8,1122.9L1255.5,1123.8L1189.8,1122.4L1109,1041.4L947.5,826.4L947.5,755.6L947.5,673.5L1270.5,886.9L1347.6,992.9Z"/>
<path fill="#00ff0b" d="M1341.1,984.1L1308.6,976.5L1302.5,1037.6L1270.5,1057L1262.2,1063.4L1251.8,1070.6L1259.6,1071.1L1236.1,1122.9L1247.2,1123.6L1189.8,1122.4L1109,1041.4L947.5,826.4L947.5,755.6L947.5,673.5L1270.5,886.9L1341.1,984.1Z"/>
<path fill="#0bff00" d="M1334.7,975.2L1305.1,968.3L1298.5,1034.4L1270.5,1051.4L1254.5,1063.6L1234.5,1077.5L1249.5,1078.5L1229.4,1122.8L1238.9,1123.5L1189.8,1122.4L1109,1041.4L947.5,826.4L947.5,755.6L947.5,673.5L1270.5,886.9L1334.7,975.2Z"/>
<path fill="#21ff00" d="M1328.3,966.3L1301.7,960.1L1294.5,1031.2L1270.5,1045.8L1246.7,1063.9L1217.1,1084.5L1239.4,1085.9L1222.7,1122.7L1230.6,1123.3L1189.8,1122.4L1109,1041.4L947.5,826.4L947.5,755.6L947.5,673.5L1270.5,886.9L1328.3,966.3Z"/>
<path fill="#36ff00" d="M1321.8,957.5L1298.2,952L1290.6,1028L1270.5,1040.2L1239,1064.2L1199.8,1091.4L1229.3,1093.3L1216,1122.7L1222.3,1123.1L1189.8,1122.4L1109,1041.4L947.5,826.4L947.5,755.6L947.5,673.5L1270.5,886.9L1321.8,957.5Z"/>
<path fill="#4cff00" d="M1315.4,948.6L1294.7,943.8L1286.6,1024.9L1270.5,1034.6L1231.3,1064.5L1189.8,1093.3L1183.4,1091.2L1189.8,1098.8L1219.2,1100.8L1209.3,1122.6L1214,1122.9L1189.8,1122.4L1109,1041.4L947.5,826.4L947.5,755.6L947.5,673.5L1270.5,886.9L1315.4,948.6Z"/>
<path fill="#62ff00" d="M1308.9,939.7L1291.2,935.6L1282.6,1021.7L1270.5,1029L1223.6,1064.8L1189.8,1088.2L1168.2,1081L1189.8,1106.9L1209.2,1108.2L1202.6,1122.6L1205.7,1122.8L1189.8,1122.4L1109,1041.4L947.5,826.4L947.5,755.6L947.5,673.5L1270.5,886.9L1308.9,939.7Z"/>
<path fill="#77ff00" d="M1302.5,930.9L1287.7,927.4L1278.6,1018.5L1270.5,1023.4L1215.9,1065.1L1189.8,1083.2L1153,1070.9L1189.8,1115L1199.1,1115.6L1195.9,1122.5L1197.4,1122.6L1189.8,1122.4L1109,1041.4L947.5,826.4L947.5,755.6L947.5,673.5L1270.5,886.9L1302.5,930.9Z"/>
<path fill="#8dff00" d="M1296,922L1284.3,919.3L1274.7,1015.3L1270.5,1017.8L1208.1,1065.3L1189.8,1078.1L1137.9,1060.7L1186.6,1119.3L1109,1041.4L947.5,826.4L947.5,755.6L947.5,673.5L1270.5,886.9L1296,922Z"/>
<path fill="#a3ff00" d="M1289.6,913.2L1280.8,911.1L1270.7,1012.1L1270.5,1012.3L1200.4,1065.6L1189.8,1073L1122.7,1050.6L1145.8,1078.4L1109,1041.4L947.5,826.4L947.5,755.6L947.5,673.5L1270.5,886.9L1289.6,913.2Z"/>
<path fill="#b8ff00" d="M1283.1,904.3L1277.3,902.9L1270.5,971L1212.8,1050.6L1192.7,1065.9L1189.8,1068L1125.1,1046.3L1109,1040.8L1108.4,1039.7L1107.6,1039.5L947.5,826.4L947.5,755.6L947.5,673.5L1270.5,886.9L1283.1,904.3ZM1120,933.1L1107.4,933.6L1107.8,934.5L1108.1,935.1L1109,938L1131,971.8L1120,933.1Z"/>
<path fill="#ceff00" d="M1276.7,895.4L1273.8,894.8L1270.5,928.1L1221.4,995.8L1196.9,909.5L1096.6,913.3L1099.7,920.1L1102.2,925.3L1109,948.5L1181.1,1059.2L1109,1034.6L1102.4,1022.1L1092.5,1019.5L947.5,826.4L947.5,755.6L947.5,673.5L1270.5,886.9L1276.7,895.4Z"/>
<path fill="#e4ff00" d="M1268.8,885.8L1268.6,886.1L1085.7,893.1L1091.6,905.8L1096.2,915.5L1109,959.1L1167,1048.2L1109,1028.4L1096.4,1004.5L1077.4,999.4L947.5,826.4L947.5,755.6L947.5,673.5L1268.8,885.8Z"/>
<path fill="#faff00" d="M1227.5,858.5L1223.1,867.2L1074.8,872.8L1083.5,891.4L1090.2,905.7L1109,969.6L1153,1037.2L1109,1022.1L1090.4,986.9L1062.4,979.4L947.5,826.4L947.5,755.6L947.5,673.5L1227.5,858.5Z"/>
<path fill="#ffef00" d="M1186.3,831.3L1177.6,848.2L1064,852.5L1075.3,877.1L1084.2,895.9L1109,980.1L1139,1026.1L1109,1015.9L1084.4,969.2L1047.3,959.3L947.5,826.4L947.5,755.6L947.5,673.5L1186.3,831.3Z"/>
<path fill="#ffd900" d="M1145.1,804L1132.1,829.2L1053.1,832.2L1067.2,862.8L1078.3,886.1L1109,990.6L1125,1015.1L1109,1009.7L1078.5,951.6L1032.3,939.3L947.5,826.4L947.5,755.6L947.5,673.5L1145.1,804Z"/>
<path fill="#ffc300" d="M1103.8,776.8L1086.6,810.3L1042.2,812L1059.1,848.4L1072.3,876.3L1109,1001.1L1110.9,1004.1L1109,1003.4L1072.5,934L1017.2,919.2L947.5,826.4L947.5,755.6L947.5,673.5L1103.8,776.8Z"/>
<path fill="#ffae00" d="M1062.6,749.5L1041.2,791.3L1031.3,791.7L1050.9,834.1L1066.3,866.5L1099.4,978.9L1066.5,916.4L1002.1,899.2L947.5,826.4L947.5,755.6L947.5,673.5L1062.6,749.5Z"/>
<path fill="#ff9800" d="M1021.4,722.3L1005.2,753.8L1021.5,783.4L1028.2,788.3L1042.8,819.8L1060.4,856.7L1088.2,951.5L1060.5,898.7L987.1,879.1L947.5,826.4L947.5,755.6L947.5,673.5L1021.4,722.3Z"/>
<path fill="#ff8200" d="M980.1,695L973,708.9L1012,779.8L1028.2,791.5L1034.7,805.4L1054.4,846.9L1077.1,924L1054.5,881.1L972,859.1L947.5,826.4L947.5,755.6L947.5,673.5L980.1,695Z"/>
<path fill="#ff6d00" d="M947.5,676.3L1002.5,776.3L1025.4,792.7L1008.1,802.2L1028.2,794.7L1048.4,837.1L1065.9,896.6L1048.5,863.5L956.9,839L947.5,826.4L947.5,755.6L947.5,676.3Z"/>
<path fill="#ff5700" d="M947.5,690L993,772.7L1012,786.3L947.5,821.3L947.5,755.6L947.5,690ZM958.5,823.4L1028.2,797.4L1042.4,827.3L1054.7,869.2L1042.5,845.9L958.5,823.4Z"/>
<path fill="#ff4100" d="M947.5,703.6L983.6,769.1L998.6,779.9L947.5,807.7L947.5,755.6L947.5,703.6ZM987.9,815.3L1028.2,800.2L1036.5,817.5L1043.6,841.7L1036.5,828.3L987.9,815.3Z"/>
<path fill="#ff2b00" d="M947.5,717.2L974.1,765.6L985.2,773.6L947.5,794L947.5,755.6L947.5,717.2ZM1017.3,807.1L1028.2,803L1030.5,807.7L1032.4,814.3L1030.5,810.6L1017.3,807.1Z"/>
<path fill="#ff1600" d="M947.5,730.9L964.6,762L971.8,767.2L947.5,780.3L947.5,755.6L947.5,730.9Z"/>
<path fill="#ff0000" d="M947.5,744.5L955.2,758.5L958.4,760.8L947.5,766.7L947.5,755.6L947.5,744.5Z"/>
<path fill="none" stroke="#3a3a3a" stroke-width="1" stroke-opacity="0.85" d="M1432,1114.1L1356.4,1123L1351.2,1123L1350.3,1123.2L1349.9,1123.9L1388.2,1126.5M1412.1,1081.5L1346.9,1066.3L1346.3,1072.6L1342.2,1075.1L1351.2,1079.1L1387.1,1095.2L1351.2,1095.5L1320.2,1100.5L1309.8,1123.5L1338.4,1125.5M1373.4,1028.4L1326,1017.3L1322.4,1053.5L1298.8,1067.8L1313,1074.2L1290.1,1077.9L1269.6,1123.2L1288.6,1124.5M1334.7,975.2L1305.1,968.3L1298.5,1034.4L1270.5,1051.4L1254.5,1063.6L1234.5,1077.5L1249.5,1078.5L1229.4,1122.8L1238.9,1123.5M1296,922L1284.3,919.3L1274.7,1015.3L1270.5,1017.8L1208.1,1065.3L1189.8,1078.1L1137.9,1060.7L1186.6,1119.3M1186.3,831.3L1177.6,848.2L1064,852.5L1075.3,877.1L1084.2,895.9L1109,980.1L1139,1026.1L1109,1015.9L1084.4,969.2L1047.3,959.3M947.5,676.3L1002.5,776.3L1025.4,792.7L1008.1,802.2L1028.2,794.7L1048.4,837.1L1065.9,896.6L1048.5,863.5L956.9,839"/>
<circle cx="947.5" cy="673.5" r="5.4"/>
<circle cx="947.5" cy="755.6" r="5.4"/>
<circle cx="947.5" cy="826.4" r="5.4"/>
<circle cx="1028.2" cy="785.9" r="5.4"/>
<circle cx="1028.2" cy="794.1" r="5.4"/>
<circle cx="1028.2" cy="804.1" r="5.4"/>
<circle cx="1270.5" cy="886.9" r="5.4"/>
<circle cx="1109" cy="936.5" r="5.4"/>
<circle cx="1109" cy="1002.6" r="5.4"/>
<circle cx="1270.5" cy="1012" r="5.4"/>
<circle cx="1109" cy="1041.4" r="5.4"/>
<circle cx="1189.8" cy="1066" r="5.4"/>
<circle cx="1270.5" cy="1063.1" r="5.4"/>
<circle cx="1351.2" cy="1076.6" r="5.4"/>
<circle cx="1351.2" cy="1084.2" r="5.4"/>
<circle cx="1189.8" cy="1095.4" r="5.4"/>
<circle cx="1432" cy="1108.9" r="5.4"/>
<circle cx="1189.8" cy="1122.4" r="5.4"/>
<circle cx="1432" cy="1120" r="5.4"/>
<circle cx="1351.2" cy="1123.9" r="5.4"/>
<circle cx="1432" cy="1127.4" r="5.4"/>
<text x="1432" y="1179.5" text-anchor="middle" font-size="20">40</text>
<text x="1351.2" y="1179.5" text-anchor="middle" font-size="20">50</text>
<text x="1270.5" y="1179.5" text-anchor="middle" font-size="20">60</text>
<text x="1189.8" y="1179.5" text-anchor="middle" font-size="20">70</text>
<text x="1109" y="1179.5" text-anchor="middle" font-size="20">80</text>
<text x="1028.2" y="1179.5" text-anchor="middle" font-size="20">90</text>
<text x="947.5" y="1179.5" text-anchor="middle" font-size="20">100</text>
<text x="922" y="1148.3" text-anchor="end" font-size="20">2</text>
<text x="922" y="1111.3" text-anchor="end" font-size="20">4</text>
<text x="922" y="1074.3" text-anchor="end" font-size="20">6</text>
<text x="922" y="1037.3" text-anchor="end" font-size="20">8</text>
<text x="922" y="1000.3" text-anchor="end" font-size="20">10</text>
<text x="922" y="963.3" text-anchor="end" font-size="20">12</text>
<text x="922" y="926.3" text-anchor="end" font-size="20">14</text>
<text x="922" y="889.3" text-anchor="end" font-size="20">16</text>
<text x="922" y="852.3" text-anchor="end" font-size="20">18</text>
<text x="922" y="815.3" text-anchor="end" font-size="20">20</text>
<text x="922" y="778.3" text-anchor="end" font-size="20">22</text>
<text x="922" y="741.3" text-anchor="end" font-size="20">24</text>
<text x="922" y="704.3" text-anchor="end" font-size="20">26</text>
<path fill="none" stroke="#333" stroke-width="2" d="M1432,1147.5V1156.5M1351.2,1147.5V1156.5M1270.5,1147.5V1156.5M1189.8,1147.5V1156.5M1109,1147.5V1156.5M1028.2,1147.5V1156.5M947.5,1147.5V1156.5M1391.6,1147.5V1152.5M1310.9,1147.5V1152.5M1230.1,1147.5V1152.5M1149.4,1147.5V1152.5M1068.6,1147.5V1152.5M987.9,1147.5V1152.5M939,1141.5H930M939,1104.5H930M939,1067.5H930M939,1030.5H930M939,993.5H930M939,956.5H930M939,919.5H930M939,882.5H930M939,845.5H930M939,808.5H930M939,771.5H930M939,734.5H930M939,697.5H930M939,1123H934M939,1086H934M939,1049H934M939,1012H934M939,975H934M939,938H934M939,901H934M939,864H934M939,827H934M939,790H934M939,753H934M939,716H934M939,679H934"/>
<rect x="939" y="668" width="501.5" height="479.5" fill="none" stroke="#333" stroke-width="2"/>
<rect x="1521.5" y="668" width="39.5" height="9.5" fill="#808080"/>
<rect x="1521.5" y="1127.6" width="39.5" height="10.2" fill="#0000ff"/>
<rect x="1521.5" y="1118" width="39.5" height="10.2" fill="#0016ff"/>
<rect x="1521.5" y="1108.5" width="39.5" height="10.2" fill="#002bff"/>
<rect x="1521.5" y="1098.9" width="39.5" height="10.2" fill="#0041ff"/>
<rect x="1521.5" y="1089.3" width="39.5" height="10.2" fill="#0057ff"/>
<rect x="1521.5" y="1079.7" width="39.5" height="10.2" fill="#006dff"/>
<rect x="1521.5" y="1070.1" width="39.5" height="10.2" fill="#0082ff"/>
<rect x="1521.5" y="1060.5" width="39.5" height="10.2" fill="#0098ff"/>
<rect x="1521.5" y="1051" width="39.5" height="10.2" fill="#00aeff"/>
<rect x="1521.5" y="1041.4" width="39.5" height="10.2" fill="#00c3ff"/>
<rect x="1521.5" y="1031.8" width="39.5" height="10.2" fill="#00d9ff"/>
<rect x="1521.5" y="1022.2" width="39.5" height="10.2" fill="#00efff"/>
<rect x="1521.5" y="1012.6" width="39.5" height="10.2" fill="#00fffa"/>
<rect x="1521.5" y="1003" width="39.5" height="10.2" fill="#00ffe4"/>
<rect x="1521.5" y="993.4" width="39.5" height="10.2" fill="#00ffce"/>
<rect x="1521.5" y="983.9" width="39.5" height="10.2" fill="#00ffb8"/>
<rect x="1521.5" y="974.3" width="39.5" height="10.2" fill="#00ffa3"/>
<rect x="1521.5" y="964.7" width="39.5" height="10.2" fill="#00ff8d"/>
<rect x="1521.5" y="955.1" width="39.5" height="10.2" fill="#00ff77"/>
<rect x="1521.5" y="945.5" width="39.5" height="10.2" fill="#00ff62"/>
<rect x="1521.5" y="935.9" width="39.5" height="10.2" fill="#00ff4c"/>
<rect x="1521.5" y="926.4" width="39.5" height="10.2" fill="#00ff36"/>
<rect x="1521.5" y="916.8" width="39.5" height="10.2" fill="#00ff21"/>
<rect x="1521.5" y="907.2" width="39.5" height="10.2" fill="#00ff0b"/>
<rect x="1521.5" y="897.6" width="39.5" height="10.2" fill="#0bff00"/>
<rect x="1521.5" y="888" width="39.5" height="10.2" fill="#21ff00"/>
<rect x="1521.5" y="878.4" width="39.5" height="10.2" fill="#36ff00"/>
<rect x="1521.5" y="868.9" width="39.5" height="10.2" fill="#4cff00"/>
<rect x="1521.5" y="859.3" width="39.5" height="10.2" fill="#62ff00"/>
<rect x="1521.5" y="849.7" width="39.5" height="10.2" fill="#77ff00"/>
<rect x="1521.5" y="840.1" width="39.5" height="10.2" fill="#8dff00"/>
<rect x="1521.5" y="830.5" width="39.5" height="10.2" fill="#a3ff00"/>
<rect x="1521.5" y="820.9" width="39.5" height="10.2" fill="#b8ff00"/>
<rect x="1521.5" y="811.4" width="39.5" height="10.2" fill="#ceff00"/>
<rect x="1521.5" y="801.8" width="39.5" height="10.2" fill="#e4ff00"/>
<rect x="1521.5" y="792.2" width="39.5" height="10.2" fill="#faff00"/>
<rect x="1521.5" y="782.6" width="39.5" height="10.2" fill="#ffef00"/>
<rect x="1521.5" y="773" width="39.5" height="10.2" fill="#ffd900"/>
<rect x="1521.5" y="763.4" width="39.5" height="10.2" fill="#ffc300"/>
<rect x="1521.5" y="753.9" width="39.5" height="10.2" fill="#ffae00"/>
<rect x="1521.5" y="744.3" width="39.5" height="10.2" fill="#ff9800"/>
<rect x="1521.5" y="734.7" width="39.5" height="10.2" fill="#ff8200"/>
<rect x="1521.5" y="725.1" width="39.5" height="10.2" fill="#ff6d00"/>
<rect x="1521.5" y="715.5" width="39.5" height="10.2" fill="#ff5700"/>
<rect x="1521.5" y="705.9" width="39.5" height="10.2" fill="#ff4100"/>
<rect x="1521.5" y="696.4" width="39.5" height="10.2" fill="#ff2b00"/>
<rect x="1521.5" y="686.8" width="39.5" height="10.2" fill="#ff1600"/>
<rect x="1521.5" y="677.2" width="39.5" height="10.2" fill="#ff0000"/>
<rect x="1521.5" y="1137.5" width="39.5" height="10" fill="#000"/>
<rect x="1521.5" y="668" width="39.5" height="479.5" fill="none" stroke="#222" stroke-width="1.2"/>
<text x="1576" y="683" font-size="15.5">26.00</text>
<text x="1576" y="740.5" font-size="15.5">23.49</text>
<text x="1576" y="798" font-size="15.5">20.98</text>
<text x="1576" y="855.5" font-size="15.5">18.46</text>
<text x="1576" y="913" font-size="15.5">15.95</text>
<text x="1576" y="970.5" font-size="15.5">13.44</text>
<text x="1576" y="1028" font-size="15.5">10.93</text>
<text x="1576" y="1085.5" font-size="15.5">8.413</text>
<text x="1576" y="1143" font-size="15.5">5.900</text>
<path stroke="#444" stroke-width="2" d="M1561,677.5H1570M1561,735H1570M1561,792.5H1570M1561,850H1570M1561,907.5H1570M1561,965H1570M1561,1022.5H1570M1561,1080H1570M1561,1137.5H1570"/>
<text x="1411.2" y="649.9" font-size="25" textLength="261.8" lengthAdjust="spacingAndGlyphs">Young's Modulus (MPa)</text>
<text x="1137.5" y="698.9" font-size="25" textLength="296" lengthAdjust="spacingAndGlyphs">Random fibers (Polyblend)</text>
<text x="1190.5" y="1216.9" font-size="25" text-anchor="middle" textLength="245" lengthAdjust="spacingAndGlyphs">Fraction of H-PCL (%)</text>
<text x="890.5" y="907.2" font-size="25" text-anchor="middle" transform="rotate(-90 890.5 907.2)" textLength="241.5" lengthAdjust="spacingAndGlyphs">Stress at break (MPa)</text>
<text x="985" y="1068.2" font-size="56" font-weight="bold" textLength="57.5" lengthAdjust="spacingAndGlyphs">(f)</text>
</g>
<g>
<path fill="#0000ff" d="M1432,1754.9L1189.8,1749.9L1109,1668.9L947.5,1453.9L947.5,1383.1L947.5,1301L1270.5,1514.4L1432,1736.4L1432,1747.5L1432,1754.9Z"/>
<path fill="#0016ff" d="M1432,1753.8L1427.5,1754.7L1429.6,1754.9L1189.8,1749.9L1109,1668.9L947.5,1453.9L947.5,1383.1L947.5,1301L1270.5,1514.4L1432,1736.4L1432,1747.5L1432,1753.8Z"/>
<path fill="#002bff" d="M1432,1750L1411.6,1754.1L1421.4,1754.7L1189.8,1749.9L1109,1668.9L947.5,1453.9L947.5,1383.1L947.5,1301L1270.5,1514.4L1432,1736.4L1432,1747.5L1432,1750Z"/>
<path fill="#0041ff" d="M1432,1746.9L1422.5,1748L1395.7,1753.4L1413.1,1754.5L1189.8,1749.9L1109,1668.9L947.5,1453.9L947.5,1383.1L947.5,1301L1270.5,1514.4L1432,1736.4L1432,1746.9Z"/>
<path fill="#0057ff" d="M1432,1745.1L1397.1,1749.2L1379.9,1752.7L1404.8,1754.4L1189.8,1749.9L1109,1668.9L947.5,1453.9L947.5,1383.1L947.5,1301L1270.5,1514.4L1432,1736.4L1432,1745.1Z"/>
<path fill="#006dff" d="M1432,1743.3L1371.7,1750.4L1364,1752L1396.5,1754.2L1189.8,1749.9L1109,1668.9L947.5,1453.9L947.5,1383.1L947.5,1301L1270.5,1514.4L1432,1736.4L1432,1743.3Z"/>
<path fill="#0082ff" d="M1432,1741.6L1356.4,1750.5L1351.2,1750.5L1350.3,1750.7L1349.9,1751.4L1388.2,1754L1189.8,1749.9L1109,1668.9L947.5,1453.9L947.5,1383.1L947.5,1301L1270.5,1514.4L1432,1736.4L1432,1741.6Z"/>
<path fill="#0098ff" d="M1432,1739.8L1382.4,1745.6L1351.2,1745.9L1345.3,1746.9L1343.2,1751.4L1379.9,1753.9L1189.8,1749.9L1109,1668.9L947.5,1453.9L947.5,1383.1L947.5,1301L1270.5,1514.4L1432,1736.4L1432,1739.8Z"/>
<path fill="#00aeff" d="M1432,1738L1408.4,1740.8L1351.2,1741.3L1340.2,1743.1L1336.5,1751.3L1371.6,1753.7L1189.8,1749.9L1109,1668.9L947.5,1453.9L947.5,1383.1L947.5,1301L1270.5,1514.4L1432,1736.4L1432,1738Z"/>
<path fill="#00c3ff" d="M1431.4,1735.6L1427.9,1734.8L1430.7,1736L1351.2,1736.8L1335.2,1739.4L1329.8,1751.2L1363.3,1753.5L1189.8,1749.9L1109,1668.9L947.5,1453.9L947.5,1383.1L947.5,1301L1270.5,1514.4L1431.4,1735.6Z"/>
<path fill="#00d9ff" d="M1425,1726.8L1384,1717.2L1416.1,1731.6L1351.2,1732.2L1330.2,1735.6L1323.1,1751.2L1355,1753.4L1189.8,1749.9L1109,1668.9L947.5,1453.9L947.5,1383.1L947.5,1301L1270.5,1514.4L1425,1726.8Z"/>
<path fill="#00efff" d="M1418.5,1717.9L1350.4,1702L1350.2,1703.3L1349.4,1703.8L1351.2,1704.6L1401.6,1727.1L1351.2,1727.6L1325.2,1731.8L1316.5,1751.1L1346.7,1753.2L1189.8,1749.9L1109,1668.9L947.5,1453.9L947.5,1383.1L947.5,1301L1270.5,1514.4L1418.5,1717.9Z"/>
<path fill="#00fffa" d="M1412.1,1709L1346.9,1693.8L1346.3,1700.1L1342.2,1702.6L1351.2,1706.6L1387.1,1722.7L1351.2,1723L1320.2,1728L1309.8,1751L1338.4,1753L1189.8,1749.9L1109,1668.9L947.5,1453.9L947.5,1383.1L947.5,1301L1270.5,1514.4L1412.1,1709Z"/>
<path fill="#00ffe4" d="M1405.6,1700.2L1343.4,1685.7L1342.3,1696.9L1335,1701.3L1351.2,1708.7L1372.6,1718.2L1351.2,1718.4L1315.2,1724.2L1303.1,1751L1330.1,1752.8L1189.8,1749.9L1109,1668.9L947.5,1453.9L947.5,1383.1L947.5,1301L1270.5,1514.4L1405.6,1700.2Z"/>
<path fill="#00ffce" d="M1399.2,1691.3L1339.9,1677.5L1338.3,1693.7L1327.7,1700.1L1351.3,1710.7L1358.1,1713.8L1351.2,1713.8L1310.2,1720.5L1296.4,1750.9L1321.8,1752.7L1189.8,1749.9L1109,1668.9L947.5,1453.9L947.5,1383.1L947.5,1301L1270.5,1514.4L1399.2,1691.3Z"/>
<path fill="#00ffb8" d="M1392.7,1682.4L1336.5,1669.3L1334.3,1690.5L1320.5,1698.9L1345.5,1710.2L1305.2,1716.7L1289.7,1750.9L1313.5,1752.5L1189.8,1749.9L1109,1668.9L947.5,1453.9L947.5,1383.1L947.5,1301L1270.5,1514.4L1392.7,1682.4Z"/>
<path fill="#00ffa3" d="M1386.3,1673.6L1333,1661.1L1330.3,1687.4L1313.3,1697.7L1334.7,1707.3L1300.2,1712.9L1283,1750.8L1305.2,1752.3L1189.8,1749.9L1109,1668.9L947.5,1453.9L947.5,1383.1L947.5,1301L1270.5,1514.4L1386.3,1673.6Z"/>
<path fill="#00ff8d" d="M1379.8,1664.7L1329.5,1653L1326.4,1684.2L1306.1,1696.5L1323.8,1704.5L1295.2,1709.1L1276.3,1750.7L1296.9,1752.2L1189.8,1749.9L1109,1668.9L947.5,1453.9L947.5,1383.1L947.5,1301L1270.5,1514.4L1379.8,1664.7Z"/>
<path fill="#00ff77" d="M1373.4,1655.9L1326,1644.8L1322.4,1681L1298.8,1695.3L1313,1701.7L1290.1,1705.4L1269.6,1750.7L1288.6,1752L1189.8,1749.9L1109,1668.9L947.5,1453.9L947.5,1383.1L947.5,1301L1270.5,1514.4L1373.4,1655.9Z"/>
<path fill="#00ff62" d="M1366.9,1647L1322.5,1636.6L1318.4,1677.8L1291.6,1694.1L1302.2,1698.8L1285.1,1701.6L1262.9,1750.6L1280.3,1751.8L1189.8,1749.9L1109,1668.9L947.5,1453.9L947.5,1383.1L947.5,1301L1270.5,1514.4L1366.9,1647Z"/>
<path fill="#00ff4c" d="M1360.5,1638.1L1319.1,1628.5L1314.4,1674.6L1284.4,1692.9L1291.3,1696L1280.1,1697.8L1256.2,1750.6L1272.1,1751.6L1189.8,1749.9L1109,1668.9L947.5,1453.9L947.5,1383.1L947.5,1301L1270.5,1514.4L1360.5,1638.1Z"/>
<path fill="#00ff36" d="M1354,1629.3L1315.6,1620.3L1310.5,1671.5L1277.2,1691.7L1280.5,1693.2L1275.1,1694L1249.5,1750.5L1263.8,1751.5L1189.8,1749.9L1109,1668.9L947.5,1453.9L947.5,1383.1L947.5,1301L1270.5,1514.4L1354,1629.3Z"/>
<path fill="#00ff21" d="M1347.6,1620.4L1312.1,1612.1L1306.5,1668.3L1270.5,1690.1L1269.9,1690.6L1269.2,1691.1L1269.7,1691.1L1242.8,1750.4L1255.5,1751.3L1189.8,1749.9L1109,1668.9L947.5,1453.9L947.5,1383.1L947.5,1301L1270.5,1514.4L1347.6,1620.4Z"/>
<path fill="#00ff0b" d="M1341.1,1611.6L1308.6,1604L1302.5,1665.1L1270.5,1684.5L1262.2,1690.9L1251.8,1698.1L1259.6,1698.6L1236.1,1750.4L1247.2,1751.1L1189.8,1749.9L1109,1668.9L947.5,1453.9L947.5,1383.1L947.5,1301L1270.5,1514.4L1341.1,1611.6Z"/>
<path fill="#0bff00" d="M1334.7,1602.7L1305.1,1595.8L1298.5,1661.9L1270.5,1678.9L1254.5,1691.1L1234.5,1705L1249.5,1706L1229.4,1750.3L1238.9,1751L1189.8,1749.9L1109,1668.9L947.5,1453.9L947.5,1383.1L947.5,1301L1270.5,1514.4L1334.7,1602.7Z"/>
<path fill="#21ff00" d="M1328.3,1593.8L1301.7,1587.6L1294.5,1658.7L1270.5,1673.3L1246.7,1691.4L1217.1,1712L1239.4,1713.4L1222.7,1750.2L1230.6,1750.8L1189.8,1749.9L1109,1668.9L947.5,1453.9L947.5,1383.1L947.5,1301L1270.5,1514.4L1328.3,1593.8Z"/>
<path fill="#36ff00" d="M1321.8,1585L1298.2,1579.5L1290.6,1655.5L1270.5,1667.7L1239,1691.7L1199.8,1718.9L1229.3,1720.8L1216,1750.2L1222.3,1750.6L1189.8,1749.9L1109,1668.9L947.5,1453.9L947.5,1383.1L947.5,1301L1270.5,1514.4L1321.8,1585Z"/>
<path fill="#4cff00" d="M1315.4,1576.1L1294.7,1571.3L1286.6,1652.4L1270.5,1662.1L1231.3,1692L1189.8,1720.8L1183.4,1718.7L1189.8,1726.3L1219.2,1728.3L1209.3,1750.1L1214,1750.4L1189.8,1749.9L1109,1668.9L947.5,1453.9L947.5,1383.1L947.5,1301L1270.5,1514.4L1315.4,1576.1Z"/>
<path fill="#62ff00" d="M1308.9,1567.2L1291.2,1563.1L1282.6,1649.2L1270.5,1656.5L1223.6,1692.3L1189.8,1715.7L1168.2,1708.5L1189.8,1734.4L1209.2,1735.7L1202.6,1750.1L1205.7,1750.3L1189.8,1749.9L1109,1668.9L947.5,1453.9L947.5,1383.1L947.5,1301L1270.5,1514.4L1308.9,1567.2Z"/>
<path fill="#77ff00" d="M1302.5,1558.4L1287.7,1554.9L1278.6,1646L1270.5,1650.9L1215.9,1692.6L1189.8,1710.7L1153,1698.4L1189.8,1742.5L1199.1,1743.1L1195.9,1750L1197.4,1750.1L1189.8,1749.9L1109,1668.9L947.5,1453.9L947.5,1383.1L947.5,1301L1270.5,1514.4L1302.5,1558.4Z"/>
<path fill="#8dff00" d="M1296,1549.5L1284.3,1546.8L1274.7,1642.8L1270.5,1645.3L1208.1,1692.8L1189.8,1705.6L1137.9,1688.2L1186.6,1746.8L1109,1668.9L947.5,1453.9L947.5,1383.1L947.5,1301L1270.5,1514.4L1296,1549.5Z"/>
<path fill="#a3ff00" d="M1289.6,1540.7L1280.8,1538.6L1270.7,1639.6L1270.5,1639.8L1200.4,1693.1L1189.8,1700.5L1122.7,1678.1L1145.8,1705.9L1109,1668.9L947.5,1453.9L947.5,1383.1L947.5,1301L1270.5,1514.4L1289.6,1540.7Z"/>
<path fill="#b8ff00" d="M1283.1,1531.8L1277.3,1530.4L1270.5,1598.5L1212.8,1678.1L1192.7,1693.4L1189.8,1695.5L1125.1,1673.8L1109,1668.3L1108.4,1667.2L1107.6,1667L947.5,1453.9L947.5,1383.1L947.5,1301L1270.5,1514.4L1283.1,1531.8ZM1120,1560.6L1107.4,1561.1L1107.8,1562L1108.1,1562.6L1109,1565.5L1131,1599.3L1120,1560.6Z"/>
<path fill="#ceff00" d="M1276.7,1522.9L1273.8,1522.3L1270.5,1555.6L1221.4,1623.3L1196.9,1537L1096.6,1540.8L1099.7,1547.6L1102.2,1552.8L1109,1576L1181.1,1686.7L1109,1662.1L1102.4,1649.6L1092.5,1647L947.5,1453.9L947.5,1383.1L947.5,1301L1270.5,1514.4L1276.7,1522.9Z"/>
<path fill="#e4ff00" d="M1268.8,1513.3L1268.6,1513.6L1085.7,1520.6L1091.6,1533.3L1096.2,1543L1109,1586.6L1167,1675.7L1109,1655.9L1096.4,1632L1077.4,1626.9L947.5,1453.9L947.5,1383.1L947.5,1301L1268.8,1513.3Z"/>
<path fill="#faff00" d="M1227.5,1486L1223.1,1494.7L1074.8,1500.3L1083.5,1518.9L1090.2,1533.2L1109,1597.1L1153,1664.7L1109,1649.6L1090.4,1614.4L1062.4,1606.9L947.5,1453.9L947.5,1383.1L947.5,1301L1227.5,1486Z"/>
<path fill="#ffef00" d="M1186.3,1458.8L1177.6,1475.7L1064,1480L1075.3,1504.6L1084.2,1523.4L1109,1607.6L1139,1653.6L1109,1643.4L1084.4,1596.7L1047.3,1586.8L947.5,1453.9L947.5,1383.1L947.5,1301L1186.3,1458.8Z"/>
<path fill="#ffd900" d="M1145.1,1431.5L1132.1,1456.7L1053.1,1459.7L1067.2,1490.3L1078.3,1513.6L1109,1618.1L1125,1642.6L1109,1637.2L1078.5,1579.1L1032.3,1566.8L947.5,1453.9L947.5,1383.1L947.5,1301L1145.1,1431.5Z"/>
<path fill="#ffc300" d="M1103.8,1404.3L1086.6,1437.8L1042.2,1439.5L1059.1,1475.9L1072.3,1503.8L1109,1628.6L1110.9,1631.6L1109,1630.9L1072.5,1561.5L1017.2,1546.7L947.5,1453.9L947.5,1383.1L947.5,1301L1103.8,1404.3Z"/>
<path fill="#ffae00" d="M1062.6,1377L1041.2,1418.8L1031.3,1419.2L1050.9,1461.6L1066.3,1494L1099.4,1606.4L1066.5,1543.9L1002.1,1526.7L947.5,1453.9L947.5,1383.1L947.5,1301L1062.6,1377Z"/>
<path fill="#ff9800" d="M1021.4,1349.8L1005.2,1381.3L1021.5,1410.9L1028.2,1415.8L1042.8,1447.3L1060.4,1484.2L1088.2,1579L1060.5,1526.2L987.1,1506.6L947.5,1453.9L947.5,1383.1L947.5,1301L1021.4,1349.8Z"/>
<path fill="#ff8200" d="M980.1,1322.5L973,1336.4L1012,1407.3L1028.2,1419L1034.7,1432.9L1054.4,1474.4L1077.1,1551.5L1054.5,1508.6L972,1486.6L947.5,1453.9L947.5,1383.1L947.5,1301L980.1,1322.5Z"/>
<path fill="#ff6d00" d="M947.5,1303.8L1002.5,1403.8L1025.4,1420.2L1008.1,1429.7L1028.2,1422.2L1048.4,1464.6L1065.9,1524.1L1048.5,1491L956.9,1466.5L947.5,1453.9L947.5,1383.1L947.5,1303.8Z"/>
<path fill="#ff5700" d="M947.5,1317.5L993,1400.2L1012,1413.8L947.5,1448.8L947.5,1383.1L947.5,1317.5ZM958.5,1450.9L1028.2,1424.9L1042.4,1454.8L1054.7,1496.7L1042.5,1473.4L958.5,1450.9Z"/>
<path fill="#ff4100" d="M947.5,1331.1L983.6,1396.6L998.6,1407.4L947.5,1435.2L947.5,1383.1L947.5,1331.1ZM987.9,1442.8L1028.2,1427.7L1036.5,1445L1043.6,1469.2L1036.5,1455.8L987.9,1442.8Z"/>
<path fill="#ff2b00" d="M947.5,1344.7L974.1,1393.1L985.2,1401.1L947.5,1421.5L947.5,1383.1L947.5,1344.7ZM1017.3,1434.6L1028.2,1430.5L1030.5,1435.2L1032.4,1441.8L1030.5,1438.1L1017.3,1434.6Z"/>
<path fill="#ff1600" d="M947.5,1358.4L964.6,1389.5L971.8,1394.7L947.5,1407.8L947.5,1383.1L947.5,1358.4Z"/>
<path fill="#ff0000" d="M947.5,1372L955.2,1386L958.4,1388.3L947.5,1394.2L947.5,1383.1L947.5,1372Z"/>
<path fill="none" stroke="#3a3a3a" stroke-width="1" stroke-opacity="0.85" d="M1432,1741.6L1356.4,1750.5L1351.2,1750.5L1350.3,1750.7L1349.9,1751.4L1388.2,1754M1412.1,1709L1346.9,1693.8L1346.3,1700.1L1342.2,1702.6L1351.2,1706.6L1387.1,1722.7L1351.2,1723L1320.2,1728L1309.8,1751L1338.4,1753M1373.4,1655.9L1326,1644.8L1322.4,1681L1298.8,1695.3L1313,1701.7L1290.1,1705.4L1269.6,1750.7L1288.6,1752M1334.7,1602.7L1305.1,1595.8L1298.5,1661.9L1270.5,1678.9L1254.5,1691.1L1234.5,1705L1249.5,1706L1229.4,1750.3L1238.9,1751M1296,1549.5L1284.3,1546.8L1274.7,1642.8L1270.5,1645.3L1208.1,1692.8L1189.8,1705.6L1137.9,1688.2L1186.6,1746.8M1186.3,1458.8L1177.6,1475.7L1064,1480L1075.3,1504.6L1084.2,1523.4L1109,1607.6L1139,1653.6L1109,1643.4L1084.4,1596.7L1047.3,1586.8M947.5,1303.8L1002.5,1403.8L1025.4,1420.2L1008.1,1429.7L1028.2,1422.2L1048.4,1464.6L1065.9,1524.1L1048.5,1491L956.9,1466.5"/>
<circle cx="947.5" cy="1301" r="5.4"/>
<circle cx="947.5" cy="1383.1" r="5.4"/>
<circle cx="947.5" cy="1453.9" r="5.4"/>
<circle cx="1028.2" cy="1413.4" r="5.4"/>
<circle cx="1028.2" cy="1421.6" r="5.4"/>
<circle cx="1028.2" cy="1431.6" r="5.4"/>
<circle cx="1270.5" cy="1514.4" r="5.4"/>
<circle cx="1109" cy="1564" r="5.4"/>
<circle cx="1109" cy="1630.1" r="5.4"/>
<circle cx="1270.5" cy="1639.5" r="5.4"/>
<circle cx="1109" cy="1668.9" r="5.4"/>
<circle cx="1189.8" cy="1693.5" r="5.4"/>
<circle cx="1270.5" cy="1690.6" r="5.4"/>
<circle cx="1351.2" cy="1704.1" r="5.4"/>
<circle cx="1351.2" cy="1711.7" r="5.4"/>
<circle cx="1189.8" cy="1722.9" r="5.4"/>
<circle cx="1432" cy="1736.4" r="5.4"/>
<circle cx="1189.8" cy="1749.9" r="5.4"/>
<circle cx="1432" cy="1747.5" r="5.4"/>
<circle cx="1351.2" cy="1751.4" r="5.4"/>
<circle cx="1432" cy="1754.9" r="5.4"/>
<text x="1432" y="1805.5" text-anchor="middle" font-size="20">40</text>
<text x="1351.2" y="1805.5" text-anchor="middle" font-size="20">50</text>
<text x="1270.5" y="1805.5" text-anchor="middle" font-size="20">60</text>
<text x="1189.8" y="1805.5" text-anchor="middle" font-size="20">70</text>
<text x="1109" y="1805.5" text-anchor="middle" font-size="20">80</text>
<text x="1028.2" y="1805.5" text-anchor="middle" font-size="20">90</text>
<text x="947.5" y="1805.5" text-anchor="middle" font-size="20">100</text>
<text x="922" y="1775.8" text-anchor="end" font-size="20">2</text>
<text x="922" y="1738.8" text-anchor="end" font-size="20">4</text>
<text x="922" y="1701.8" text-anchor="end" font-size="20">6</text>
<text x="922" y="1664.8" text-anchor="end" font-size="20">8</text>
<text x="922" y="1627.8" text-anchor="end" font-size="20">10</text>
<text x="922" y="1590.8" text-anchor="end" font-size="20">12</text>
<text x="922" y="1553.8" text-anchor="end" font-size="20">14</text>
<text x="922" y="1516.8" text-anchor="end" font-size="20">16</text>
<text x="922" y="1479.8" text-anchor="end" font-size="20">18</text>
<text x="922" y="1442.8" text-anchor="end" font-size="20">20</text>
<text x="922" y="1405.8" text-anchor="end" font-size="20">22</text>
<text x="922" y="1368.8" text-anchor="end" font-size="20">24</text>
<text x="922" y="1331.8" text-anchor="end" font-size="20">26</text>
<path fill="none" stroke="#333" stroke-width="2" d="M1432,1773.5V1782.5M1351.2,1773.5V1782.5M1270.5,1773.5V1782.5M1189.8,1773.5V1782.5M1109,1773.5V1782.5M1028.2,1773.5V1782.5M947.5,1773.5V1782.5M1391.6,1773.5V1778.5M1310.9,1773.5V1778.5M1230.1,1773.5V1778.5M1149.4,1773.5V1778.5M1068.6,1773.5V1778.5M987.9,1773.5V1778.5M939,1769H930M939,1732H930M939,1695H930M939,1658H930M939,1621H930M939,1584H930M939,1547H930M939,1510H930M939,1473H930M939,1436H930M939,1399H930M939,1362H930M939,1325H930M939,1750.5H934M939,1713.5H934M939,1676.5H934M939,1639.5H934M939,1602.5H934M939,1565.5H934M939,1528.5H934M939,1491.5H934M939,1454.5H934M939,1417.5H934M939,1380.5H934M939,1343.5H934M939,1306.5H934"/>
<rect x="939" y="1294" width="501.5" height="479.5" fill="none" stroke="#333" stroke-width="2"/>
<rect x="1521.5" y="1293.5" width="39.5" height="9.5" fill="#808080"/>
<rect x="1521.5" y="1753.1" width="39.5" height="10.2" fill="#0000ff"/>
<rect x="1521.5" y="1743.5" width="39.5" height="10.2" fill="#0016ff"/>
<rect x="1521.5" y="1734" width="39.5" height="10.2" fill="#002bff"/>
<rect x="1521.5" y="1724.4" width="39.5" height="10.2" fill="#0041ff"/>
<rect x="1521.5" y="1714.8" width="39.5" height="10.2" fill="#0057ff"/>
<rect x="1521.5" y="1705.2" width="39.5" height="10.2" fill="#006dff"/>
<rect x="1521.5" y="1695.6" width="39.5" height="10.2" fill="#0082ff"/>
<rect x="1521.5" y="1686" width="39.5" height="10.2" fill="#0098ff"/>
<rect x="1521.5" y="1676.5" width="39.5" height="10.2" fill="#00aeff"/>
<rect x="1521.5" y="1666.9" width="39.5" height="10.2" fill="#00c3ff"/>
<rect x="1521.5" y="1657.3" width="39.5" height="10.2" fill="#00d9ff"/>
<rect x="1521.5" y="1647.7" width="39.5" height="10.2" fill="#00efff"/>
<rect x="1521.5" y="1638.1" width="39.5" height="10.2" fill="#00fffa"/>
<rect x="1521.5" y="1628.5" width="39.5" height="10.2" fill="#00ffe4"/>
<rect x="1521.5" y="1619" width="39.5" height="10.2" fill="#00ffce"/>
<rect x="1521.5" y="1609.4" width="39.5" height="10.2" fill="#00ffb8"/>
<rect x="1521.5" y="1599.8" width="39.5" height="10.2" fill="#00ffa3"/>
<rect x="1521.5" y="1590.2" width="39.5" height="10.2" fill="#00ff8d"/>
<rect x="1521.5" y="1580.6" width="39.5" height="10.2" fill="#00ff77"/>
<rect x="1521.5" y="1571" width="39.5" height="10.2" fill="#00ff62"/>
<rect x="1521.5" y="1561.5" width="39.5" height="10.2" fill="#00ff4c"/>
<rect x="1521.5" y="1551.9" width="39.5" height="10.2" fill="#00ff36"/>
<rect x="1521.5" y="1542.3" width="39.5" height="10.2" fill="#00ff21"/>
<rect x="1521.5" y="1532.7" width="39.5" height="10.2" fill="#00ff0b"/>
<rect x="1521.5" y="1523.1" width="39.5" height="10.2" fill="#0bff00"/>
<rect x="1521.5" y="1513.5" width="39.5" height="10.2" fill="#21ff00"/>
<rect x="1521.5" y="1504" width="39.5" height="10.2" fill="#36ff00"/>
<rect x="1521.5" y="1494.4" width="39.5" height="10.2" fill="#4cff00"/>
<rect x="1521.5" y="1484.8" width="39.5" height="10.2" fill="#62ff00"/>
<rect x="1521.5" y="1475.2" width="39.5" height="10.2" fill="#77ff00"/>
<rect x="1521.5" y="1465.6" width="39.5" height="10.2" fill="#8dff00"/>
<rect x="1521.5" y="1456" width="39.5" height="10.2" fill="#a3ff00"/>
<rect x="1521.5" y="1446.5" width="39.5" height="10.2" fill="#b8ff00"/>
<rect x="1521.5" y="1436.9" width="39.5" height="10.2" fill="#ceff00"/>
<rect x="1521.5" y="1427.3" width="39.5" height="10.2" fill="#e4ff00"/>
<rect x="1521.5" y="1417.7" width="39.5" height="10.2" fill="#faff00"/>
<rect x="1521.5" y="1408.1" width="39.5" height="10.2" fill="#ffef00"/>
<rect x="1521.5" y="1398.5" width="39.5" height="10.2" fill="#ffd900"/>
<rect x="1521.5" y="1389" width="39.5" height="10.2" fill="#ffc300"/>
<rect x="1521.5" y="1379.4" width="39.5" height="10.2" fill="#ffae00"/>
<rect x="1521.5" y="1369.8" width="39.5" height="10.2" fill="#ff9800"/>
<rect x="1521.5" y="1360.2" width="39.5" height="10.2" fill="#ff8200"/>
<rect x="1521.5" y="1350.6" width="39.5" height="10.2" fill="#ff6d00"/>
<rect x="1521.5" y="1341" width="39.5" height="10.2" fill="#ff5700"/>
<rect x="1521.5" y="1331.5" width="39.5" height="10.2" fill="#ff4100"/>
<rect x="1521.5" y="1321.9" width="39.5" height="10.2" fill="#ff2b00"/>
<rect x="1521.5" y="1312.3" width="39.5" height="10.2" fill="#ff1600"/>
<rect x="1521.5" y="1302.7" width="39.5" height="10.2" fill="#ff0000"/>
<rect x="1521.5" y="1763" width="39.5" height="10.5" fill="#000"/>
<rect x="1521.5" y="1293.5" width="39.5" height="480.0" fill="none" stroke="#222" stroke-width="1.2"/>
<text x="1576" y="1308.5" font-size="15.5">26.00</text>
<text x="1576" y="1366" font-size="15.5">23.49</text>
<text x="1576" y="1423.5" font-size="15.5">20.98</text>
<text x="1576" y="1481" font-size="15.5">18.46</text>
<text x="1576" y="1538.5" font-size="15.5">15.95</text>
<text x="1576" y="1596" font-size="15.5">13.44</text>
<text x="1576" y="1653.5" font-size="15.5">10.93</text>
<text x="1576" y="1711" font-size="15.5">8.413</text>
<text x="1576" y="1768.5" font-size="15.5">5.900</text>
<path stroke="#444" stroke-width="2" d="M1561,1303H1570M1561,1360.5H1570M1561,1418H1570M1561,1475.5H1570M1561,1533H1570M1561,1590.5H1570M1561,1648H1570M1561,1705.5H1570M1561,1763H1570"/>
<text x="1408.6" y="1277.9" font-size="25" textLength="265.4" lengthAdjust="spacingAndGlyphs">Young's Modulus (MPa)</text>
<text x="1137.5" y="1327.4" font-size="25" textLength="296" lengthAdjust="spacingAndGlyphs">Random fibers (Polyblend)</text>
<text x="1190.5" y="1842.9" font-size="25" text-anchor="middle" textLength="245" lengthAdjust="spacingAndGlyphs">Fraction of H-PCL (%)</text>
<text x="886.5" y="1561" font-size="25" text-anchor="middle" transform="rotate(-90 886.5 1561)" textLength="202" lengthAdjust="spacingAndGlyphs">Strain at break (%)</text>
<text x="950.5" y="1706" font-size="57" font-weight="bold">(</text><text x="969.4" y="1704.2" font-size="62" font-weight="bold" style="font-family:'Liberation Serif', serif">g</text><text x="999.8" y="1706" font-size="57" font-weight="bold">)</text>
</g>
<g>
<path fill="#0000ff" d="M1311,2330.1L1199,2387.7L945.5,2392.8L968,2274.9L994.5,2147.1L1165,2012.9L1435.8,1929L1435,2085.3L1311,2330.1Z"/>
<path fill="#0016ff" d="M947.9,2392.8L946.3,2392.6L945.9,2391.7L945.7,2391.7L968,2274.9L994.5,2147.1L1165,2012.9L1435.8,1929L1435,2085.3L1311,2330.1L1199,2387.7L947.9,2392.8Z"/>
<path fill="#002bff" d="M956.6,2392.6L949.4,2391.9L947.5,2387.8L946.4,2387.8L968,2274.9L994.5,2147.1L1165,2012.9L1435.8,1929L1435,2085.3L1311,2330.1L1199,2387.7L956.6,2392.6Z"/>
<path fill="#0041ff" d="M965.3,2392.4L952.4,2391.2L950,2385.7L948.7,2383.8L947.2,2384L968,2274.9L994.5,2147.1L1165,2012.9L1435.8,1929L1435,2085.3L1311,2330.1L1199,2387.7L965.3,2392.4Z"/>
<path fill="#0057ff" d="M974,2392.3L955.5,2390.5L953.9,2387L949.4,2379.9L947.9,2380.1L968,2274.9L994.5,2147.1L1165,2012.9L1435.8,1929L1435,2085.3L1311,2330.1L1199,2387.7L974,2392.3Z"/>
<path fill="#006dff" d="M982.7,2392.1L958.5,2389.8L957.8,2388.2L950.1,2376.1L948.7,2376.2L968,2274.9L994.5,2147.1L1165,2012.9L1435.8,1929L1435,2085.3L1311,2330.1L1199,2387.7L982.7,2392.1Z"/>
<path fill="#0082ff" d="M991.3,2391.9L962.9,2389.2L961.6,2389L962.3,2388.3L961.3,2388.3L961.1,2388.4L950.8,2372.2L949.4,2372.3L968,2274.9L994.5,2147.1L1165,2012.9L1435.8,1929L1435,2085.3L1311,2330.1L1199,2387.7L991.3,2391.9Z"/>
<path fill="#0098ff" d="M1000,2391.7L972.8,2389.2L964.8,2387.6L968.9,2383.3L962.7,2383.6L961.3,2383.8L951.5,2368.3L950.2,2368.4L968,2274.9L994.5,2147.1L1165,2012.9L1435.8,1929L1435,2085.3L1311,2330.1L1199,2387.7L1000,2391.7Z"/>
<path fill="#00aeff" d="M1008.7,2391.6L982.7,2389.1L968,2386.2L975.5,2378.4L964,2378.9L961.6,2379.3L952.2,2364.4L950.9,2364.5L968,2274.9L994.5,2147.1L1165,2012.9L1435.8,1929L1435,2085.3L1311,2330.1L1199,2387.7L1008.7,2391.6Z"/>
<path fill="#00c3ff" d="M1017.4,2391.4L992.5,2389L971.2,2384.8L981.7,2373.9L981.5,2373.1L981.5,2373.6L981.2,2372.3L981.4,2373.5L965.4,2374.3L961.9,2374.8L952.9,2360.5L951.6,2360.6L968,2274.9L994.5,2147.1L1165,2012.9L1435.8,1929L1435,2085.3L1311,2330.1L1199,2387.7L1017.4,2391.4Z"/>
<path fill="#00d9ff" d="M1026.1,2391.2L1002.4,2389L974.3,2383.4L984.3,2373.1L982.1,2364L981.2,2370L977.6,2354.3L979.8,2369L966.8,2369.6L962.2,2370.2L953.6,2356.6L952.4,2356.7L968,2274.9L994.5,2147.1L1165,2012.9L1435.8,1929L1435,2085.3L1311,2330.1L1199,2387.7L1026.1,2391.2Z"/>
<path fill="#00efff" d="M1034.7,2391L1012.3,2388.9L977.5,2382L986.9,2372.3L982.6,2355L980.9,2366.4L975.1,2340.5L974.9,2340L974.9,2341.4L978.3,2364.4L968.2,2364.9L962.4,2365.7L954.2,2352.8L953.1,2352.8L968,2274.9L994.5,2147.1L1165,2012.9L1435.8,1929L1435,2085.3L1311,2330.1L1199,2387.7L1034.7,2391Z"/>
<path fill="#00fffa" d="M1043.4,2390.9L1022.1,2388.9L980.7,2380.6L989.5,2371.5L983.1,2345.9L980.7,2362.8L975.3,2339.3L974.6,2336.8L974.3,2343.5L976.8,2359.9L969.6,2360.2L962.7,2361.2L954.9,2348.9L953.9,2349L968,2274.9L994.5,2147.1L1165,2012.9L1435.8,1929L1435,2085.3L1311,2330.1L1199,2387.7L1043.4,2390.9Z"/>
<path fill="#00ffe4" d="M1052.1,2390.7L1032,2388.8L983.9,2379.2L992,2370.7L983.6,2336.9L980.4,2359.2L975.6,2338.1L974.2,2333.5L973.8,2345.5L975.3,2355.3L971,2355.5L963,2356.6L955.6,2345L954.6,2345.1L968,2274.9L994.5,2147.1L1165,2012.9L1435.8,1929L1435,2085.3L1311,2330.1L1199,2387.7L1052.1,2390.7Z"/>
<path fill="#00ffce" d="M1060.8,2390.5L1041.9,2388.7L987,2377.8L994.6,2370L984.1,2327.8L980.1,2355.6L975.9,2336.8L973.9,2330.3L973.3,2347.6L973.7,2350.8L972.4,2350.8L963.3,2352.1L956.3,2341.1L955.4,2341.2L968,2274.9L994.5,2147.1L1165,2012.9L1435.8,1929L1435,2085.3L1311,2330.1L1199,2387.7L1060.8,2390.5Z"/>
<path fill="#00ffb8" d="M1069.5,2390.3L1051.7,2388.7L990.2,2376.4L997.2,2369.2L984.7,2318.8L979.9,2352L976.1,2335.6L973.5,2327L972.8,2346.3L963.6,2347.6L957,2337.2L956.1,2337.3L968,2274.9L994.5,2147.1L1165,2012.9L1435.8,1929L1435,2085.3L1311,2330.1L1199,2387.7L1069.5,2390.3Z"/>
<path fill="#00ffa3" d="M1078.1,2390.2L1061.6,2388.6L993.4,2375L999.8,2368.4L985.2,2309.7L979.6,2348.4L976.4,2334.4L973.2,2323.8L972.5,2341.8L963.8,2343.1L957.7,2333.3L956.8,2333.4L968,2274.9L994.5,2147.1L1165,2012.9L1435.8,1929L1435,2085.3L1311,2330.1L1199,2387.7L1078.1,2390.2Z"/>
<path fill="#00ff8d" d="M1086.8,2390L1071.5,2388.5L996.6,2373.6L1002.3,2367.6L985.7,2300.7L979.3,2344.8L976.7,2333.1L972.8,2320.5L972.2,2337.4L964.1,2338.5L958.4,2329.5L957.6,2329.5L968,2274.9L994.5,2147.1L1165,2012.9L1435.8,1929L1435,2085.3L1311,2330.1L1199,2387.7L1086.8,2390Z"/>
<path fill="#00ff77" d="M1095.5,2389.8L1081.3,2388.5L999.7,2372.2L1004.9,2366.8L986.2,2291.6L979,2341.2L976.9,2331.9L972.5,2317.3L971.9,2332.9L964.4,2334L959.1,2325.6L958.3,2325.6L968,2274.9L994.5,2147.1L1165,2012.9L1435.8,1929L1435,2085.3L1311,2330.1L1199,2387.7L1095.5,2389.8Z"/>
<path fill="#00ff62" d="M1104.2,2389.6L1091.2,2388.4L1002.9,2370.8L1007.5,2366.1L986.7,2282.6L978.8,2337.6L977.2,2330.7L972.2,2314L971.6,2328.5L964.7,2329.5L959.7,2321.7L959.1,2321.7L968,2274.9L994.5,2147.1L1165,2012.9L1435.8,1929L1435,2085.3L1311,2330.1L1199,2387.7L1104.2,2389.6Z"/>
<path fill="#00ff4c" d="M1112.9,2389.5L1101.1,2388.4L1006.1,2369.4L1010,2365.3L987.3,2273.5L978.5,2334L977.5,2329.4L971.8,2310.8L971.3,2324L964.9,2324.9L960.4,2317.8L959.8,2317.8L968,2274.9L994.5,2147.1L1165,2012.9L1435.8,1929L1435,2085.3L1311,2330.1L1199,2387.7L1112.9,2389.5Z"/>
<path fill="#00ff36" d="M1121.5,2389.3L1111,2388.3L1009.3,2368L1012.6,2364.5L987.8,2264.5L978.2,2330.4L977.7,2328.2L971.5,2307.5L971,2319.6L965.2,2320.4L961.1,2313.9L960.6,2314L968,2274.9L994.5,2147.1L1165,2012.9L1435.8,1929L1435,2085.3L1311,2330.1L1199,2387.7L1121.5,2389.3Z"/>
<path fill="#00ff21" d="M1130.2,2389.1L1120.8,2388.2L1012.4,2366.6L1015.2,2363.7L988.3,2255.4L978.1,2325.9L977.9,2326.6L971.1,2304.3L970.7,2315.1L965.5,2315.9L961.8,2310L961.3,2310.1L968,2274.9L994.5,2147.1L1165,2012.9L1435.8,1929L1435,2085.3L1311,2330.1L1199,2387.7L1130.2,2389.1Z"/>
<path fill="#00ff0b" d="M1138.9,2388.9L1130.7,2388.2L1015.6,2365.2L1017.8,2362.9L988.8,2246.3L979.5,2311L976.8,2320.9L970.8,2301L970.4,2310.7L965.8,2311.3L962.5,2306.1L962,2306.2L968,2274.9L994.5,2147.1L1165,2012.9L1435.8,1929L1435,2085.3L1311,2330.1L1199,2387.7L1138.9,2388.9Z"/>
<path fill="#0bff00" d="M1147.6,2388.8L1140.6,2388.1L1018.8,2363.8L1020.3,2362.2L989.3,2237.3L980.8,2296L975.7,2315.2L970.4,2297.8L970.1,2306.2L966.1,2306.8L963.2,2302.3L962.8,2302.3L968,2274.9L994.5,2147.1L1165,2012.9L1435.8,1929L1435,2085.3L1311,2330.1L1199,2387.7L1147.6,2388.8Z"/>
<path fill="#21ff00" d="M1156.3,2388.6L1150.4,2388L1022,2362.4L1022.9,2361.4L989.9,2228.2L982.2,2281.1L974.6,2309.5L970.1,2294.5L969.8,2301.8L966.3,2302.3L963.9,2298.4L963.5,2298.4L968,2274.9L994.5,2147.1L1165,2012.9L1435.8,1929L1435,2085.3L1311,2330.1L1199,2387.7L1156.3,2388.6Z"/>
<path fill="#36ff00" d="M1164.9,2388.4L1160.3,2388L1025.1,2361L1025.5,2360.6L990.4,2219.2L983.6,2266.1L973.5,2303.7L969.8,2291.3L969.5,2297.3L966.6,2297.8L964.6,2294.5L964.3,2294.5L968,2274.9L994.5,2147.1L1165,2012.9L1435.8,1929L1435,2085.3L1311,2330.1L1199,2387.7L1164.9,2388.4Z"/>
<path fill="#4cff00" d="M1173.6,2388.2L1170.2,2387.9L1048.6,2363.6L1032.2,2355.8L1027.5,2356.7L1025.1,2348L990.9,2210.1L985,2251.2L972.4,2298L969.4,2288L969.2,2292.9L966.9,2293.2L965.2,2290.6L965,2290.6L968,2274.9L994.5,2147.1L1165,2012.9L1435.8,1929L1435,2085.3L1311,2330.1L1199,2387.7L1173.6,2388.2Z"/>
<path fill="#62ff00" d="M1182.3,2388.1L1180,2387.9L1100.1,2371.9L1044.5,2345.4L1028.6,2348.5L1020.7,2319.1L991.4,2201.1L986.3,2236.2L971.3,2292.3L969.1,2284.8L968.9,2288.4L967.2,2288.7L965.9,2286.7L965.8,2286.7L968,2274.9L994.5,2147.1L1165,2012.9L1435.8,1929L1435,2085.3L1311,2330.1L1199,2387.7L1182.3,2388.1Z"/>
<path fill="#77ff00" d="M1191,2387.9L1189.9,2387.8L1151.5,2380.1L1056.8,2335.1L1029.7,2340.3L1016.3,2290.3L991.9,2192L987.7,2221.3L970.3,2286.6L968.7,2281.5L968.6,2284L967.4,2284.2L966.6,2282.8L966.5,2282.9L968,2274.9L994.5,2147.1L1165,2012.9L1435.8,1929L1435,2085.3L1311,2330.1L1199,2387.7L1191,2387.9Z"/>
<path fill="#8dff00" d="M1202.5,2385.9L1198.8,2386.1L1194.8,2384.5L1069.1,2324.7L1030.8,2332.1L1011.9,2261.4L992.5,2183L989.1,2206.3L969.2,2280.9L968.4,2278.3L968.3,2279.5L967.7,2279.6L967.3,2279L967.2,2279L968,2274.9L994.5,2147.1L1165,2012.9L1435.8,1929L1435,2085.3L1311,2330.1L1202.5,2385.9Z"/>
<path fill="#a3ff00" d="M1248.1,2362.5L1196.9,2365.2L1141.1,2342.7L1081.4,2314.3L1032,2323.8L1007.5,2232.5L993,2173.9L990.5,2191.4L968.1,2275.2L968,2275L968,2275.1L968,2275.1L968,2275.1L968,2275.1L968,2274.9L994.5,2147.1L1165,2012.9L1435.8,1929L1435,2085.3L1311,2330.1L1248.1,2362.5Z"/>
<path fill="#b8ff00" d="M1293.6,2339L1195,2344.2L1092.9,2303.2L1091.7,2304.3L1033.1,2315.6L1003.1,2203.7L993.5,2164.9L991.8,2176.4L976.7,2233L994.5,2147.1L1165,2012.9L1435.8,1929L1435,2085.3L1311,2330.1L1293.6,2339ZM1339.4,2196.1L1332.8,2233.9L1342.2,2196.3L1342.6,2195.5L1342.3,2195.7L1342.8,2194.8L1342.4,2193.9L1339.4,2196.1Z"/>
<path fill="#ceff00" d="M1318.5,2315.3L1351,2185.9L1353.6,2179.6L1351.8,2181L1355.5,2174.1L1351.9,2166.9L1328.4,2184.5L1305.2,2317.4L1193.1,2323.2L1097.5,2284.8L1083.3,2298L1034.2,2307.4L998.7,2174.8L994,2155.8L993.2,2161.5L985.8,2189.2L994.5,2147.1L1165,2012.9L1435.8,1929L1435,2085.3L1318.5,2315.3Z"/>
<path fill="#e4ff00" d="M1330.6,2291.4L1359.7,2175.4L1364.7,2163.7L1361.3,2166.4L1368.1,2153.4L1361.4,2139.8L1317.3,2173L1295.7,2296.8L1191.2,2302.3L1102.1,2266.5L1074.9,2291.6L1035.3,2299.2L995,2148.3L995,2146.7L1165,2012.9L1435.8,1929L1435,2085.3L1330.6,2291.4Z"/>
<path fill="#faff00" d="M1342.7,2267.5L1368.4,2165L1375.7,2147.8L1370.7,2151.7L1380.8,2132.7L1371,2112.8L1306.3,2161.4L1286.2,2276.3L1189.3,2281.3L1106.6,2248.1L1066.4,2285.2L1036.5,2291L1005.9,2176.6L1007.3,2137L1165,2012.9L1435.8,1929L1435,2085.3L1342.7,2267.5Z"/>
<path fill="#ffef00" d="M1354.8,2243.7L1377.2,2154.5L1386.8,2131.8L1380.2,2137.1L1393.4,2112L1380.5,2085.7L1295.3,2149.8L1276.8,2255.7L1187.4,2260.4L1111.2,2229.8L1058,2278.9L1037.6,2282.8L1016.7,2204.8L1019.7,2127.4L1165,2012.9L1435.8,1929L1435,2085.3L1354.8,2243.7Z"/>
<path fill="#ffd900" d="M1366.9,2219.8L1385.9,2144.1L1397.9,2115.9L1389.7,2122.4L1406.1,2091.2L1390.1,2058.6L1284.2,2138.2L1267.3,2235.2L1185.5,2239.4L1115.7,2211.4L1049.6,2272.5L1038.7,2274.6L1027.6,2233.1L1032,2117.7L1165,2012.9L1435.8,1929L1435,2085.3L1366.9,2219.8Z"/>
<path fill="#ffc300" d="M1379,2195.9L1394.6,2133.6L1408.9,2100L1399.1,2107.8L1418.8,2070.5L1399.6,2031.6L1273.2,2126.6L1257.8,2214.6L1183.6,2218.5L1120.3,2193L1041.2,2266.1L1039.9,2266.4L1038.5,2261.4L1044.3,2108L1165,2012.9L1435.8,1929L1435,2085.3L1379,2195.9Z"/>
<path fill="#ffae00" d="M1391.1,2172L1403.3,2123.2L1420,2084.1L1408.6,2093.1L1431.4,2049.8L1409.1,2004.5L1262.2,2115L1248.4,2194L1181.7,2197.5L1124.9,2174.7L1051.2,2242.8L1056.6,2098.3L1165,2012.9L1435.8,1929L1435,2085.3L1391.1,2172Z"/>
<path fill="#ff9800" d="M1403.2,2148.1L1412.1,2112.8L1431,2068.2L1418,2078.5L1435,2046.3L1435.2,2011.1L1418.7,1977.5L1251.2,2103.4L1238.9,2173.5L1179.8,2176.6L1129.4,2156.3L1064.1,2216.7L1068.9,2088.6L1165,2012.9L1435.8,1929L1435,2085.3L1403.2,2148.1Z"/>
<path fill="#ff8200" d="M1415.3,2124.2L1420.8,2102.3L1435,2068.9L1435.3,2002.7L1435,2057.9L1427.5,2063.8L1435,2049.6L1435.5,1965.3L1428.2,1950.4L1240.1,2091.8L1229.5,2152.9L1177.9,2155.6L1134,2138L1077,2190.6L1081.2,2078.9L1165,2012.9L1435.8,1929L1435,2085.3L1415.3,2124.2Z"/>
<path fill="#ff6d00" d="M1426.4,1931.9L1229.1,2080.3L1220,2132.4L1176,2134.7L1138.5,2119.6L1089.9,2164.5L1093.5,2069.2L1165,2012.9L1426.4,1931.9ZM1427.4,2100.3L1429.5,2091.9L1435,2079L1435.6,1968.1L1435,2085.3L1427.4,2100.3Z"/>
<path fill="#ff5700" d="M1381.4,1945.9L1218.1,2068.7L1210.5,2111.8L1174.1,2113.7L1143.1,2101.2L1102.9,2138.4L1105.8,2059.5L1165,2012.9L1381.4,1945.9Z"/>
<path fill="#ff4100" d="M1336.4,1959.8L1207,2057.1L1201.1,2091.2L1172.2,2092.8L1147.6,2082.9L1115.8,2112.3L1118.1,2049.8L1165,2012.9L1336.4,1959.8Z"/>
<path fill="#ff2b00" d="M1291.4,1973.8L1196,2045.5L1191.6,2070.7L1170.3,2071.8L1152.2,2064.5L1128.7,2086.2L1130.4,2040.2L1165,2012.9L1291.4,1973.8Z"/>
<path fill="#ff1600" d="M1246.4,1987.7L1185,2033.9L1182.1,2050.1L1168.4,2050.9L1156.8,2046.2L1141.6,2060.1L1142.7,2030.5L1165,2012.9L1246.4,1987.7Z"/>
<path fill="#ff0000" d="M1201.4,2001.7L1173.9,2022.3L1172.7,2029.6L1166.5,2029.9L1161.3,2027.8L1154.6,2034.1L1155,2020.8L1165,2012.9L1201.4,2001.7Z"/>
<path fill="none" stroke="#3a3a3a" stroke-width="1" stroke-opacity="0.85" d="M991.3,2391.9L962.9,2389.2L961.6,2389L962.3,2388.3L961.3,2388.3L961.1,2388.4L950.8,2372.2L949.4,2372.3M1043.4,2390.9L1022.1,2388.9L980.7,2380.6L989.5,2371.5L983.1,2345.9L980.7,2362.8L975.3,2339.3L974.6,2336.8L974.3,2343.5L976.8,2359.9L969.6,2360.2L962.7,2361.2L954.9,2348.9L953.9,2349M1095.5,2389.8L1081.3,2388.5L999.7,2372.2L1004.9,2366.8L986.2,2291.6L979,2341.2L976.9,2331.9L972.5,2317.3L971.9,2332.9L964.4,2334L959.1,2325.6L958.3,2325.6M1147.6,2388.8L1140.6,2388.1L1018.8,2363.8L1020.3,2362.2L989.3,2237.3L980.8,2296L975.7,2315.2L970.4,2297.8L970.1,2306.2L966.1,2306.8L963.2,2302.3L962.8,2302.3M1202.5,2385.9L1198.8,2386.1L1194.8,2384.5L1069.1,2324.7L1030.8,2332.1L1011.9,2261.4L992.5,2183L989.1,2206.3L969.2,2280.9L968.4,2278.3L968.3,2279.5L967.7,2279.6L967.3,2279L967.2,2279M1354.8,2243.7L1377.2,2154.5L1386.8,2131.8L1380.2,2137.1L1393.4,2112L1380.5,2085.7L1295.3,2149.8L1276.8,2255.7L1187.4,2260.4L1111.2,2229.8L1058,2278.9L1037.6,2282.8L1016.7,2204.8L1019.7,2127.4M1426.4,1931.9L1229.1,2080.3L1220,2132.4L1176,2134.7L1138.5,2119.6L1089.9,2164.5L1093.5,2069.2M1427.4,2100.3L1429.5,2091.9L1435,2079L1435.6,1968.1"/>
<circle cx="1435.8" cy="1929" r="5.4"/>
<circle cx="1165" cy="2012.9" r="5.4"/>
<circle cx="1435" cy="2085.3" r="5.4"/>
<circle cx="1435" cy="2043.9" r="5.4"/>
<circle cx="1435" cy="2052.3" r="5.4"/>
<circle cx="1435" cy="2062.5" r="5.4"/>
<circle cx="994.5" cy="2147.1" r="5.4"/>
<circle cx="1341" cy="2197.8" r="5.4"/>
<circle cx="1040" cy="2265.3" r="5.4"/>
<circle cx="968" cy="2274.9" r="5.4"/>
<circle cx="1092.5" cy="2305" r="5.4"/>
<circle cx="1311" cy="2330.1" r="5.4"/>
<circle cx="978" cy="2327.1" r="5.4"/>
<circle cx="975" cy="2340.9" r="5.4"/>
<circle cx="973" cy="2348.6" r="5.4"/>
<circle cx="1027" cy="2360.1" r="5.4"/>
<circle cx="981.5" cy="2373.9" r="5.4"/>
<circle cx="1199" cy="2387.7" r="5.4"/>
<circle cx="948.5" cy="2385.3" r="5.4"/>
<circle cx="961" cy="2389.2" r="5.4"/>
<circle cx="945.5" cy="2392.8" r="5.4"/>
<text x="1028" y="2430.5" text-anchor="middle" font-size="20">200</text>
<text x="1129.8" y="2430.5" text-anchor="middle" font-size="20">400</text>
<text x="1231.5" y="2430.5" text-anchor="middle" font-size="20">600</text>
<text x="1333.2" y="2430.5" text-anchor="middle" font-size="20">800</text>
<text x="1435" y="2430.5" text-anchor="middle" font-size="20">1000</text>
<text x="923" y="2357.3" text-anchor="end" font-size="20">5</text>
<text x="923" y="2262.8" text-anchor="end" font-size="20">10</text>
<text x="923" y="2168.3" text-anchor="end" font-size="20">15</text>
<text x="923" y="2073.8" text-anchor="end" font-size="20">20</text>
<text x="923" y="1979.3" text-anchor="end" font-size="20">25</text>
<path fill="none" stroke="#333" stroke-width="2" d="M1028,2398.5V2407.5M1129.8,2398.5V2407.5M1231.5,2398.5V2407.5M1333.2,2398.5V2407.5M1435,2398.5V2407.5M977.1,2398.5V2403.5M1078.9,2398.5V2403.5M1180.6,2398.5V2403.5M1282.4,2398.5V2403.5M1384.1,2398.5V2403.5M940,2350.5H931M940,2256H931M940,2161.5H931M940,2067H931M940,1972.5H931M940,2303.2H935M940,2208.8H935M940,2114.2H935M940,2019.8H935M940,1925.2H935"/>
<rect x="940" y="1918.5" width="501" height="480.0" fill="none" stroke="#333" stroke-width="2"/>
<rect x="1521.5" y="1918.5" width="39.5" height="9.0" fill="#808080"/>
<rect x="1521.5" y="2378.6" width="39.5" height="10.2" fill="#0000ff"/>
<rect x="1521.5" y="2369" width="39.5" height="10.2" fill="#0016ff"/>
<rect x="1521.5" y="2359.4" width="39.5" height="10.2" fill="#002bff"/>
<rect x="1521.5" y="2349.8" width="39.5" height="10.2" fill="#0041ff"/>
<rect x="1521.5" y="2340.2" width="39.5" height="10.2" fill="#0057ff"/>
<rect x="1521.5" y="2330.6" width="39.5" height="10.2" fill="#006dff"/>
<rect x="1521.5" y="2321" width="39.5" height="10.2" fill="#0082ff"/>
<rect x="1521.5" y="2311.4" width="39.5" height="10.2" fill="#0098ff"/>
<rect x="1521.5" y="2301.8" width="39.5" height="10.2" fill="#00aeff"/>
<rect x="1521.5" y="2292.2" width="39.5" height="10.2" fill="#00c3ff"/>
<rect x="1521.5" y="2282.6" width="39.5" height="10.2" fill="#00d9ff"/>
<rect x="1521.5" y="2272.9" width="39.5" height="10.2" fill="#00efff"/>
<rect x="1521.5" y="2263.3" width="39.5" height="10.2" fill="#00fffa"/>
<rect x="1521.5" y="2253.7" width="39.5" height="10.2" fill="#00ffe4"/>
<rect x="1521.5" y="2244.1" width="39.5" height="10.2" fill="#00ffce"/>
<rect x="1521.5" y="2234.5" width="39.5" height="10.2" fill="#00ffb8"/>
<rect x="1521.5" y="2224.9" width="39.5" height="10.2" fill="#00ffa3"/>
<rect x="1521.5" y="2215.3" width="39.5" height="10.2" fill="#00ff8d"/>
<rect x="1521.5" y="2205.7" width="39.5" height="10.2" fill="#00ff77"/>
<rect x="1521.5" y="2196.1" width="39.5" height="10.2" fill="#00ff62"/>
<rect x="1521.5" y="2186.5" width="39.5" height="10.2" fill="#00ff4c"/>
<rect x="1521.5" y="2176.9" width="39.5" height="10.2" fill="#00ff36"/>
<rect x="1521.5" y="2167.3" width="39.5" height="10.2" fill="#00ff21"/>
<rect x="1521.5" y="2157.7" width="39.5" height="10.2" fill="#00ff0b"/>
<rect x="1521.5" y="2148.1" width="39.5" height="10.2" fill="#0bff00"/>
<rect x="1521.5" y="2138.5" width="39.5" height="10.2" fill="#21ff00"/>
<rect x="1521.5" y="2128.9" width="39.5" height="10.2" fill="#36ff00"/>
<rect x="1521.5" y="2119.3" width="39.5" height="10.2" fill="#4cff00"/>
<rect x="1521.5" y="2109.7" width="39.5" height="10.2" fill="#62ff00"/>
<rect x="1521.5" y="2100.1" width="39.5" height="10.2" fill="#77ff00"/>
<rect x="1521.5" y="2090.5" width="39.5" height="10.2" fill="#8dff00"/>
<rect x="1521.5" y="2080.9" width="39.5" height="10.2" fill="#a3ff00"/>
<rect x="1521.5" y="2071.3" width="39.5" height="10.2" fill="#b8ff00"/>
<rect x="1521.5" y="2061.7" width="39.5" height="10.2" fill="#ceff00"/>
<rect x="1521.5" y="2052.1" width="39.5" height="10.2" fill="#e4ff00"/>
<rect x="1521.5" y="2042.4" width="39.5" height="10.2" fill="#faff00"/>
<rect x="1521.5" y="2032.8" width="39.5" height="10.2" fill="#ffef00"/>
<rect x="1521.5" y="2023.2" width="39.5" height="10.2" fill="#ffd900"/>
<rect x="1521.5" y="2013.6" width="39.5" height="10.2" fill="#ffc300"/>
<rect x="1521.5" y="2004" width="39.5" height="10.2" fill="#ffae00"/>
<rect x="1521.5" y="1994.4" width="39.5" height="10.2" fill="#ff9800"/>
<rect x="1521.5" y="1984.8" width="39.5" height="10.2" fill="#ff8200"/>
<rect x="1521.5" y="1975.2" width="39.5" height="10.2" fill="#ff6d00"/>
<rect x="1521.5" y="1965.6" width="39.5" height="10.2" fill="#ff5700"/>
<rect x="1521.5" y="1956" width="39.5" height="10.2" fill="#ff4100"/>
<rect x="1521.5" y="1946.4" width="39.5" height="10.2" fill="#ff2b00"/>
<rect x="1521.5" y="1936.8" width="39.5" height="10.2" fill="#ff1600"/>
<rect x="1521.5" y="1927.2" width="39.5" height="10.2" fill="#ff0000"/>
<rect x="1521.5" y="2388.5" width="39.5" height="10" fill="#000"/>
<rect x="1521.5" y="1918.5" width="39.5" height="480.0" fill="none" stroke="#222" stroke-width="1.2"/>
<text x="1576" y="1933" font-size="15.5">26.00</text>
<text x="1576" y="1990.7" font-size="15.5">23.49</text>
<text x="1576" y="2048.3" font-size="15.5">20.98</text>
<text x="1576" y="2105.9" font-size="15.5">18.46</text>
<text x="1576" y="2163.5" font-size="15.5">15.95</text>
<text x="1576" y="2221.2" font-size="15.5">13.44</text>
<text x="1576" y="2278.8" font-size="15.5">10.93</text>
<text x="1576" y="2336.4" font-size="15.5">8.413</text>
<text x="1576" y="2394" font-size="15.5">5.900</text>
<path stroke="#444" stroke-width="2" d="M1561,1927.5H1570M1561,1985.1H1570M1561,2042.8H1570M1561,2100.4H1570M1561,2158H1570M1561,2215.6H1570M1561,2273.2H1570M1561,2330.9H1570M1561,2388.5H1570"/>
<text x="1411.2" y="1900.4" font-size="25" textLength="261.8" lengthAdjust="spacingAndGlyphs">Young's Modulus (MPa)</text>
<text x="957.5" y="1951.9" font-size="25" textLength="295" lengthAdjust="spacingAndGlyphs">Random fibers (Polyblend)</text>
<text x="1191.25" y="2467.9" font-size="25" text-anchor="middle" textLength="207.5" lengthAdjust="spacingAndGlyphs">Strain at break (%)</text>
<text x="891.2" y="2161.7" font-size="25" text-anchor="middle" transform="rotate(-90 891.2 2161.7)" textLength="242.2" lengthAdjust="spacingAndGlyphs">Stress at break (MPa)</text>
<text x="1002.5" y="2055.7" font-size="56" font-weight="bold" textLength="72.5" lengthAdjust="spacingAndGlyphs">(h)</text>
</g>
<rect x="1.5" y="1.5" width="1685" height="2477" fill="none" stroke="#000" stroke-width="3"/>
</svg>
</body></html>
